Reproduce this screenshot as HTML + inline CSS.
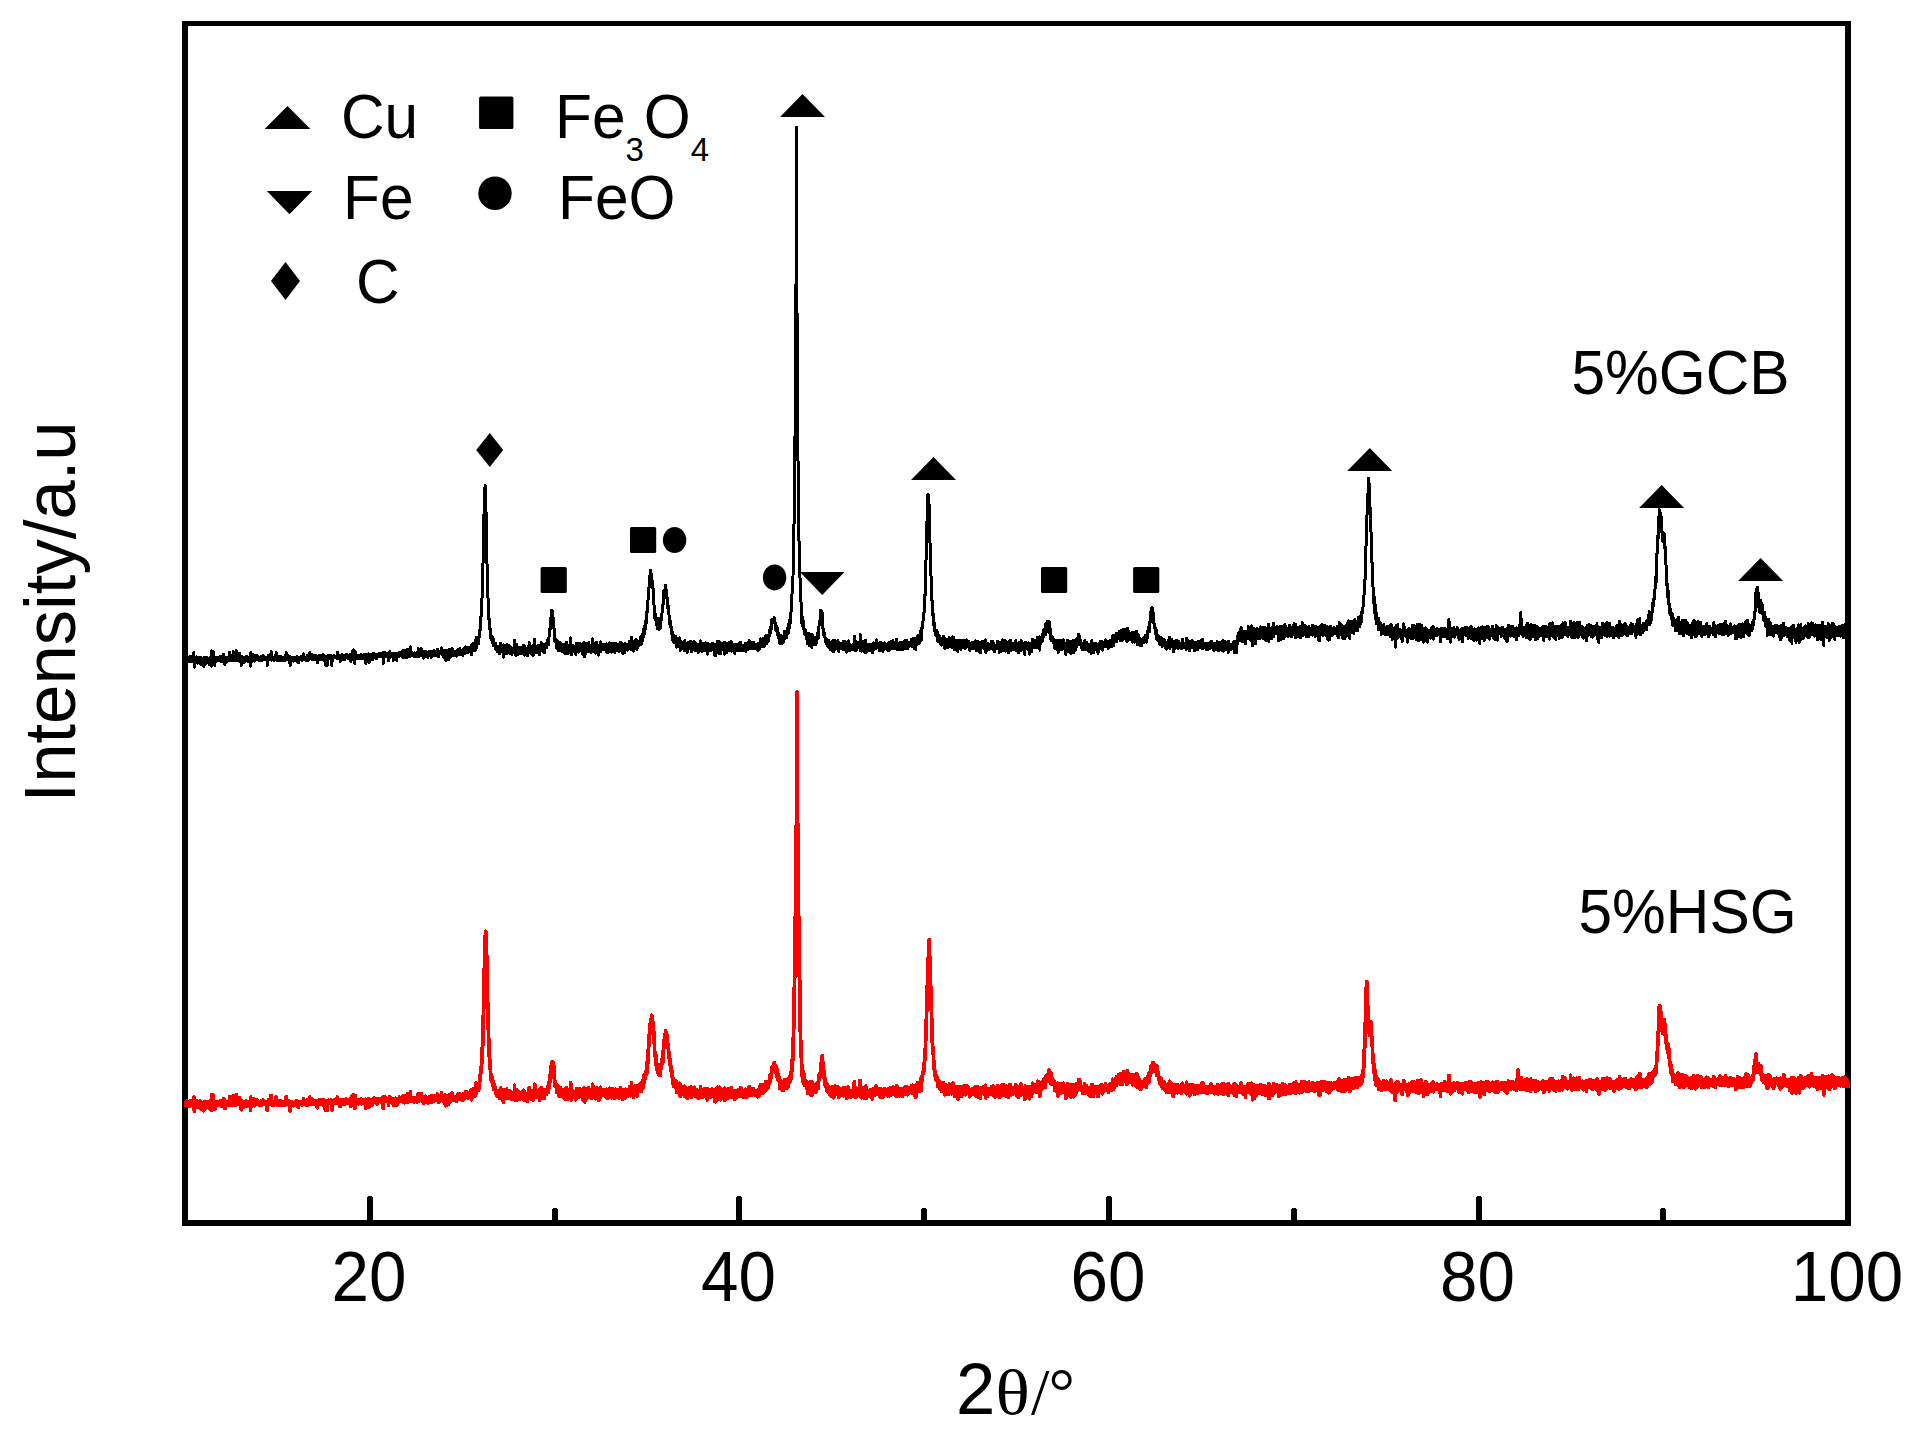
<!DOCTYPE html>
<html lang="en"><head><meta charset="utf-8"><title>XRD patterns</title>
<style>
html,body{margin:0;padding:0;background:#fff;}
body{width:1921px;height:1437px;overflow:hidden;}
svg{display:block;font-family:"Liberation Sans",sans-serif;}
.ser{font-family:"Liberation Serif",serif;}
</style></head><body>
<svg width="1921" height="1437" viewBox="0 0 1921 1437">
<rect x="0" y="0" width="1921" height="1437" fill="#fff"/>
<g fill="#000" shape-rendering="crispEdges"><rect x="182" y="21" width="6" height="1205"/><rect x="1845" y="21" width="6" height="1205"/><rect x="182" y="21" width="1669" height="5"/><rect x="182" y="1220" width="1669" height="6"/></g>
<g fill="none" stroke-linejoin="round" stroke-linecap="round" shape-rendering="crispEdges" transform="translate(185.6,0) scale(0.185,1)">
<path vector-effect="non-scaling-stroke" stroke="#000" stroke-width="3.0" d="M0 661.7l1-2.8l1 .6l1 .5l1-1.6l1 1.1l1 0l1-2.3l1 3.6l1-.6l1-1.5l1 .5l1 .9l1-1l1 0l1-1.5l1 2.6l1-.6l1 .2l1-2.3l1 4.1l1-2l1-.7l1 3.2l1-2.7l1-1.8l1 1.3l1-2.4l1 4.3l1-1.9l1-.4l1 2.3l1-3.5l1 2.8l1-3.4l1 1.9l1-.7l1 3.4l1 .4l1-2.7l1 1.5l1-1.3l1 1l1-1.8l1-5.5l1-.1l1 7.1l1 7.2l1-7.3l1-1.1l1 3.2l1-2.2l1-.2l1 .2l1-.5l1-.2l1-1.5l1 2.5l1-.7l1 1.6l1-2l1-2l1 2.3l1 2.4l1 1.5l1-4.9l1-.4l1 .2l1 1l1-1.2l1 3.5l1-2.3l1 .5l1 1.7l1 .1l1-2.2l1 .7l1 .5l1-1.2l1-2.1l1 3.2l1 .3l1-.6l1 4.9l1-5.7l1-.5l1 .3l1 2.1l1 .3l1-1.1l1-.2l1 .2l1-.9l1-.1l1-.8l1 .9l1 3l1-1.8l1 6.1l1-7.9l1-.5l1 1.6l1 0l1-2.4l1 2.5l1-1.3l1 6.2l1-5.3l1 2.1l1-2.9l1 .2l1 .8l1 1l1-.7l1-2.3l1 1.8l1-.2l1-.6l1-.3l1 3.2l1-2.8l1-.6l1 1.9l1 3l1-3.9l1 1.1l1-.4l1-.2l1 4.7l1-4.8l1-1.1l1 .3l1-.2l1 .9l1-1.7l1-.9l1 2.5l1-1.9l1-.8l1 9.5l1-15.3l1 9l1-1.3l1-.8l1-5.1l1 5.9l1 .3l1-.7l1-4.3l1-2.8l1 8.2l1-2.4l1 2.1l1 1.1l1 .6l1 .8l1-4.3l1 8.1l1-4.5l1-.3l1-2.5l1 1.8l1 1.9l1-4.5l1 2.6l1 .9l1-2.4l1 1.7l1-2.2l1 .3l1 0l1 1.4l1-.4l1 1.3l1-2.4l1 1l1 1.5l1-.6l1-2.5l1 2.7l1-1.5l1 1.1l1-.1l1 1.2l1-1.5l1-2.6l1 .7l1 2.7l1-1.3l1 1.9l1-1.2l1-1.3l1 2.4l1-2.5l1-1.6l1 5.4l1-5.3l1 3.4l1 .4l1-1.1l1-2.4l1 3.6l1-3.2l1 .1l1 1.3l1 1.5l1-5.8l1 5.8l1-1.6l1 .3l1-1.3l1 1.1l1 1.2l1 4.6l1-4.7l1-1.4l1-.1l1 .9l1-.3l1 1l1-.5l1 2l1-2.6l1 0l1-1.1l1 1.4l1 .9l1-1.9l1 .9l1 1.1l1-1.2l1-.5l1 2l1-1.2l1 .4l1 1l1 0l1-2l1-6.2l1 7.1l1-.6l1-2.3l1 4.2l1-1.7l1 .9l1-2.5l1 3.3l1-2.5l1 .6l1-1.7l1-1.8l1 3.4l1 0l1 .8l1-.5l1 1.2l1-1.9l1-7.1l1 7.7l1 .9l1 .8l1-.6l1-3.4l1 2.8l1-4.6l1 4.2l1-.7l1 1l1-6.5l1 7l1-.9l1 1.9l1-1.2l1-9.2l1 9.3l1 .5l1-2l1 .2l1-2.5l1 4.2l1-2l1-2l1 .5l1 2l1 1.3l1-1.1l1 .7l1-2l1-.4l1 3l1-.5l1-.7l1-5.4l1 4.1l1 .7l1 2l1 1l1-2.4l1 2.2l1-3l1 1.2l1 5.9l1-8.4l1 2.4l1 .9l1-1.4l1 .1l1 1.9l1-3.5l1-.3l1 1.1l1-.7l1 3.3l1-1.3l1-1.6l1 .3l1 4.3l1-4.3l1-.2l1 1.5l1 .4l1-.6l1-1.5l1-.3l1 2.3l1-.8l1-2.1l1 3.7l1-.5l1-1.4l1 0l1 .6l1-1.2l1-.9l1 2.3l1-2.4l1 2.4l1 2.4l1-3l1-.1l1 2.6l1-3.8l1-.5l1 1.1l1-.7l1 .7l1 1.4l1 .4l1 1.2l1-3.2l1 4.5l1 3.8l1-13.6l1 3.3l1 2.9l1 .2l1-3.2l1 3.2l1-.4l1 3l1-1.9l1 .5l1-2l1 1l1-1.2l1-4l1 5l1 .6l1-1.5l1-2.2l1 3.7l1-2.9l1 2.3l1 2.2l1-2.4l1-1.5l1-.4l1 3.5l1-1.6l1 .8l1 .5l1-1.3l1-.4l1-.8l1-2.2l1 1.4l1 2l1-.2l1 .8l1-.7l1 .3l1 .9l1-2.2l1 .7l1-1.7l1 3.4l1-1.2l1 .6l1 1.4l1-.6l1-1.6l1 1.2l1-3l1 2.5l1-.4l1-2.3l1 3.9l1-2.7l1 1.8l1-1.5l1 1.9l1 .5l1-2.9l1-.9l1 1.8l1 1.3l1-1.6l1-.3l1 1.4l1-4.1l1 2.6l1-1l1 2.3l1-1.4l1-.5l1 1l1-1.5l1 2l1-.9l1 .4l1-.5l1 2.2l1-1.4l1 .9l1-.1l1-1.7l1 1.8l1-.3l1 0l1-1l1 0l1 7.6l1-4.1l1-4.1l1 1.9l1-1.2l1 1.5l1-.5l1 .9l1-4.9l1 2.6l1-.5l1 1.2l1-.8l1 .1l1 1.7l1-4.7l1 .4l1 3l1 .8l1-.4l1-.4l1-7.4l1 6.6l1 2.2l1 .5l1-1.4l1-1.2l1 1.2l1-.4l1 1l1-.5l1-1l1 1.1l1-1.9l1 2.7l1 .5l1-3.2l1 2.2l1-1.9l1 2.7l1-.2l1-1.5l1 1.6l1-1.9l1-.3l1 .1l1 .6l1-.3l1-6l1 5.6l1 1.9l1 .3l1-2l1-1.2l1 2.8l1 .6l1-1.8l1-1.5l1 2.1l1 1.7l1-4.6l1 3.2l1-1.1l1-.7l1 1.8l1-2.4l1 2.1l1 1.4l1-1.5l1-1.4l1-1.2l1 .6l1-.7l1 4.6l1-2.5l1-1.1l1-.3l1 .3l1 1l1-1.3l1 4l1-3.3l1 0l1 1.4l1 1.6l1-.2l1-2.4l1 .9l1-.1l1 .5l1-.4l1-1.6l1-.4l1 1.9l1-1.8l1 3.4l1-1.8l1-1.4l1 1l1-.3l1 .5l1 1.5l1-8l1 4.2l1 2.9l1-.7l1 .5l1 .4l1-.9l1 1.3l1-2.2l1 1.3l1-1.3l1-.4l1 2.4l1-.1l1-3.4l1 1.1l1 1.9l1 1.1l1-2.3l1 .6l1-1.7l1 5.3l1 4.1l1-6.3l1-.3l1 .4l1-.4l1-1.3l1 1.4l1-.9l1 1.7l1-2.8l1 .3l1 1.6l1 .8l1-1.5l1-1.1l1 .8l1-.6l1 3.3l1-1.4l1 .5l1-1.3l1-1.1l1 2.3l1 .6l1-1.4l1-.8l1 1.5l1-2l1 1.5l1-2l1-.3l1 2.1l1-.4l1 2.2l1-3l1 .4l1-1.6l1-.9l1 .1l1 3l1-2.2l1 3.1l1 .4l1-2.3l1 2.6l1 1.8l1-2.5l1-1.8l1 1.6l1-2.6l1 2.1l1-1.5l1 .5l1 1l1-.6l1-.4l1 1.1l1 .1l1-2.9l1 2.6l1 .1l1-1.9l1 1.5l1-2.3l1 3.7l1-2.2l1 .2l1 1.7l1-1.8l1 1l1-2.3l1 .7l1-1.1l1-2.6l1 5.8l1-1.1l1 .9l1-2.6l1 .2l1 .6l1 1.4l1-.3l1-.5l1 .8l1-1l1 .1l1 1.8l1-2.6l1 1.1l1 1.9l1-2l1 .8l1-1.8l1-1.2l1-1l1 1.5l1 .1l1 3.6l1-1.8l1-.8l1-1.4l1 2.2l1-.3l1-1.1l1-1.1l1 .5l1-4.3l1 6.2l1-.3l1-.3l1-2.2l1-.9l1 1.9l1 1.4l1 .6l1-1.6l1-.4l1 2.7l1-.9l1-1.3l1-2.7l1 3.5l1 .9l1 .6l1-2.4l1 0l1 .3l1 1.7l1-2.7l1 1.4l1-1.1l1 1.6l1-2.5l1 2.7l1-1.2l1 .3l1 1l1 .9l1-3.9l1 3.7l1-.6l1-1.2l1 2.3l1-1.7l1 1.5l1-2.5l1-.4l1 6.1l1-2l1-2.1l1 .3l1-1.8l1-1.2l1 1.5l1 2.3l1-4.5l1 1.8l1-1.9l1 2.7l1 1.1l1-2.9l1 1.1l1 2.4l1-2l1-1.5l1-.1l1-1l1 3.8l1-2.1l1 2.4l1-.2l1-2.1l1 .2l1 1.7l1-.8l1 .1l1-2.6l1 3.5l1-2.4l1-1.9l1 2.2l1 1.4l1 2.3l1-3.4l1-1.3l1 4.7l1-2.7l1-.6l1-1.1l1 .1l1 8.9l1-7.9l1-.4l1 .1l1 2.8l1-3l1 1.7l1-.5l1 0l1-1.6l1 9.3l1-5.9l1-2.3l1 2.7l1-4.4l1 2l1-.6l1 .2l1 .2l1-2.1l1 3.1l1-.7l1-.5l1 .4l1 1l1-1.2l1-1.2l1 2.7l1-2.2l1-.4l1-1.1l1 2.1l1-1.5l1 .8l1 1.3l1-.6l1 7.9l1-7.5l1-1l1 .1l1-.3l1 1.6l1-.9l1-.6l1 1.7l1-1l1-.8l1-1.4l1 2.7l1-.3l1-.3l1-.6l1-.6l1 .8l1 .6l1-.5l1 0l1-.4l1 1.1l1-.2l1-1.3l1 2l1 .1l1 0l1-1.3l1-4.7l1 3.3l1 2.6l1-4l1 2.4l1 .1l1 1.6l1-1.2l1-1.3l1-.6l1 .9l1 1.1l1 0l1-.4l1-.7l1 5.8l1-3.5l1-2.9l1 1.6l1 2.1l1-1.4l1-1.4l1 1.5l1-1.9l1 1l1 2.1l1 .5l1-5l1 3.3l1 1.7l1-3.4l1 1.1l1 1.7l1-2.7l1 1.3l1-.7l1 1.1l1-.6l1-.7l1 1.5l1 1.6l1-2l1-1.4l1 1.1l1-.4l1 1.2l1-3.4l1 .4l1-1.3l1 3.7l1-.9l1-.8l1-.2l1 .2l1-.5l1 .9l1-.3l1 2.6l1-1.5l1-1.5l1 .3l1 2.4l1-1l1-.2l1 .5l1 1.2l1-3.8l1 .6l1-1.4l1 3.1l1-1.2l1-.4l1-.2l1 6l1-5.1l1-.6l1 2.5l1-3.2l1-.3l1 5.3l1-9.2l1 4.9l1-.3l1 .8l1 1.3l1-.1l1-.3l1-1.1l1-1.7l1-4.7l1 8.9l1-.7l1-1.7l1 1.4l1-1.7l1 7.5l1-12.6l1 5.2l1 .6l1-.4l1 1.3l1 1.5l1-.8l1-2.2l1-.6l1 .1l1-.5l1 1.4l1 .5l1-.3l1 0l1 0l1-.4l1-.9l1 3.4l1-.9l1-2.7l1 0l1 .4l1 .8l1 1.7l1-.3l1 0l1 .1l1 0l1-.5l1-.4l1-.8l1-2.3l1 2.2l1 2.7l1-3.2l1-.2l1 2.3l1-1.3l1-.8l1 2.8l1-1.3l1 .2l1-1.8l1 1.4l1-.1l1 .5l1 .5l1 0l1-1.3l1 .7l1-2.6l1 2.5l1 0l1-1.5l1-.5l1 1l1-1.6l1 8.8l1-6.7l1-1.8l1 1.4l1 1.4l1 0l1-.1l1-1.6l1-.3l1 0l1 1.3l1 2.4l1-1.3l1 .3l1-.4l1-4.1l1 2l1 6.6l1-4.6l1 .6l1-3.3l1 6.4l1-4.7l1-1.5l1-.2l1 0l1 2.1l1-2.5l1 2.8l1-1.4l1 .9l1 1.1l1-3.1l1-.2l1 1.7l1-2l1 5.4l1-4.1l1 .3l1-1.9l1 1.2l1 1.3l1 1l1-4.5l1 4.5l1-.6l1-2.7l1-.6l1 2.6l1-1.1l1 .7l1 1l1-1.7l1 .7l1 .5l1 .5l1 1.2l1-.1l1-2l1-.7l1 3.6l1-2.4l1-.3l1-2.1l1 2.6l1-2.1l1 .4l1-1.2l1 1.1l1 .8l1-2.2l1 .9l1 1.1l1-1.7l1 0l1 .6l1-.8l1 2.8l1-2.2l1 2.4l1 .2l1-2.9l1 1.7l1-.7l1-1l1 1.1l1 .2l1 1.3l1 .4l1-2.9l1 .9l1 1.3l1 .9l1-5l1 11.5l1-8.4l1 2.3l1-2.7l1-.5l1 1.2l1 1.5l1-1.6l1-3.3l1 4.2l1-3.2l1 .9l1-.2l1-1l1 .8l1 .4l1 .5l1 .8l1-.4l1-1.6l1 1.8l1 1.5l1 0l1-1.1l1 .6l1 .4l1 .7l1 .4l1-2.8l1 5.5l1-3l1 .1l1 0l1-5.4l1 2.9l1-3.3l1 4.6l1-.9l1 0l1-.3l1 2l1-2.2l1 1.8l1-.7l1-.3l1 .2l1-.5l1-1.7l1 2.5l1 0l1-1.2l1 1.2l1 .2l1-3l1 1.6l1 5.3l1-6.4l1 1.7l1-1.6l1 .5l1 1l1 .1l1 0l1 2.6l1-3.8l1 1.1l1-2.1l1 2.4l1 .9l1 .1l1 1.7l1-3.8l1 5.5l1-5.3l1 5.8l1-7l1 3.3l1-.5l1-.8l1-1.8l1 .9l1 .4l1 .2l1-.6l1-.1l1 .5l1 1.7l1-4.7l1 .8l1-.2l1 1.2l1-1.5l1 3.2l1-.7l1-.4l1-.6l1 1.1l1 0l1 .2l1-1.4l1 1.9l1-3l1 3.8l1-5.4l1 2.8l1-.8l1 2.7l1-3.1l1-2.1l1 2l1 4.9l1-2.2l1-.6l1 .6l1 2.4l1-1.8l1-4.4l1-1l1 4.5l1-2.6l1 3.3l1-2.8l1 2l1 0l1-1.2l1 1.8l1-2.3l1 1.6l1-1l1 .5l1 2.9l1-2.5l1-5.8l1 5.5l1-.9l1 1.1l1 .1l1-.1l1 0l1-.9l1 1.4l1 .9l1-2.4l1 .8l1 .2l1 1.6l1-.2l1-9.2l1 7.7l1-2.2l1 .8l1 1.3l1 .9l1 .4l1-1.7l1-1.5l1 2.4l1-.8l1 .9l1-.4l1 .8l1-.1l1 .2l1-1.8l1 2l1-2.1l1 .8l1 2.5l1-2.1l1-2.1l1 3.7l1-.7l1 .2l1-1.4l1 .2l1-.8l1-.6l1 3.1l1-2.7l1-.2l1 .1l1 3.2l1-1.4l1-1.7l1 .4l1 .8l1 .5l1-3.5l1 3.5l1-6.7l1 4.5l1 .4l1 1.6l1 1.4l1-2.3l1 .6l1-1.9l1 1.8l1 .4l1-3.2l1 1.3l1 1.9l1-3.6l1 1.9l1 1.4l1-3.3l1 1.9l1-4.9l1 6.7l1-3.1l1 3.4l1-1.2l1 1.3l1-.1l1-1.1l1 .2l1-3.2l1 6.5l1-5.5l1 .9l1 1.9l1-3.9l1 2l1-1.4l1 3.7l1 .3l1-2l1 2.2l1-.6l1-3.1l1-1.3l1 5.6l1-3.6l1-1l1 2.6l1-.8l1-1.2l1 .5l1 .7l1-.1l1 1l1-1.7l1 4.8l1-3.4l1-.4l1 1.1l1-1.9l1 .2l1-1.6l1 3.9l1-4.3l1 2.4l1-1.7l1 1.9l1 .6l1-3.6l1 2.1l1-2.3l1 4.7l1 1l1 .6l1-4.7l1 3l1 .2l1-.3l1-3.1l1 .9l1 2.7l1-3.6l1 .6l1-.9l1-.3l1 3.6l1-.9l1-4l1 3.9l1 .6l1 .8l1-2.3l1-.6l1-1l1 3.2l1-2.5l1-1.5l1 1.9l1 .4l1 1.3l1 .2l1-2.6l1-.2l1 .8l1-1.4l1 1.7l1-4.2l1 4.4l1-2.6l1 .7l1 3.8l1-3.6l1 2.7l1-.1l1 2.7l1-5.3l1 1.9l1-1.7l1 1.1l1 .4l1-1.3l1 .8l1-.2l1-1.5l1 1.7l1-.7l1-1.9l1 2.3l1-4.9l1 4.5l1-2.4l1 4.6l1-.2l1-.1l1-.5l1-2.5l1 2.2l1-1.7l1 5l1-4.4l1 1.9l1-3.6l1 .6l1 6.7l1-3.7l1-.2l1-.5l1-3.4l1 4.8l1-3.4l1 4.2l1 .4l1 4.7l1-6.2l1-3.7l1 6.3l1-3.9l1 1.3l1-3.1l1 1.3l1-1.8l1 1.5l1 .4l1 .4l1 1.9l1-1.5l1 5.9l1-6.7l1 3.3l1-4.3l1 2.9l1-5.3l1 5.3l1-1.3l1-1l1 4.6l1 0l1-6.9l1 .7l1 1.6l1 3.1l1-1l1-1.4l1-2.9l1 .9l1-3l1 1.8l1 3.3l1 .6l1-3.5l1 2.4l1 2.5l1-2.5l1-.8l1 1.6l1-.2l1-.8l1-1l1 .1l1 .9l1-1.1l1 3.2l1-.8l1 .4l1 1.6l1-.8l1-.3l1-1.8l1-1l1 4.3l1-5.2l1 .1l1-.5l1 1.9l1 .3l1 1.1l1-2.2l1-2.7l1 3.6l1 1.1l1-1.6l1-.3l1 1.2l1 1.5l1-2.7l1-2.4l1 1.5l1 .7l1-2.9l1 4.5l1-2.7l1 2.2l1-.6l1-.9l1 3.4l1-3.9l1-.2l1 1.7l1 .9l1-1.5l1-1.8l1 3l1-.2l1 2.6l1-4.1l1 .7l1-1.4l1-1.7l1 2.8l1 1.3l1-3.3l1 .5l1-.9l1 4.5l1-3.6l1 2.2l1-2.7l1 1.7l1-1.3l1-3.2l1 4.4l1 .8l1-1.6l1 .2l1-.5l1-1.2l1 1.4l1-3.1l1 4l1 1.6l1-4.5l1 2.1l1 2.7l1-2.4l1-1.2l1-.8l1 1.9l1-.6l1 1.3l1-4l1 4.7l1-2.8l1 1.9l1-2.6l1-1.1l1 1.2l1-.8l1 1l1 1.8l1-5.7l1 4.7l1 5.1l1-6.5l1 1.9l1 .9l1-2.9l1 .3l1-1.3l1 1.7l1 1.2l1-6.8l1 5.2l1-1.6l1-3.5l1 4.8l1-.9l1 .6l1-3.4l1 6.4l1-4l1 3.9l1-1.7l1-1.9l1 .1l1 .4l1-10l1 10.3l1-4.1l1 .8l1 .9l1-3.5l1 1.6l1 .4l1-2l1 .5l1-4.5l1 .2l1-.6l1 2.3l1 3.6l1-5.3l1-1.7l1-.7l1 1l1-1.7l1-4.9l1 2.8l1-3.5l1-.1l1-7.5l1-1.3l1 1.8l1-7.5l1 1.2l1-3.6l1-4.2l1-3.9l1-5l1-5l1-7.6l1-5.7l1-1.8l1-10.5l1-9.2l1-9.1l1-11.3l1-7.4l1-10.3l1-6.7l1-12.1l1-10.4l1-2.4l1-1.7l1 1.5l1-2.6l1-1.4l1 6.1l1 5l1 9.2l1 7.2l1 7.7l1 13.5l1 8.7l1 8.3l1 9.5l1 11.5l1 3.6l1 5.9l1 8.8l1 .7l1 10l1 1.6l1 4.1l1 5.6l1 6.5l1-1.9l1 6.1l1 1.3l1-1.5l1 6.5l1-1.8l1 .2l1 2.7l1 1.3l1 3.8l1-1.7l1 5.5l1-1.8l1-1.2l1 .5l1 2.8l1-4l1 .2l1 3.2l1 3.5l1-.4l1 0l1 0l1-3.7l1 4.1l1-2.6l1 5.6l1-1.4l1 .1l1 1.2l1 .1l1 .1l1 .4l1-1.7l1-1.4l1 3.7l1 2.5l1-3.8l1 .6l1 1.9l1-2.1l1 1.9l1-2l1 1.7l1 4l1-2.4l1 1.6l1-4.7l1 .3l1 1.5l1 1.3l1-1.5l1 2.6l1-3.2l1 4.1l1-.7l1-4.4l1 7.7l1-5.6l1 2.7l1-3.3l1 1.9l1 .5l1-6.6l1 1.6l1 4.3l1-.5l1 2.5l1-1.7l1-3.1l1 3.4l1-2.2l1 1.1l1-.6l1 1.9l1-3.7l1 .6l1-2.3l1 12.5l1-9.8l1 4l1-4.3l1 1.1l1 .5l1 2.3l1-.9l1 .3l1-2l1 1.2l1 2.8l1-2.7l1 .8l1-5.1l1 5.5l1 2.8l1-1l1-8.5l1 5.7l1-.3l1 .5l1-1.6l1 1.9l1 1.1l1-1.5l1-.7l1 .2l1-.4l1 1l1-1.7l1-2.8l1 7.4l1-6.9l1 3.6l1-2.6l1 2.3l1-1.5l1 2l1-1.7l1-1.1l1 3.6l1 2.3l1-2.2l1-.5l1-2.6l1 7l1-3.7l1-2.4l1 3.5l1-2.1l1 .8l1-1.9l1 .1l1 1.5l1 .4l1-.1l1-3l1 .6l1 1.6l1-9.6l1 12l1-1.6l1-.7l1-1.7l1 3.5l1 3.3l1-.9l1-3.4l1-4.2l1 5l1-2.9l1 6.1l1-10.3l1 5.1l1 .9l1 1.2l1-.7l1-2.7l1-1.5l1 1.3l1 2.6l1 1.2l1 2.1l1-7.2l1 3.3l1-.7l1-.4l1 1.2l1-.9l1 0l1-.9l1 2.4l1 1.5l1 1.3l1-4.9l1-1.3l1 1.9l1-1.4l1 4.3l1-4.2l1 2l1-3.2l1 2.2l1 1.3l1 3.1l1-5.2l1 2.5l1-5.7l1 2l1 .9l1 .8l1 6.3l1-3.8l1-5.1l1 4.9l1-3.8l1 6.8l1-3.5l1-.4l1-.8l1 .4l1 0l1-1.6l1 3.3l1-1.1l1 1.1l1-1.8l1 1.7l1-3.4l1 7.9l1-7.8l1 3.7l1 .2l1 .6l1-4.7l1-2l1 .6l1 .9l1-5.2l1 7.1l1 2.8l1 .1l1-3.9l1 2.6l1 .8l1 1.2l1-3.6l1-1.4l1 3.4l1 1.8l1-4.7l1 5.7l1-.6l1-4.6l1-3l1 2.2l1 .6l1 2l1-5.1l1 9.5l1-.2l1-7.1l1-2.7l1 3.9l1 1.4l1-3.5l1 4.1l1-2.1l1-9.8l1 11.4l1 .8l1-2.7l1 1.3l1-.2l1-1l1-2.2l1 3.5l1-4.1l1 6.5l1-5.4l1 3.2l1-2.8l1 2.5l1-1.4l1 1.7l1-3.1l1-1.9l1 3.1l1-.2l1-2.7l1 1.8l1-2.3l1 4.1l1-1.1l1 .8l1 6l1-5.7l1 .4l1 .6l1-1.8l1-1.1l1 3.3l1 .3l1-8.3l1 5.5l1-.5l1-.6l1 .8l1-.8l1 3.1l1-3.3l1 .2l1 2.6l1-3.5l1 1.2l1-2.2l1 .4l1 3.6l1 3.9l1-8.5l1-.2l1 8.5l1-7.5l1-.7l1 3l1-3.1l1 .7l1 2.7l1 .1l1-3.1l1 3.3l1-3.7l1-.6l1 .2l1-1.1l1 1.5l1-1l1-3l1 1.7l1-2.4l1-.8l1 .3l1 5.4l1-6.3l1 1.3l1-.5l1-5l1-2.7l1-2l1 .9l1-.4l1-.1l1-8.7l1 3.3l1-1.7l1 1.4l1-7l1-2l1-4.7l1 1l1-1.1l1 .3l1 .9l1-.5l1 4.8l1 2.8l1 2.7l1-.1l1 4.6l1 2l1-9.6l1 10.1l1-.7l1 2.2l1 4.2l1-2.4l1 7.9l1 2.4l1-2.8l1-.5l1 .9l1 1l1 2l1-2.4l1 3.6l1-1.5l1 3.5l1 1.1l1 1.3l1-4.1l1-2.5l1-.5l1 3.5l1-2.5l1-.3l1 3.2l1-1.3l1 4.1l1 3.1l1-4.9l1 1.4l1-4.3l1 4.2l1-2l1-.8l1-1.7l1 8.2l1-7.5l1 1.1l1 2.9l1 .7l1 .1l1-.4l1 .9l1 .8l1-1.3l1-3.8l1 7.2l1-4.5l1 3l1-5.6l1 .7l1 1.5l1-.3l1-1.8l1-.3l1 4.2l1-2.7l1 3.6l1-.7l1-1.8l1 6.6l1-5.3l1 5.6l1-8.6l1 2.8l1-4.2l1 4.9l1-1.1l1-1.2l1-4l1 9.2l1-5.3l1 1.5l1 2.7l1 3.2l1-4l1 1.2l1 2.1l1-2.8l1-.3l1-2l1-.1l1 1.5l1 3.5l1-2.4l1 2l1-6.9l1-.9l1 4.9l1 .3l1-4.4l1-1.1l1-6.5l1 9.9l1 6.4l1 .5l1-8.8l1 3.6l1-1.5l1 1.1l1-1.4l1-2l1 1.8l1 2.9l1-.9l1 2.1l1-5.4l1 5l1-2.3l1 .3l1 2.5l1-3.2l1 .9l1 .9l1 0l1 .4l1 1.1l1-1.8l1-2.3l1 6.9l1-5.9l1 1l1-2.7l1-3.4l1 3.4l1 1.9l1 1.1l1-1.1l1 1.8l1 .4l1 0l1-2.3l1 .2l1-.7l1-1.6l1 5.5l1-6.4l1 2.8l1 .7l1-5.6l1 6.8l1-2.6l1 1.4l1-1.3l1-2.9l1 4.1l1-.2l1 2.1l1-1.2l1-5.2l1 6.6l1-.7l1-.1l1-.6l1-2.9l1 3l1-2.2l1 7l1-6.7l1-2l1 1.8l1 4.2l1-4.8l1-4.4l1 9.2l1-6.6l1 2l1 9l1-5l1-5.6l1 5l1-3.5l1 2.5l1-1.3l1 5.3l1-5l1-5.2l1 6.5l1-2.7l1 3.2l1-1.9l1 3.1l1-4.1l1-4.1l1 4.1l1 2l1-2.1l1-.3l1 4.6l1-9.4l1 8.4l1-2.1l1-3.8l1 1.2l1 1.4l1 1.5l1-2.7l1-1.4l1 .9l1 1.2l1-.9l1 .7l1 5.9l1-3.8l1-2.6l1 1.9l1 3.8l1-2.3l1-1.8l1-3l1-6.2l1 8.6l1 .6l1-3.6l1 .7l1 3l1-5.2l1 1.2l1 4l1 1.4l1-.5l1 1.6l1 1.3l1-1.6l1-2.8l1 5.7l1-1l1-1.8l1-4.2l1 2.9l1-6l1 4.2l1-5.1l1 4.9l1 3.5l1-2.5l1 3.9l1-3.9l1 .2l1-.9l1 1.9l1-1.3l1 2.9l1 4.2l1-6.2l1-3.5l1 4l1 1.9l1-1.7l1-.9l1 1.6l1 .9l1-9.4l1 9.8l1-1.7l1-.7l1-2.5l1 1.8l1 1l1-5.1l1 5.4l1-1.6l1 .5l1 .9l1-2l1 .5l1 1.4l1-1.2l1 1l1-3l1-1.3l1 1.6l1-2.1l1 1.6l1 2.7l1-4.8l1 1l1 4.7l1-3l1 1.2l1-2.9l1 .4l1 1.8l1 4.6l1-2.8l1-5.1l1 5.1l1 1.1l1-.5l1-4.6l1 2.7l1 5.3l1-7.3l1 3l1-2.6l1-1.3l1 2l1 3.5l1 .3l1-4.9l1 1l1-1l1-2.8l1 6.4l1 2.3l1-4.7l1-.2l1 4.3l1-.6l1-3.4l1 .8l1-.9l1 1.5l1 3.8l1-6.6l1-.7l1 5l1-2l1-4.7l1 2.1l1 .5l1 .5l1 2.2l1 1.6l1-2.7l1 .7l1-2.2l1 4.3l1 .8l1-3.9l1-1.2l1 6.8l1-5.9l1-1.3l1-1.9l1 3.4l1 3.6l1-4.2l1 .7l1-.6l1 2.7l1 1.8l1-6.4l1 2.3l1 .2l1-1l1-1.4l1 4.9l1-1.6l1 1.3l1 1.9l1-4.5l1 2.1l1 3.3l1-4.8l1 1l1-1.2l1-3.3l1 7.3l1-3.3l1-3.1l1-2.6l1 5.3l1 1.6l1 .8l1 .3l1-3.6l1 2.4l1-5.3l1 4.1l1 1.8l1-3.7l1 1.1l1 6.7l1-6l1 3.3l1-6.3l1 5.9l1-6.3l1 1.4l1-.3l1 1.6l1-1l1 2.4l1-1.2l1 5.3l1-8.7l1 2.7l1 1.5l1 .6l1-2l1-2.2l1 .7l1 2.4l1 1.5l1-.9l1-1.4l1 1.6l1-2.6l1 1.8l1 2.8l1-.8l1 .6l1-4.2l1 1.3l1-2.9l1 4.6l1-3.3l1-2.2l1 2l1 1.8l1-6l1 1.9l1 5.8l1-2.2l1-.4l1-3.9l1 7.8l1-1.4l1-.9l1-10.6l1 10.3l1 1.3l1-3.6l1 .1l1-.6l1 2.6l1-2.1l1-.2l1-2.9l1-.5l1 9.7l1-2l1-1.8l1 1.3l1-4.8l1 1.1l1 1l1-5.1l1 8.1l1-7.3l1-1.7l1 3.9l1-3.9l1 6.6l1-7l1 7.6l1-.7l1-1.5l1 2.5l1 2.2l1-5.3l1 1.2l1-1l1 .3l1-2.7l1-.6l1 3.1l1-2.9l1 3.4l1-.5l1-3.1l1 1.8l1-.9l1-.7l1 2.9l1-2.8l1 .3l1-5.5l1 5.9l1-5.2l1 2.4l1 4.6l1 .1l1-5.6l1-2.4l1 3.7l1-2.3l1 1.5l1-.7l1 1.8l1 .6l1-7.8l1 1.2l1-.4l1 2.9l1-7.2l1 4.7l1-7.2l1 3.3l1 2.8l1-7.4l1 .5l1 .4l1 2.6l1-3.7l1-2.4l1 1.9l1-3.8l1-1.9l1-.7l1-.1l1 3.5l1-10.6l1 1.4l1-3.2l1-2.4l1 2.1l1-.9l1-5.9l1-5.2l1-3.5l1 .2l1-4l1-3.3l1 .5l1-7.1l1-1.1l1 1.5l1-4.1l1 .1l1-5.2l1 2.7l1-4.2l1 4.7l1-1.4l1-.4l1 3.3l1-1.8l1-.9l1 7l1-1.1l1 4.3l1-.4l1 4.8l1-2.5l1 1.4l1 2.1l1 7.7l1-4.3l1 2.8l1 6.6l1 2.7l1 2.5l1-1.1l1 5.7l1 6l1-1.6l1 .9l1-2.6l1 3.5l1-3.4l1 6.3l1-3.9l1 4.8l1 2.5l1-.9l1 2.3l1-1.2l1 0l1 3.1l1 .4l1 .9l1-1.3l1-2l1 1l1-.1l1-4.8l1 1.4l1 6.2l1-4.2l1-7l1 6.1l1 .1l1-4l1 8l1-3.6l1-1.5l1-3.3l1 .7l1-.1l1-1.9l1-4l1 1l1-1.4l1-.9l1-4.6l1 1.8l1-2.1l1-.9l1 4.2l1-11.3l1 4.1l1-1.7l1-6.6l1 1.6l1-7.7l1 4.3l1 2.4l1-2.1l1 2.7l1-5.3l1-3.4l1 2.7l1-6.3l1 10.5l1-3.3l1-3.1l1 4.2l1-1.5l1 2.9l1-.4l1 2.1l1 3.5l1-2.2l1 8.6l1 1.2l1 .1l1-2l1 .2l1 5.7l1 1l1 .7l1 1.9l1 .1l1 4l1-.8l1 2.6l1 3.9l1-4.7l1 3l1 .8l1 .8l1-.3l1 3.6l1 1.9l1 .2l1-2.8l1 6.4l1 .7l1-.8l1-2l1 .9l1 7.5l1 0l1-2.6l1-2.9l1 5.8l1-2.3l1 4.1l1-5.1l1 2.9l1-1.3l1 2.6l1-3.1l1 4.1l1-2.9l1-1l1 3.8l1-.6l1-5.5l1 5.3l1 .5l1 .4l1 4.7l1-6.4l1 1.7l1-4l1 .8l1 2.3l1 1.2l1 0l1 2.1l1 .4l1 .8l1-2.8l1 1.7l1-2.9l1 2.8l1 .4l1-2.3l1-5.2l1 5l1 8l1-6.5l1-1.3l1 2l1 2.5l1-1.8l1-1.3l1-2.6l1 2.5l1-2.2l1 3.9l1 2.9l1-1l1-4l1-1l1-.9l1 4.6l1-3l1 3.9l1-1l1-3.8l1-1.8l1 4.9l1-2.1l1 6.8l1-9.9l1 2.6l1 .4l1 3l1 1.1l1-3l1 2.9l1-4.7l1 2l1-1.7l1 1.6l1-.2l1 2.4l1 5.8l1-9.9l1 2.9l1 2.3l1-1.5l1 3.3l1-6l1 4.5l1-3.9l1 4l1-1.6l1 .3l1-2.1l1-3.1l1 1.9l1 4.5l1-2.4l1 2.5l1-1.5l1 1.3l1 .9l1-7.9l1 6.3l1 4l1-6.7l1 4.4l1-2.3l1 2l1-3.1l1-.9l1 .9l1 3.7l1-4.1l1-.7l1 4.9l1-4.2l1-1.5l1 .7l1 3.6l1-6.8l1 6.8l1 .6l1 1.4l1-4.3l1-.9l1 2.5l1-.1l1 2.9l1-3.1l1-1.2l1-2.2l1 2.8l1 .7l1 2.8l1-2.7l1 3.1l1-.2l1-5l1-1l1 1.3l1 6.6l1-7l1 3.8l1-.1l1 1.4l1-2.4l1-1.7l1 2.1l1-3.3l1 2.6l1-2.2l1 4.8l1-9.4l1 8.6l1 .1l1-2.3l1 1l1-.3l1 2.7l1 .9l1-4.1l1 4.1l1-5.7l1 2.6l1 .1l1-4.3l1 4l1-2.5l1 3.7l1 .9l1-7.3l1 1.2l1 3.3l1 .7l1 .1l1-2.8l1 3.9l1-3.3l1 .8l1 3l1-2.8l1-4.3l1 6.5l1-1.8l1-1l1 4.2l1-1.6l1 0l1-1.3l1 6.2l1-11l1 8l1-6.6l1 5.9l1-3.8l1-.6l1 5.1l1-4.5l1 1.7l1-.8l1 1.1l1-4.3l1 2l1 1.2l1 .4l1 2.5l1-1.5l1 .2l1-1.6l1 3.3l1-4.6l1 1.2l1-3.4l1 1.1l1 4.7l1-2.2l1-4.6l1 4.6l1-.5l1-2.2l1 3.6l1-1.5l1 .7l1 2.3l1-3.8l1 4.2l1-3.4l1 .1l1 8.1l1-6.6l1-1.9l1 .7l1 .8l1-4.1l1 11.4l1-7.8l1-3.2l1 .9l1 4.5l1-5.3l1 8.5l1-8.1l1 3.2l1-6.9l1 6.2l1-1.1l1 2.5l1-.7l1-1.3l1 6.2l1-3.5l1-3.7l1 2.7l1-7.4l1 5l1 4.6l1-4.5l1 1.7l1-3.2l1 4.8l1-1.6l1 5.6l1-3.6l1 1.7l1-2l1-6.4l1 5.3l1-.3l1-3.5l1-1.2l1 3l1 .3l1 .6l1-1.7l1 2.2l1 .4l1-1.5l1 1.7l1-2.5l1-2.4l1 3.9l1 2.2l1 4.5l1-12l1 4l1-.9l1 8l1-4.3l1-1.2l1 2.2l1-4.4l1 1.7l1 4.2l1-1.8l1-6.3l1 9.3l1-6.9l1 2.4l1-1.7l1-.1l1-.6l1 3.2l1-3.5l1-1.2l1 1.8l1 1.4l1-5l1 7l1-3.8l1 3.6l1 1.6l1-2.6l1 .5l1-2.5l1-.5l1-3.1l1 4.3l1-.9l1-4.6l1 6.6l1 3.1l1-2.8l1 1.9l1-3.5l1-1.9l1 2.7l1-1l1-2l1 5.4l1-2.2l1-2l1 2.1l1-.9l1 1.9l1 2.5l1-5.6l1-1.4l1 6.4l1 2.6l1-7.5l1-.8l1-.7l1 2.9l1 .3l1-.9l1 2.7l1-4.1l1 .6l1-1.7l1 1.2l1 4.6l1 .6l1-5.4l1 5.5l1-2.7l1 1.1l1-.3l1-2.3l1 .4l1-3.4l1 2.4l1 .8l1-2.3l1 3.1l1 3l1-4.5l1-1.1l1 .2l1 2.6l1-.9l1-4.9l1 5.5l1-3.3l1 4l1 .7l1-2.6l1 .9l1-1.5l1 3.4l1 1.5l1-2.4l1 .3l1-1.1l1-1.7l1-.4l1 .9l1 1.3l1-.3l1 2.5l1-.6l1 1.8l1-1.8l1-2.5l1 .8l1-4.3l1 8.2l1-5.6l1 .4l1 5.6l1-7.3l1 4l1-1.5l1-1.3l1 1.7l1 .4l1 .9l1-1.8l1 2l1-2.6l1 2.3l1 1.4l1-7.2l1 3.7l1 1l1-5.1l1-1.8l1 7.2l1-2.4l1 3.6l1-2l1-.1l1-.8l1 1.1l1-2.5l1 .9l1 3.3l1-2.6l1 1.8l1-1.3l1-.8l1-1.6l1 4.5l1-4.2l1-1.9l1 .1l1 4.5l1 .3l1-2.6l1-2.5l1 3.7l1 .6l1-1.6l1-.4l1 3.9l1-2.5l1-.8l1 3.1l1-2.2l1-1.7l1 3.9l1-3.1l1 3.2l1-4l1 2.4l1 2.2l1-1.9l1 .1l1-.2l1 1l1-2l1 .9l1-1.7l1 5.3l1-7l1 4.2l1-4.5l1 3.7l1 1.9l1-6l1 7l1-6.8l1 .3l1 2.8l1-3.6l1 5.1l1-1.3l1-7.7l1 2.9l1 5l1-.6l1-3.7l1 .7l1 3.3l1-4.1l1 3.1l1-4.2l1 5.8l1-2.8l1-2.7l1-3.1l1 1.6l1 6.4l1-3.9l1 3.9l1-6l1 .8l1 1.9l1 2.8l1-3.4l1-2.1l1 3.1l1-.7l1 .8l1-1.9l1-1.3l1 1.3l1-6.4l1 6.5l1 2.1l1-2l1-4l1 3l1 1.9l1-4.9l1 .4l1 .6l1-2.4l1 1l1 3.2l1-5.5l1 5.4l1-4.3l1-.8l1 .9l1-.7l1-.3l1-1.9l1-3.6l1 4.8l1-5.2l1-2.5l1 3.5l1-1.4l1-2.4l1-.6l1 .5l1 2.6l1-5.7l1-3.6l1 1.1l1 2.1l1-2.2l1-1.6l1 3.1l1-.2l1-2.5l1 1.2l1-2.2l1 .2l1 1l1-2.2l1 4.6l1-3.5l1 2.5l1 2.1l1 .7l1-1.5l1 1.1l1 .2l1 6l1-6.8l1 4.7l1 2.9l1-4l1 4.2l1-2.7l1-1.4l1 7.9l1-2.9l1-1.7l1 1.7l1 2.4l1 3.1l1-4.8l1 3.8l1-3.1l1 1.6l1 1.7l1-1.9l1 2.3l1-1.6l1 8.4l1-7.4l1 2.9l1-3.6l1-.5l1 2.6l1-.5l1 .1l1 .9l1-2.5l1 7.4l1 .3l1-4.9l1 4.4l1-.3l1-5.8l1 .3l1 .9l1 5l1-5.2l1-.4l1 3.9l1-3.9l1-.1l1 1.7l1-1.2l1-6.5l1 2.6l1 4.7l1-5.5l1 1.7l1 1.2l1 .5l1-.2l1-5.4l1 2.4l1-1.2l1 2.8l1 2.8l1-4.7l1 .3l1-5.5l1 3.5l1-.2l1-.5l1 1.4l1 1.3l1-4.2l1 .3l1-5.6l1 4.5l1-2.3l1-5.4l1 4.1l1-3.6l1 2.9l1-2.7l1-2.4l1 2.4l1-6.3l1-2.3l1-1.2l1-2l1-4.9l1 .8l1-3.4l1-8.5l1-3.4l1 2.8l1-4.3l1-2.6l1-9l1-4.4l1-10.9l1-4.9l1-13.6l1-12.2l1-9.5l1-14.2l1-13l1-13.5l1-22.3l1-19.1l1-19.9l1-25l1-29.9l1-29l1-23.4l1-48.8l1-72.6l1-63.3l1 75.9l1 68.7l1 44.1l1 36.3l1 31.7l1 19.1l1 21.2l1 28.2l1 22.2l1 10.5l1 19.8l1 12.4l1 15.6l1 10.4l1 6.3l1 10.7l1-2.1l1 15.1l1 3.5l1 6.4l1 8.3l1 7.1l1-1l1 2.5l1 2.6l1 5.6l1 .2l1 5.2l1 9.2l1-6l1-.8l1 4.5l1-2.1l1-1.3l1 8.6l1 3.1l1-.4l1-3.2l1-4.5l1 5.4l1 4.2l1-1.8l1 5.2l1-4.8l1 3.9l1-.1l1 .6l1-3.6l1 3.7l1 1.4l1-1.2l1-1.9l1 2.4l1-.8l1 3.6l1 1.9l1-1.3l1 .4l1-1.1l1 6.8l1-10.7l1 5.3l1 2.2l1-3.3l1 3.3l1-5.4l1 4.1l1-.4l1 1.8l1-.7l1 5.4l1-11.8l1 2.8l1 2.1l1 2l1-1.7l1 0l1-2.2l1 .6l1 1.3l1 2.1l1-1.8l1 8.8l1-4l1-9.2l1 8.7l1 .5l1-5.6l1-1l1 7.8l1-6.1l1 4.5l1-.5l1-5.9l1 5.8l1-5.6l1 7.1l1-3.4l1 1.1l1-.2l1-1.7l1 4.6l1-1.9l1 1.3l1-3.2l1 1.8l1-5.5l1 5.7l1-1.4l1-3.5l1-.8l1 .9l1-4.8l1 3.8l1 .2l1-2.8l1-2.8l1 6.4l1-4.3l1-4.7l1-.1l1-3.8l1-1.7l1-1.9l1 1.2l1 1.6l1-.9l1-3.7l1 1.3l1-2.5l1-8.3l1 2.7l1 2.3l1 .8l1 1.3l1-5.6l1-.4l1 11.2l1-9.9l1 10.4l1-.8l1-1.9l1 8.7l1-.8l1 4l1-.8l1-2.7l1 3.6l1 3.7l1-3.2l1 3.1l1-.2l1-1.8l1 2.9l1 2l1 2.5l1-2.1l1-1.1l1 3.6l1-2.5l1 2.9l1 .1l1-1.1l1 2.9l1 1.1l1-6l1 4.8l1-1.6l1-.1l1 1.1l1 2.9l1-3.2l1-.3l1-2.2l1 2.8l1 .6l1-2.3l1 1.7l1 2.1l1 2.3l1-4.1l1 5.8l1-2.4l1-.2l1-.7l1-1.1l1-1.8l1 1.5l1 .4l1 .3l1 3.5l1 1.2l1-3.6l1 1.2l1-4.2l1-3.2l1 4.8l1 .9l1 2.9l1 2.6l1-5.3l1 2.6l1-.5l1-2.2l1 1.6l1-1.1l1 3l1-6.5l1-3.2l1 6.2l1 2l1 .3l1-4l1 2.8l1-2.9l1-2.6l1 2.4l1-.8l1 5l1-5.5l1-.5l1 5.7l1-1.7l1-6l1 8.7l1-6l1 2l1 .8l1 5.4l1-5.1l1 2.3l1-2.6l1 1.6l1-4.7l1 3.5l1-1.5l1-1l1 3.3l1 1.8l1-1.4l1-1.9l1 2.6l1-4.6l1 3.6l1 .5l1-1.5l1-.4l1 .9l1-1.7l1 .9l1 2.4l1-6.7l1 8l1-2l1-.6l1-3.1l1 1.5l1-.4l1 3.2l1-.1l1 1.3l1-2.8l1-5.2l1 2.7l1 1.5l1 1.7l1-4.6l1 3.3l1 .6l1-1.6l1 1l1 6.1l1-5.7l1 5l1-4.3l1-2.4l1 3.2l1-2.4l1 .8l1-5.4l1 6.4l1-2.3l1 4.3l1-2.5l1-1.3l1-1.6l1 2.6l1-1l1-1l1 6.6l1-5l1 2.6l1 1.4l1-2.6l1 .5l1-.3l1 1.2l1-1l1-.2l1-.9l1-1.5l1 .1l1-.5l1 2.1l1 2.7l1 .3l1-5l1-1l1 2.3l1 2.7l1-3.3l1-3.8l1-5.9l1 10.1l1 1.6l1-2.7l1-2.6l1 5.2l1-1.4l1 4.8l1-5.9l1 1l1-.6l1 1.2l1-4.7l1 7.9l1-1.8l1-2.2l1-.3l1 2.2l1-.4l1-1.9l1 .6l1 1.2l1-1.9l1 .3l1-.3l1 .2l1-2.3l1 .9l1-.4l1 4.6l1-2l1-11.8l1 8.2l1 4.7l1 3.2l1-1.2l1-3.5l1-.4l1 5.7l1-.5l1-3.7l1-2.9l1 4.7l1-.3l1-7.1l1 3.5l1 4l1-.2l1-5.4l1 3.1l1 2.2l1-1.3l1-3.5l1 2.2l1 2.1l1-.5l1-3.6l1 8.2l1-5.2l1-4.3l1 2.9l1-5.7l1 4.8l1 1.6l1 6.1l1-5.5l1 .4l1 1l1-1.3l1-2l1 4.8l1 .7l1-.3l1-1.2l1-4.9l1 1.2l1 .1l1 .1l1 2l1-1.5l1-1.5l1 5.5l1-.2l1-3.3l1-2.7l1 1.1l1-.3l1-.3l1 4.8l1-2.1l1 .2l1 .3l1-3.3l1 3l1 4.1l1-4.3l1-1.5l1 7.3l1-5.6l1-2.3l1 3.7l1-3.9l1 .8l1 3.4l1-4l1-2.1l1 5.4l1 .3l1-5.5l1 2.6l1 3.5l1-6.3l1 5.7l1-2.4l1-1.2l1 .2l1 .6l1 1.2l1-7.1l1 1.9l1 4.7l1 1.7l1-3.3l1 1.6l1-2.6l1-.8l1 3.8l1-.6l1-1l1-2l1 3.4l1-.4l1-.4l1 .3l1-.6l1 2.1l1-5l1 8.1l1-.9l1-3.6l1-2.9l1 4.6l1-3.1l1 5.2l1-7.3l1 2.5l1 4.8l1-3.7l1 1.7l1-.1l1-2.8l1 3.2l1-4.2l1 1.3l1 6l1-5.6l1 1.3l1-3.5l1 5.9l1-5.5l1 .4l1 .3l1-.8l1-1.2l1 2.7l1-.4l1 .9l1-2.2l1 .2l1 1.4l1 .8l1-2.3l1 2.2l1-.5l1 3.1l1-1l1-.3l1 1.2l1-4l1 4.8l1-2.8l1-1.7l1 2.2l1-3.6l1 6.9l1-3.7l1-4.2l1 .9l1 1.5l1-.2l1 2.5l1 1l1 .3l1-1.1l1-3.6l1 4.9l1 .3l1-7.7l1 3.3l1 .5l1-1l1 4.4l1-1.4l1-1l1-3.1l1 3.8l1-3.1l1 .2l1-.2l1-2.9l1 1.4l1 2.6l1 1.9l1-2.1l1 .7l1 .3l1 0l1 3.1l1-4.8l1 2.4l1-3.7l1 6l1-1.1l1 .6l1-2.1l1-.6l1-2.8l1 3.9l1 2.5l1-9.8l1 10.7l1-6.2l1 3.1l1-3.1l1 1.6l1 2.3l1-2.4l1 4.8l1-4.3l1 1.5l1-3.1l1 .2l1 .3l1 2.1l1 2.9l1-4l1-3.3l1 1.7l1-1.9l1 4.5l1-1.1l1-2.7l1 1.7l1 3.2l1-1.2l1-2.6l1 3.3l1-.9l1-2.4l1 1.8l1 4.1l1-7.3l1 5.2l1-2.9l1 1.9l1-.6l1-.3l1-1.1l1 .4l1 1.6l1-.5l1-4.7l1 4.6l1 2.1l1-1.1l1-1.7l1-5l1 5.9l1 .2l1 1.9l1-5.9l1 1.7l1-.8l1 .6l1-3.6l1 3.1l1 0l1 .1l1 4.8l1-5.5l1 .4l1 3.8l1-4.1l1 4.2l1-1.8l1-2.7l1-.2l1 2l1-.9l1 .7l1-1.7l1 2.8l1-3.2l1 .5l1 .6l1 .7l1-1.1l1 .2l1-3.1l1-.9l1 7.3l1-3.7l1 .2l1-1.2l1 5.3l1-4.5l1-3.9l1 5.5l1-3.7l1 3.4l1-1.5l1 3.4l1-2.1l1-2.2l1 4.3l1 3l1-8l1 3.9l1-1.9l1 .1l1-4.3l1 .5l1 10.8l1-8.3l1-1.8l1 5.5l1-1.6l1-1.3l1-4.4l1 2.2l1-.3l1-1.7l1-2.5l1 1.7l1 4.1l1-2.1l1 .3l1-.9l1-.6l1 2.4l1 3.2l1-5.7l1 1.7l1-4.7l1 4.6l1-4.1l1-.3l1-2.1l1-1.3l1 0l1-1.7l1-1.5l1 11.9l1-9.1l1 .4l1-2.1l1-2.2l1-1.1l1-3.5l1-1.2l1 .2l1-.9l1-2l1-1.9l1-3.2l1 2.1l1-3.3l1-.6l1-5.8l1-6.8l1-2.2l1-2.7l1 1.4l1-10l1-5.2l1-7.6l1-7.6l1-4.7l1-4.6l1-7.9l1-10.6l1-4.8l1-7.9l1-6.8l1-.9l1-10.9l1 2.1l1-10.1l1-4l1 .9l1 5.9l1-4.7l1 4.7l1-2.8l1 12.3l1-3.7l1 14.2l1 10.5l1 3l1 9.3l1 4.6l1 6.3l1 8l1 8.1l1 3.3l1 5.1l1 2.6l1 2.9l1 8.9l1 3.2l1 4.8l1 5.2l1 2.6l1 1.8l1 2.1l1 2.4l1 .8l1-3.1l1 5.3l1 3.4l1 3.5l1-1.4l1-1.5l1 8l1-2.5l1-.1l1 3.3l1 1.1l1-1.2l1-.6l1 .7l1 3.9l1-1.8l1 2.1l1-5.5l1 3.9l1 .7l1 .2l1-3.3l1 4.1l1 5.3l1-2.8l1-1.8l1-.2l1-1.4l1 4.2l1-2.2l1 1.1l1 3.5l1 .3l1-.6l1-5.5l1 2.9l1 4.5l1-5.7l1 6.2l1-3l1 2.5l1-3.2l1-1.8l1 .5l1 6.3l1-4.3l1-2.2l1 5.3l1-5.8l1 3.5l1 1.4l1-.1l1 .4l1-1.2l1-5.8l1 6.8l1-.6l1-.3l1 1.8l1 .7l1-1.3l1 3.3l1 1.8l1-4.7l1-1.5l1-2.4l1 4.8l1-5.9l1 8.8l1-6.9l1 1.4l1 3.1l1-3.8l1-.6l1 4.7l1-4.4l1 3.2l1-.9l1 4.3l1-3.1l1 3.2l1-1.8l1-4l1-1l1-2.3l1 5.4l1-6.5l1 4.4l1-3.9l1 1.4l1 6.4l1-3.9l1 .8l1 .3l1 1.8l1-4.4l1 4l1-.5l1-2.3l1 .2l1 5.5l1-1.2l1-.7l1-3.2l1 1.3l1-6.7l1 3.1l1 3.3l1-6.1l1 4.2l1 .1l1 3.9l1-2l1-2.8l1 9.1l1-9.5l1 4.9l1-3l1 4.2l1-1.5l1 2.4l1-2.7l1-1.7l1 5.5l1-7.5l1 3.4l1 .1l1-1.4l1 2.7l1 3.3l1-.4l1-3l1 .9l1 5.6l1-8.8l1 5.3l1-3.1l1-5.1l1 6l1-3.8l1 3.1l1 .9l1-2.4l1 1.4l1 2.7l1-6.8l1-1.2l1 4.4l1-.3l1 5.8l1-2.7l1-1.2l1-1.5l1-4.6l1 1.5l1 2.5l1 1.3l1-1.5l1 1.4l1 1.4l1-3.5l1 .7l1-1.3l1 5.4l1-8l1 6.5l1 .5l1-7l1 3.8l1 4l1-5l1 .8l1 1.4l1 3.4l1-1.8l1-3.2l1-1.7l1-.4l1 4.6l1-6.2l1 4l1 2.9l1-4.5l1 2.2l1 .6l1 2.1l1-5.2l1 3.5l1-.3l1 .4l1-4.2l1 5.3l1-3.4l1 1.8l1-1.8l1 7l1-4.7l1 5.2l1-6.9l1 .9l1 4.3l1-4.5l1 2l1 1.8l1-3.8l1-.8l1 1.1l1 3.2l1-1.5l1 2.2l1-3.9l1-.5l1-1.7l1 2.1l1-.7l1 1.2l1-2.1l1 .6l1 1l1 3.2l1-3.2l1-.6l1 4l1 .8l1-4.1l1 .1l1-3.9l1 .7l1 3.7l1 3.6l1 1.2l1-2.6l1-3.2l1 2.5l1-5l1 3.5l1-2.7l1 2.9l1 3.6l1 1.9l1-4.9l1 .4l1-5.1l1 2.5l1 5.5l1-6.2l1 4.4l1-.9l1 3l1-4.8l1 .2l1 7.2l1-8.8l1 3.2l1-2l1 7.7l1-7.4l1-.2l1 .1l1 2.8l1-4.6l1-1.2l1 3.4l1-.5l1 2.2l1-2.2l1-.6l1 2.2l1-4.4l1 6.2l1-2.4l1-4.6l1 4.4l1 .1l1-.2l1 1.5l1-2l1 3.5l1-3.5l1 4.2l1-6.2l1-3.2l1 3.5l1 9.2l1-7.4l1 .4l1 .9l1-1.7l1 1.7l1-.3l1 4.9l1-2.2l1-2.3l1 1.1l1-.3l1-4.2l1 5.5l1-4.3l1 3.5l1-1.6l1 1.9l1 1.3l1-2l1-2.7l1 .4l1 2.2l1-2.4l1 0l1 .7l1-.6l1 2.2l1-2.4l1 1.4l1-2.1l1-2.5l1 6.3l1 .5l1-3.7l1 3.3l1-1.3l1-3.6l1 5.8l1-7.9l1 4.8l1 2l1-4.6l1 6.8l1-5.5l1 4.6l1-3.6l1 2.2l1-1.8l1 6.1l1-4.9l1 1.5l1-.7l1-1.3l1-1.1l1 1.6l1 1.5l1-.2l1-.9l1-1.7l1 2.1l1-4.2l1 2.4l1-5l1 3.4l1 1.3l1-3.1l1 .6l1 5.3l1-1.1l1 1.5l1 .2l1-1.3l1 .4l1 4l1-2.8l1-7l1 3.4l1 3l1-.5l1-5.5l1 8.4l1-2.9l1-2.5l1-2.4l1 5.7l1-3.8l1 1.4l1-4.5l1-2.4l1 7.6l1 3l1-9.9l1 4.5l1 2.6l1-.9l1-.3l1-.2l1-2.4l1 5.2l1-.3l1-1.5l1-6.7l1 10l1-4.4l1 1.5l1 3.5l1-1.6l1-8l1 7.5l1-1.2l1-3l1 1.8l1-4.7l1 .5l1 .5l1 6.9l1-6l1 5.5l1-2.6l1 4.1l1-5.4l1 7.4l1-5.3l1-1.8l1 1.3l1-5.3l1 5.5l1-1.7l1 2.1l1-2.1l1-5.7l1 0l1 10.6l1-7.3l1 5.4l1-4.9l1 3.8l1-1.5l1 4.3l1-3.7l1 .3l1-3l1 3.4l1 .8l1-2l1 2.1l1-4.4l1 2l1 1.6l1-1.8l1 3.9l1-1.5l1-3.1l1-.8l1 2.3l1-1.8l1 .8l1-1.8l1 4.7l1-1.5l1 .4l1 1.3l1-7.9l1 5.9l1-.7l1 2.3l1-.4l1 3.2l1-1.2l1-3.5l1-2.5l1 5.7l1 .6l1-5.6l1 4.8l1 3.7l1-9.9l1 1.9l1 2.3l1-1l1 4.7l1-8.1l1 5.8l1-3.9l1-1.4l1 1.6l1 5l1 1.1l1-6.7l1 1.7l1-5.9l1 9.5l1-6.4l1 5.4l1 1l1-2.9l1-2.5l1 4l1 1.6l1-4.8l1-1.3l1 3.5l1 2.3l1-5.9l1 .8l1 4.8l1-2.4l1-2.6l1 2.1l1 1.2l1 7.1l1-7.6l1-.7l1-4.2l1 5.5l1 0l1-.8l1-.5l1 .3l1-2.8l1 4.7l1-5.3l1 5.3l1-3.2l1 .2l1 1.8l1-1.8l1 .5l1-2.6l1 6l1-6.6l1 6.6l1-6.5l1 1.4l1 .7l1 9.1l1-7.5l1-1.7l1-2l1 5.6l1-2.4l1 .9l1-1.5l1-.8l1 2.9l1-1l1 2.1l1 2.8l1-9.2l1 5.4l1-1.8l1-.7l1-5.9l1 4.3l1 2.5l1-2l1 2.2l1 .8l1-1.6l1-2.3l1 3.4l1-.2l1-1.6l1-4.2l1 1.6l1 5.1l1-2.7l1-3.9l1 4l1 .5l1 1.4l1-.5l1-.2l1-3l1-2.3l1 2.6l1 4.8l1-7.3l1 6l1-6.1l1-3.6l1 7.4l1-2.4l1 1.3l1-2.4l1-1.8l1 6.5l1-5.9l1 1.2l1 3.1l1 .8l1-7.9l1 13.3l1-10.9l1 2.1l1-.8l1-1.7l1 .1l1 .1l1 1.9l1 1l1-2.9l1 2.4l1-2l1 2l1-6.6l1 3.2l1-.9l1-3.4l1 3.3l1 .6l1-2.2l1 .3l1-2.6l1-4.2l1 2l1 3.6l1-1.4l1 .6l1-5.1l1 .1l1 5.9l1-9.6l1-1.4l1 4.9l1-1.6l1-2.1l1-.3l1-1.8l1 .6l1-.8l1-1.1l1 1.9l1-1.1l1 4.1l1 1.1l1-2.6l1-.1l1 2.9l1-1.3l1 5.9l1-10.8l1 1.2l1 3.8l1 4.6l1 1.4l1-2.4l1 1.9l1-.1l1 2.6l1 4.5l1-10.1l1 11.8l1-2.3l1-2.8l1 2.5l1-.8l1 1.8l1 .5l1 1.2l1-4.1l1 4.5l1-2.8l1 3.8l1 .5l1-2.7l1 2.1l1 .4l1-.3l1-3l1 4.5l1-.6l1 5.4l1-8l1 5.4l1-3.5l1 .5l1 5.2l1-4.5l1 2.5l1-1.5l1-2.5l1 1.8l1-.4l1 .6l1 5.4l1-3.4l1-5.5l1 9.2l1-3.7l1 6.5l1-3.4l1-5.9l1 3l1-1.2l1-.4l1 .2l1 1l1 2.7l1-.9l1-1.2l1 2.4l1-8.8l1 6l1 .8l1-.1l1 2.8l1-3l1 3l1-3.8l1 2.2l1-1.5l1-.8l1 1.9l1 .2l1-3.7l1 4.7l1-3l1-3.5l1-2.3l1 6.4l1-4.6l1 6.9l1-4.1l1 .9l1 .7l1-2.9l1 3.4l1-3.1l1 2.6l1 2.6l1 1.1l1 4.7l1-8.4l1-1.8l1 3.6l1 2.7l1-6.1l1 5.6l1-3.7l1-6.2l1 6.7l1 4.5l1-2.8l1 .8l1-1.6l1-5.2l1-1.7l1 3.2l1 1.7l1-1.5l1 .5l1 4l1 1.7l1-7.9l1 1.5l1 2.5l1-.3l1-5.4l1 12.4l1-4.7l1-.9l1-1.3l1 1.1l1-3.7l1 4.2l1-.5l1-.7l1 1l1-2.6l1 1.9l1-6.5l1 7.8l1-2.3l1 6.8l1-6.1l1-6.2l1 9.6l1-5.7l1-1.1l1 2.7l1 3.2l1 1.6l1-10.2l1 5.6l1 2.6l1-1.2l1-3.9l1 .6l1-.1l1 2.4l1-8l1 5.5l1-.9l1 1.8l1-5.2l1-.8l1 .4l1-2.6l1-.8l1-.8l1-.4l1-1l1 1.2l1 .1l1 .8l1 4.7l1 1.2l1-.7l1-.1l1-1.9l1 5.1l1-1.7l1 .9l1 1l1-.2l1 3.1l1-4.1l1 .5l1 2.3l1-.7l1 2l1 1.1l1 1.2l1-.9l1-3l1 .3l1-.4l1 3.9l1-3.5l1-1.5l1-.4l1 4.5l1-4l1-4.3l1 8.3l1-.9l1 1.1l1 .6l1-1.2l1-.2l1-.9l1-2l1-3.3l1 .4l1 5.8l1 1.1l1-1.9l1-2l1 3.5l1-1.6l1 .1l1-.9l1-2.1l1 .5l1 3.4l1 3.2l1 .3l1-4.8l1 1.5l1-1.3l1 .6l1 .7l1 1.2l1-5.1l1 7.2l1-4.7l1-2.1l1 8.2l1-8l1 2.1l1-1.8l1 4.8l1-9.5l1 7.4l1-4.9l1 7.9l1 1.3l1-3.1l1-4.1l1 4.9l1 2.5l1-4.8l1-1.6l1 4.6l1-7.1l1 2.6l1 .6l1 .4l1 2.5l1-3.2l1-2.4l1-.8l1 3.2l1 1.5l1 1.2l1-.9l1-5l1 4.9l1-3.2l1 4.9l1-4l1 0l1-.7l1 3.8l1-2.7l1 6.7l1-3.6l1-5.8l1 2.8l1 2.7l1-.7l1-.5l1-.9l1-4.5l1 0l1 5.8l1-3.6l1 1.5l1 1.6l1-6.4l1 0l1 6l1-2.9l1-3l1 4.1l1-.4l1-3l1 1.1l1-1.9l1 8.6l1-3.3l1-2.5l1 4.2l1-5.2l1 .5l1-1.4l1 2.4l1-1.3l1 2.5l1-2.4l1 2.2l1 .4l1-.2l1-.1l1-.8l1-2.3l1-3l1 5.8l1-4.5l1 4.3l1-1.1l1 0l1 0l1 1.4l1-4l1 3.1l1 1.9l1-.8l1 .6l1-3.5l1 .4l1 4.8l1-3.5l1-.7l1 1.7l1-4.8l1 1.8l1 1.3l1-1.4l1 3.8l1-2.8l1 1l1-4.3l1 1.9l1-.2l1 1.3l1-.2l1-1.4l1 1.3l1 3.7l1-5.3l1-1.8l1 4.5l1 .5l1-8.6l1 7.1l1-7.7l1 6.2l1 2.3l1 1.7l1-5.1l1 3.9l1-5.2l1-.4l1-.7l1-1.8l1 1.4l1 4l1-6.7l1 3.9l1 2.3l1-2.2l1 .5l1-.6l1 .3l1-6.2l1 8.3l1-3l1-2.4l1 .5l1 .2l1 1.9l1-4.8l1-.3l1-.3l1 5.4l1-4.7l1 2.5l1-3.3l1-1.6l1 2.9l1-.7l1 4.5l1-2.6l1 .9l1 4.5l1-8.4l1-.7l1-1.3l1 8.1l1-3.6l1 .2l1 1.8l1-2.5l1 1.5l1 5l1-6.3l1 1.3l1-1.5l1-.2l1 3.1l1-2.1l1-.8l1-5.4l1 2.5l1 .5l1 1.6l1 1l1-.5l1-.8l1-4l1 5.3l1 1.4l1-6.6l1 7l1 2.4l1-2l1-3.8l1-1.1l1 2.1l1 7.3l1-6.3l1-5.6l1-1.5l1 7.2l1 5.5l1-9.8l1 2.5l1 1.7l1 .8l1 1.5l1-6l1 4.3l1-1.8l1 3.8l1-1l1-2.1l1-1.6l1 .3l1 1.2l1 .7l1 4.2l1-5.9l1 1.8l1-2.5l1 6.6l1-3.5l1-1.9l1 3.8l1-4.4l1 5.1l1-1.7l1 5.3l1-2.8l1-3.2l1 4.3l1-1.8l1 1.5l1-8l1 5.4l1 .1l1 4.5l1-5.8l1 3.6l1-1.2l1-2.9l1 2.2l1 2.8l1-1.7l1 .1l1 .3l1 .5l1 .7l1-.9l1-8.4l1 8.2l1 .8l1 4l1-6.5l1 6.4l1-5.2l1 5.4l1-9l1 4.5l1-5.2l1 2.3l1-.9l1 5.8l1-3.1l1 2.6l1-2.6l1 6.1l1-5.5l1 6.4l1-.4l1-6.7l1 3.5l1 2l1 .4l1-2.9l1 3.8l1-5.1l1-.3l1-1.2l1 2.2l1 .7l1-.9l1 .5l1 1.1l1-2.2l1-1.5l1-1l1 1.1l1 .4l1 3.3l1-.4l1-4.2l1 3.1l1-3.9l1 4.1l1-6.3l1 6.3l1-3.2l1 .8l1-1.1l1-2.7l1 2.6l1 4.4l1-3.6l1-.8l1 1l1-2.2l1-4.8l1 4.2l1-5.6l1 .5l1 1.2l1-3.1l1 .2l1 2.6l1-5.1l1 1.6l1-5.5l1 8.6l1-8.9l1-.1l1-1.3l1 1.3l1-5.6l1-2.2l1 .1l1-2.2l1-2.8l1-2l1 4l1-1.7l1 4.2l1-4.8l1 .6l1 4.3l1-6.6l1 7.1l1-3l1 .4l1 5l1 .7l1-1.8l1 4.8l1 4.7l1-.5l1-.5l1-.4l1 2.3l1 2.6l1-.7l1 2.7l1 2.2l1-5.2l1 4.9l1 1.6l1-1.2l1-.2l1 5.9l1-9l1 6.2l1-.7l1 1.1l1 .4l1 .9l1-3.1l1 0l1 2.8l1 1l1-.3l1 3.4l1-1.6l1 2.1l1-1.1l1-3.3l1 4.3l1 2.6l1-3.1l1-.4l1-2.5l1-.5l1 1l1-1.7l1 5.1l1 1.6l1-2.7l1 3.1l1-3.9l1 5.7l1-2.9l1-1.7l1 .1l1 1.2l1 2.4l1-4l1-.8l1 3l1-1l1-3.3l1 3.4l1-.4l1-.2l1 1.4l1 .3l1 3.6l1-2.6l1 .6l1-3.2l1 1.2l1-1.7l1 0l1 3.8l1 3.4l1-3.7l1-.7l1 .4l1 .7l1-2.2l1 .1l1 1.7l1 2.4l1-3.7l1-4.3l1 6l1-1.4l1-2.4l1-.1l1-4.4l1 4.6l1 1.4l1 4.9l1-4.5l1-2.3l1 1.4l1 1.2l1 1.3l1-.7l1 1.4l1-6.9l1 5.3l1 .2l1-3l1 2.8l1-1.7l1-1.8l1-.1l1 4.5l1 .1l1 6.1l1-5.7l1-.6l1-3.8l1 2.1l1-.2l1 5.7l1-7.1l1-1.1l1 .8l1 4.9l1-4l1 3.4l1-3.1l1 3.8l1-6.3l1 2.7l1 2.6l1-2.1l1-1.7l1 5.8l1-7l1 1.4l1 4.9l1 1.4l1-4.2l1-3.1l1-.1l1 1l1 2l1 3.5l1-1.1l1-4.2l1 .8l1 3l1 .2l1 .1l1-2.2l1-.9l1 3.7l1 1.2l1-4.5l1 1.5l1 1.8l1 1.1l1 .5l1-4.2l1 3.1l1-6.2l1-2.4l1 4.4l1 1.9l1-4.6l1 3.4l1 .8l1-.5l1 .8l1 2.1l1-3.4l1-.5l1 2.5l1 1.3l1-3.7l1 4.4l1-1.5l1-2.7l1 .8l1-1.8l1 3.6l1-1.4l1 4.6l1-11.2l1 3.4l1 1.7l1 2.6l1-2.2l1-.9l1 2.9l1-2.1l1 4.5l1-1.2l1 .2l1-6.3l1 2.1l1 2.9l1-1.5l1-1.5l1 3.4l1-1.3l1 6l1-3.9l1-3.2l1 3.5l1-2.1l1 .3l1 1.8l1-6.4l1-.1l1 1.2l1 5l1-1.8l1-1.7l1-1.2l1-1.6l1 4.9l1-.8l1 1l1 1.4l1-1.6l1 2.6l1-4.3l1 4.7l1-2.6l1-2.3l1 1.7l1 4.9l1-8.4l1 1.6l1 .5l1 1.4l1-.2l1 4.4l1-5.1l1 2.2l1-2.9l1-1.5l1 2.4l1-.2l1 2.2l1 1.6l1-4.3l1 3.8l1-5.2l1 6.8l1-7.9l1 2.4l1 1.8l1-1.5l1-1.8l1 4.5l1-4.2l1 4.8l1-5.9l1 6.1l1-.5l1-.7l1 1.2l1-3l1 .4l1 2.9l1-5.3l1 1.9l1 .1l1 0l1-.1l1-5.3l1 5.9l1 .7l1 2.4l1-1.1l1-7.7l1 5.1l1-1.6l1 1.4l1-.6l1 4.2l1-1.8l1 .6l1-2.4l1 .5l1 1.7l1-3.2l1 3.2l1 .9l1-.8l1-1.3l1-2.1l1 6.1l1-2.9l1 1.6l1-3.2l1-1.6l1 1.9l1 3.7l1 .6l1-2.1l1-1.9l1 1l1 1.7l1-5.1l1 1.4l1-.9l1 2.6l1 1.2l1-1.1l1-.4l1 2.9l1-4.1l1 .1l1-1.4l1 2.8l1-3.6l1 2.9l1-4.4l1 5.7l1 .5l1-6.3l1 4.2l1 .6l1-1.9l1 2.5l1-.4l1-3l1 .8l1-.2l1 5.6l1-.5l1-3.7l1-1.8l1 6.1l1-1.8l1 1.4l1 1.4l1-3.4l1-.8l1-2.1l1 2.2l1-2.7l1 5l1-3.1l1 4.3l1-4.6l1 1.9l1 .2l1 .9l1-4.2l1 5.2l1-1.8l1-5.8l1 1.1l1 4l1-.8l1 5.1l1-7l1 1.6l1 .5l1 .6l1 3.6l1-4.4l1-3.6l1 7.7l1-2.8l1-4.7l1 2.1l1 .8l1 1.1l1 1.7l1-2.6l1-.7l1-1l1 1.9l1 .6l1 1l1-6.4l1 3.1l1 3.3l1 3l1-1.9l1-7.8l1 .9l1 6.1l1-1.3l1 .1l1 4.6l1-7.4l1 5.6l1-2.7l1-1.7l1-3.6l1 2.2l1 6.6l1-3.5l1 1.8l1-.6l1 1.5l1-.8l1-1.3l1-1.2l1-.4l1-.9l1 2.4l1-1.1l1 3.2l1-3.5l1-1.5l1-2.3l1 6.4l1 4.3l1-6.2l1-5.3l1 7.7l1-3.9l1 3.3l1-.8l1 .9l1-1.5l1-.9l1 3.3l1-3.3l1 3.6l1-4.4l1 1.9l1-2.2l1 4.1l1-3.9l1-.4l1 4.3l1-1.4l1-1.1l1-2.2l1 2.3l1 1.1l1 .7l1-3.4l1 3l1-5.9l1 4.8l1-2.3l1 3.9l1-2.8l1 6.7l1-5.2l1 .4l1-6.3l1 2.1l1 5.9l1-4.1l1 4.4l1-4.5l1 3.2l1-3.4l1 8.2l1-5l1-.3l1-5.3l1-2.6l1 4.2l1-1.9l1 .4l1-6.8l1 5.2l1-3.9l1-4l1 1.7l1 4.7l1-2.6l1-.1l1-.2l1-1.7l1 5.5l1-4.1l1-5l1-.1l1 3.1l1 .5l1 3.8l1-11.4l1 11.5l1 1.4l1-5.7l1 5.9l1-6.6l1 1.7l1-1.1l1 7.2l1-1.6l1-.2l1-7.7l1 4.2l1-4.2l1 8.2l1-2.4l1 2.8l1-5.3l1 1.3l1-1.3l1-3.2l1 9.4l1-4.4l1 3.6l1 2.9l1-12.3l1 2.2l1 4.5l1 .6l1-.6l1-2.4l1 3l1-6.5l1 2.6l1-3.2l1 7.4l1-2.1l1 1.1l1-3.4l1-7.9l1 6l1 3.3l1-.4l1 3l1 .7l1-5.9l1 4.7l1-8.8l1 8.3l1-9.7l1 9.1l1-9.7l1 9.7l1 3.8l1-6.2l1 3l1 1.4l1-13l1 2.4l1 6.8l1-4l1 2.4l1 10.5l1 2l1-8.8l1-4.7l1 4.3l1-.7l1-1.8l1 6.4l1-12.6l1 12.3l1-7.1l1 10.3l1-9.3l1-1.6l1-.3l1 3.2l1 .4l1 7.7l1-3.4l1-5.8l1-4.2l1 4.7l1 1.7l1-8.1l1 6l1 4.5l1-6.2l1-4.1l1 8.4l1-1.8l1-1.7l1 1.4l1 3.5l1-2.2l1-4.4l1 1.2l1 .9l1 .3l1 4.1l1-7.8l1 5l1-1.9l1-6.9l1 10l1-2.2l1-5.1l1-1.7l1 9.6l1-1.5l1-1.5l1-1.2l1 3.4l1-5l1 5.5l1 .2l1-7.5l1 8.2l1-3l1 3.5l1-11.3l1 11.3l1-5l1 2.6l1-5.3l1-.7l1 7.8l1-2.5l1 .3l1 .4l1-.3l1-7.8l1 4.5l1-.1l1 8.4l1-2.4l1-8l1-2.2l1 7.9l1-.5l1 2.8l1-9.1l1 10.1l1-5.3l1 4l1-3.7l1-2.5l1-1.4l1 7.8l1-14.3l1 17.9l1-10.7l1-.4l1 5.2l1-3.2l1-4.3l1 3.6l1 3.2l1-2l1-3l1 5.2l1 .2l1-3.9l1 5.4l1 1.2l1-8l1 .9l1-3.6l1 4.9l1 .4l1 4.1l1-9l1 8.3l1-9.8l1 2.7l1-5.8l1 12.9l1-.9l1-3.6l1 1.8l1-5.7l1 .6l1 .3l1 4.7l1-2.6l1 2l1-4.5l1-1l1 6.4l1-5.9l1 5.9l1-3.9l1 3.2l1-6.6l1 1.7l1 5.1l1-4.6l1-1l1 .9l1 5.1l1-3.2l1 2.6l1-1.7l1 9.4l1-9.2l1 4.2l1-.4l1-1.9l1-1.5l1-5.6l1 7.6l1 5.8l1-5.9l1 5.4l1-4.8l1 .7l1-5l1 1.2l1 2.2l1 2.3l1-7.8l1-1.5l1 4.7l1-4.7l1 6.8l1 4.5l1-8.3l1 8.8l1-4.7l1-2l1-6.2l1 11.5l1 1l1-4.7l1 .1l1-3.5l1-5.4l1 4l1-2.3l1 .2l1 1.9l1 .9l1 3.9l1 2.9l1-.9l1-1l1-4.1l1 .1l1 2.4l1-3.5l1 3.1l1-2.6l1-1.4l1 .7l1 7.9l1-4.6l1-2.5l1 2.2l1-3.3l1 1l1 .4l1-4.7l1 5.4l1 2.1l1-.5l1-1.5l1 4.3l1-6.8l1 7l1-.5l1-2.8l1 4.7l1-8.2l1 3.7l1-1.4l1-2.2l1-1.5l1 5.7l1 0l1 .8l1-4.6l1 2l1-.1l1 1.5l1-1.1l1-7.5l1 3.4l1 2.4l1 .4l1 3.6l1-4.2l1 7.9l1-11.2l1 11.7l1-9.8l1-3.8l1 4.5l1 .4l1 1.2l1-.6l1 3.2l1 1.2l1-6.5l1 8.1l1-3.5l1-.9l1 3l1-3.3l1 5.4l1-9.3l1 8.5l1-5.9l1 4.2l1-4.1l1 7.4l1-4.5l1 1.3l1-6.4l1 2.9l1 1.7l1 4.5l1-4.7l1-5.8l1 11.2l1-7.8l1 4.5l1-5.6l1 .4l1 3.5l1-10l1 5.5l1 2l1 0l1-4.2l1 9.5l1-4.6l1 .1l1-6l1 6.3l1 2.5l1 .7l1-.8l1-2.4l1-.6l1 1.4l1 1.7l1-7.6l1 4.5l1 2.2l1-2.3l1 1.8l1-.4l1-3.7l1 8.4l1-2.9l1-5.5l1-.1l1 1.6l1-.4l1-1.3l1 4.1l1-1.9l1-2.1l1 8.6l1-6.5l1-3.2l1-.3l1 .8l1 .3l1 6.8l1-.8l1-3.3l1-.2l1 2.2l1-4.2l1 2.2l1 4.1l1-6.4l1 5.4l1-2.6l1 1l1-1.2l1 3.5l1 0l1-1.1l1-7.5l1 6l1 3.7l1-7.6l1-1.8l1 4.6l1 3.5l1-7.2l1 5.6l1-2.2l1 .9l1 1.5l1-2l1 3.7l1-2.5l1 4.7l1-3.2l1 .3l1-5.6l1 1.5l1-2.8l1 7.7l1 .3l1-1.9l1 1.2l1-4.2l1 .2l1 5.5l1-8.1l1 7.4l1 2.2l1-9.7l1 6l1 6.6l1-5.2l1 2l1 .5l1-6.9l1 8l1 2.4l1-5.8l1-6l1 1.3l1-1.4l1-2.4l1 2.1l1 .2l1 3.4l1-3.1l1-3.7l1 6.7l1-7.7l1 5.9l1 3.6l1-7.7l1 1.1l1 4l1 4.8l1-5.1l1-1.1l1 2.5l1-7l1 .8l1 7.6l1 .4l1-.7l1-1.6l1 1.1l1-7.7l1 2.4l1 2.4l1 4.7l1-6.2l1 3l1-4.1l1 4.4l1 .9l1 .7l1-2.5l1 7.6l1-11.2l1 7.2l1-7.6l1 .1l1 6.9l1-3.9l1-1.2l1 7.4l1 4.1l1-11l1 1l1 5.4l1-6.2l1 10.3l1-12.8l1 3.7l1 4.2l1-4.2l1-1l1-3.2l1 4.5l1 3.4l1-3.9l1-2.5l1 8.1l1-1.7l1-1l1-2.8l1-2.2l1 7l1-3.8l1-1.6l1 .7l1 2l1 1.6l1-3l1-1.3l1-2.6l1 2.9l1 .3l1 1.8l1-1.2l1-1.8l1 1.5l1 2.5l1-2.5l1-.3l1-.2l1-.3l1 2.3l1 .9l1-3.1l1 .3l1 2l1 1.3l1 2.1l1-9.4l1 4.8l1-1.8l1 3.8l1 1l1 3.2l1-8.1l1 5.2l1-11.9l1 8.6l1-7.9l1 5.2l1-1.5l1-1.1l1 4.9l1-3.7l1-.2l1 1.2l1 .9l1 3.6l1-3.4l1-1.7l1-2.7l1 7.9l1 4.1l1-4l1-.2l1 2.2l1-2.3l1 6l1-9.2l1 4.2l1-1.9l1-1.9l1 .7l1-1.6l1 .7l1 3.7l1-6.9l1 .5l1 12.1l1-11l1 6.5l1-3.9l1 2.2l1-.4l1 .8l1-.1l1 3.2l1-8.3l1-2.3l1-1.2l1-1.4l1 8.8l1-7.8l1 .4l1 10.2l1-5.7l1 1.3l1-9.4l1 4.5l1-.9l1 5.1l1-.1l1 1.5l1 2.8l1 5l1-11.1l1 4.2l1 .6l1-3.6l1-3.1l1 6.4l1 .1l1-1.3l1-4.5l1-5.3l1 4.1l1 2.6l1 5l1-7.8l1 4.4l1 3.5l1-4.9l1-3l1 2.5l1 .3l1-3.7l1 9.8l1-12.3l1 7.4l1 2.1l1-2.1l1 .9l1-10.6l1 7.9l1 .7l1-.2l1-5.7l1 3.6l1-2.2l1 7.5l1-7.3l1-2.5l1 3.8l1-.3l1 6.4l1-1.1l1-4l1-2.7l1-.6l1-5.3l1 6.5l1 .5l1-2l1-3l1 4.4l1 .8l1-2.5l1 4.5l1-5l1 4.9l1-7.4l1 .6l1-3.2l1 1.4l1-2.3l1 2.4l1-1.7l1-3.9l1 9.4l1-4.9l1-5.6l1 2.6l1-3l1 .3l1 2.1l1-5.1l1-2.4l1-2.2l1-1.5l1-1.9l1-.3l1-6.6l1-3.1l1-8.7l1 1.3l1 1.4l1-2.7l1-8.6l1-7.8l1 1.7l1-11.2l1-5.9l1-6.6l1-7.8l1 7.8l1-12.3l1-15.4l1 .3l1-9.1l1 3.1l1-10.8l1-5.5l1 .3l1-.4l1-11.3l1 .5l1-4.2l1 6.7l1-1.2l1 1.8l1-.1l1 11.9l1-1.5l1 10.3l1 5.8l1-2.4l1 9.3l1 7.7l1-3.7l1 14.4l1 7.2l1-1.3l1 10l1 7.3l1 2.1l1 4.1l1 1.4l1 8.9l1 4.4l1 2.4l1 8.3l1-1.7l1 1.3l1 10.1l1-1.2l1 3.6l1 2.6l1-9.1l1 4.9l1 10.7l1-11l1 6.1l1 8.7l1-6.8l1 6l1-4.4l1 11.9l1-7.7l1 3.9l1-6.7l1 7.8l1 .5l1-3.4l1 4.5l1-2.6l1 2.6l1-2.7l1 .6l1-2.3l1 11.2l1-6.8l1-1.4l1 8.5l1-5.3l1-.3l1-1.7l1 6l1-2.4l1-3.2l1 2.2l1 3.2l1-1.5l1 3.9l1-.3l1 4.3l1-9.7l1 2.3l1-.5l1 .1l1 1.3l1-1.3l1 4.5l1-1.8l1-.9l1 2.2l1 1.4l1-3.4l1 1.2l1-5.4l1 6.3l1-2.2l1 3.2l1 2.3l1-2.3l1-3.4l1 4.2l1-4.9l1 3.7l1-3l1 2.1l1 1.6l1-1.8l1-1.4l1 5.7l1-8.5l1 3.6l1 1l1-.8l1-1.8l1 4.5l1-2.6l1-3.4l1 7.8l1-4.6l1-3.7l1 4.7l1-2.1l1 3.1l1-4.7l1 2.7l1-4.2l1 1l1 5.1l1-5.8l1 10.8l1-7.8l1 3.2l1-8.1l1 12.7l1-4.9l1-5.4l1 6.1l1-2.5l1 9.2l1-3.6l1-6.5l1 5.3l1-.8l1-2.9l1 .2l1 .2l1-2.4l1 4.4l1-2.7l1 1.4l1-.9l1-1.2l1 9.2l1-5.6l1 1.3l1 12.4l1-14.8l1-2.3l1-3.4l1 1l1 7.1l1-7l1-2.2l1 7.2l1-.4l1 6.1l1-10.8l1 8.6l1-11.6l1 12.5l1-3.5l1-4.2l1 7.5l1-6.7l1 4.6l1-1.9l1 3.8l1-1.7l1-5.5l1 .2l1 .2l1 5.6l1-.6l1-1.1l1-1.8l1-1.2l1-.3l1 5.2l1-.2l1 3l1 .4l1-7.3l1 10.1l1-3.6l1-4.1l1 .2l1 .7l1-3.7l1-.5l1 2.5l1-1.5l1-7.9l1 11.4l1-8.8l1 7.8l1-2.4l1-1l1 4.9l1-5.5l1-.5l1 4.4l1-.3l1-3.2l1-.2l1 .1l1 3.7l1 2.8l1-1.1l1-3.2l1-2.8l1 5.6l1 6.6l1-.2l1-12.4l1 6.2l1-3l1 0l1-.5l1-1.9l1-2.4l1 6.7l1-5l1 1.6l1 6l1-3.7l1-1.9l1 1l1-.9l1 2.3l1 .4l1 3.8l1-3.1l1-3.9l1 3.9l1 1.3l1-5.2l1 .1l1-5.9l1 13l1-4.7l1 4.2l1-10l1-2.8l1 9.2l1-4l1 3.5l1-3.3l1 5.6l1-4l1 .6l1 2.2l1-3.2l1 .2l1 5.7l1-4.7l1 1.1l1 1l1-1.4l1 1.5l1 4.8l1-2.9l1-8.6l1-2.7l1 4.6l1-5.2l1-1l1 5.6l1 .3l1 3.9l1 1l1 5.9l1-10l1 .4l1 2.8l1 3.1l1-4.7l1-2.2l1-6.1l1 12.1l1-3.7l1 6.1l1 1l1 .2l1-4.9l1 1.4l1-11.2l1 9.6l1-2.7l1 4.9l1-5.5l1 1.1l1-2.1l1 9.2l1-6l1-3.8l1 2.1l1-3.1l1 8.6l1 4.9l1-8.5l1 .4l1-6l1 10.4l1-5.5l1 7.2l1-9.1l1 3.6l1 1.5l1-.3l1-8.2l1 9.2l1-2.4l1-1.3l1-3.7l1 8.1l1-4.4l1 1.6l1-1.9l1 1.4l1-2.5l1 10.2l1-2.6l1-3.9l1-1.4l1 1.3l1-5.2l1 5l1-2.4l1-1.2l1-.9l1 .1l1 4l1-1.6l1-2.9l1 4.2l1-.9l1-.9l1 5.4l1-5.9l1-3.7l1 5.1l1-3.9l1 6.2l1-.9l1-3l1 2.8l1-3.1l1-.2l1-4.6l1-1l1 5.7l1 7.5l1-4.8l1-1.5l1-2l1 4l1-4.6l1 2.5l1 1.7l1-3.1l1 1.2l1-.2l1 2.5l1 .4l1 .4l1-1.1l1-4.9l1 2l1 3.2l1-1.6l1 2.8l1-7.3l1 1.3l1 .1l1 3.9l1-3.2l1-.9l1 4.2l1-2.5l1-2.3l1 5.1l1-1.8l1 2l1 .3l1-4l1 1.1l1 .5l1 2.7l1-2.4l1 9.1l1-10.8l1 1.8l1 4.4l1-9.1l1 .5l1 6.6l1 .2l1 .7l1-.4l1 .6l1-5.2l1 1.8l1 1.8l1-5.9l1-.3l1 2.3l1 5.3l1-.7l1-1.4l1-3.1l1-2.5l1 4.6l1 .4l1-5.4l1 1.7l1 6.7l1-.2l1-6.9l1 2.9l1 4.1l1-2.4l1 .4l1 .1l1 3.1l1-8.4l1 6.7l1 2.9l1-8.4l1 6.9l1-1.6l1-5l1 2.7l1 4.2l1-6.2l1 0l1-12l1 7.9l1 4.3l1 .8l1 2.4l1 1l1 3.6l1-4.2l1 6.8l1-6.6l1 2l1-7.2l1 4.2l1 1.7l1 0l1-4.7l1 5.6l1-8.3l1 5.3l1-4.6l1 6.7l1-2.4l1 1.6l1-.4l1-.5l1 1.2l1-2.5l1-5.6l1 9.6l1-6.7l1 5.6l1-1.3l1-.5l1-.8l1 .4l1-.3l1-.6l1-.4l1 1.4l1 1l1-3.5l1 2.3l1-5.3l1 1.7l1-3l1 4.8l1 2.2l1 1.1l1-6.9l1 7.2l1-6.1l1 2l1-.3l1 6.9l1-7.9l1 9.7l1-3.7l1-4.1l1 2.1l1 3.2l1-7.4l1 1.3l1 1.5l1-1l1 .2l1 6.6l1-5.2l1-1.5l1-.3l1-3.2l1 7.2l1-4.8l1 11.2l1-7.6l1-3.4l1-2.1l1 2.4l1 2.9l1-3.3l1 4.1l1 .2l1-.5l1-.1l1-1.7l1-2.2l1-2l1-1.2l1 3.9l1 3.7l1-2.3l1-3.4l1 6.4l1-6.2l1-.7l1 .6l1 1.1l1 1.9l1-3.8l1-1.3l1 6.8l1-.6l1 .7l1 1l1-2.4l1 5.8l1-6.6l1 5.3l1-.3l1-3l1-1.9l1 .5l1-3.8l1 6l1-7.2l1 6.5l1 2.9l1-1.8l1-1.7l1 .4l1-.8l1 5.1l1-11.8l1 4.7l1-1.2l1 4.1l1-2l1 1l1 6l1-5.5l1 2l1-4.2l1-.9l1-1.1l1 8l1-8.3l1 2.1l1 9.1l1-6.3l1-1.1l1-.9l1-3.1l1 5.1l1 2.1l1-6.3l1 1.3l1 7.1l1-6.7l1 3.7l1 5l1-6.7l1-1.1l1-2.7l1 1l1 6.3l1-6l1 .8l1 2.4l1-3.5l1-2.8l1 2.7l1-.4l1-.8l1 6.8l1-6.4l1-.8l1 4.2l1 1l1 9.3l1-10l1-5.4l1 1.5l1 6.2l1-5.4l1-1.2l1 9.6l1-11.1l1-.1l1 4.3l1 .6l1 3l1-8.3l1 7.4l1-2.8l1-4.9l1 4.8l1 2.5l1 4.3l1-8.1l1 4.5l1-6.8l1 12.7l1-7.9l1 4.9l1-9.7l1 .6l1-1.8l1 11.6l1-7.5l1 .1l1-1.1l1 5.3l1-4.6l1-.8l1-1.8l1 3.8l1-6l1 1.5l1 7.1l1 1l1-3.8l1-5.3l1 2.9l1 1.9l1 6.6l1-7.5l1-2.7l1 .9l1 1.1l1 1l1 1l1 7.5l1-8.6l1-.8l1 6.2l1-6.1l1 0l1 .7l1 3l1-.7l1 1.2l1-2.7l1 1.3l1-3.9l1 .1l1 1.5l1 .5l1-4.2l1 1.7l1 8.2l1-.2l1 1.5l1-1.6l1-.9l1 2.9l1-3.7l1-3.3l1 .2l1 2.1l1-3.6l1 2l1-.7l1 1l1-2.5l1 10.2l1-5.8l1-8.5l1 9.7l1-5.7l1 2l1 .8l1 3l1-7.3l1 5.3l1-1.5l1 8.3l1-8l1-2.8l1-1.4l1 4.4l1-1.5l1 2.1l1 .9l1-5.4l1 4.1l1-2.7l1 .1l1-.8l1 2.3l1-1.6l1 .1l1 1.1l1-3.1l1 8.8l1-2.3l1-3.4l1 2.3l1-4.2l1 3.5l1-5.5l1 4.9l1 .6l1-1.6l1 3.7l1-5.2l1 3.1l1 1.5l1-.1l1-1.9l1 5.7l1-2.9l1-.5l1-4.6l1 2.7l1-2.1l1 8.7l1-5.6l1-3.9l1 .3l1 6l1-5.7l1 2.6l1 7.8l1-8.3l1 1.1l1 7.9l1-9.2l1-3.9l1 .8l1 3.6l1 2.2l1-5.6l1-3.9l1 8.8l1-2.7l1-1l1-1.3l1 6.8l1-4.3l1-3.9l1 1l1 1.9l1-3.4l1 3.1l1 5.7l1-1l1 .5l1-.1l1-2.8l1 .8l1-7.2l1 8.4l1-.4l1-1.3l1-.1l1-4.4l1 2.1l1-3.8l1 3.7l1 .8l1-1.3l1 6.1l1-6.8l1 4l1-.5l1-1.3l1 2.5l1-.6l1-2.6l1 5.7l1-4.9l1 2.6l1-5.6l1 .4l1 3.6l1 7.2l1-12.1l1 .3l1 1.4l1 1.1l1 1.6l1 3.3l1-4.1l1 2.5l1-2l1-2l1 .2l1 3.2l1-1.2l1 3.6l1-4.2l1-1.7l1-4.5l1-.2l1 1.8l1-2.7l1 1.9l1-9.6l1 4l1-1l1-6.9l1 13.4l1 1.9l1-.4l1 .2l1 6.7l1-4l1 2l1 1.8l1-4l1 3.8l1-5.5l1-.9l1 8.1l1 .7l1-1.9l1-5l1 1.4l1-2l1 0l1-1.5l1 3.1l1 5.5l1-9.1l1 3.5l1-2.4l1-.3l1 7.6l1 2.2l1-3.9l1 .3l1 .3l1-1.9l1-9.3l1 1.5l1 9.6l1-10.7l1 13.5l1-2l1-1.7l1 .2l1 1.1l1-4.4l1 8.2l1-7.1l1-2.2l1 9.4l1-5.8l1 .6l1 3l1 3.4l1-7.6l1 .4l1-7.8l1 7.6l1 5.6l1-8.3l1-.5l1-2.7l1 1.4l1-.1l1 4.5l1 .9l1-7.8l1 8.3l1 3l1-1.5l1-5.5l1 5.4l1-4.6l1-2.1l1-1l1-.2l1 3.9l1 3.2l1-8.2l1-.8l1 11l1-7.3l1 10.9l1-6.3l1-6.3l1 8.1l1 .3l1-9.3l1 4.9l1 5.6l1-9.9l1 6.7l1-.3l1 5.5l1-7.2l1-.9l1-3.5l1 3.7l1 1.5l1-.4l1-1.4l1-1.8l1 7.7l1-5.7l1-1.3l1 3.3l1-.2l1-.6l1 4.2l1-7.6l1 4.4l1 2.6l1-5.1l1 2.1l1 1.7l1-.4l1-1.7l1-4.4l1 6.3l1-1.9l1-1.1l1-.1l1-.7l1-4.2l1 10.9l1-8.5l1 9l1 3.7l1-6.4l1 2.6l1-7.5l1-1.2l1 2l1 4.9l1-3.4l1-5.7l1 8.3l1-4.4l1 4.5l1-2.8l1-2.7l1 1.1l1 4.1l1-4.5l1 6.6l1-7.3l1 7.6l1-9.5l1 .8l1 5.8l1 3.1l1-6.2l1 3.8l1-5.9l1-.3l1 3.5l1 7.3l1-8.3l1-4.6l1-3l1 8.2l1 2.4l1-3.4l1 1.8l1-3.2l1 7l1-2.6l1-6.6l1 2.7l1 6.3l1-4.3l1-8l1 6.7l1-.4l1-7.2l1 10.5l1 3.2l1-6.7l1-1.2l1 2.3l1-.9l1 1.4l1 2l1-7.2l1 8.6l1 3.3l1-7l1 .8l1 .8l1-4l1-2l1 12.7l1-7.8l1-3.6l1 6.6l1-4.5l1-1.8l1 1.4l1-2.9l1 1.2l1 6.6l1-2.7l1-1.3l1 5.4l1-5.6l1-.3l1-3.7l1 3.2l1 6.3l1-2.9l1 5.9l1-8.2l1-3.9l1 3.1l1 6.6l1-7.2l1 3.7l1 1l1-4.5l1 5.6l1 1.3l1-2.2l1-8.8l1 7.1l1 1.5l1 .6l1 3.2l1-5.3l1-.8l1-7.3l1-1.4l1 12.4l1-7.9l1 3.2l1-5.1l1 4.9l1-3.3l1 5.9l1-1.9l1 1.5l1-6.6l1 4.6l1 3.7l1-11.8l1 6.7l1 1.8l1 3.1l1-.7l1 .1l1-1l1 1.5l1-3.3l1 .2l1-3.7l1 3.4l1-.2l1 6.3l1-9.3l1 4.8l1-1.9l1 1.2l1 3.6l1-4l1-3l1 3.6l1 3l1-2.2l1 1.3l1-7.2l1 8l1-4.9l1-8.1l1 10.9l1-6.1l1 5.9l1 4.6l1-7.5l1-1.1l1 6.9l1 1.3l1-2.1l1-9.7l1 3.7l1 9.4l1-9.3l1 1.3l1 2l1 .3l1-1.4l1-8.3l1 6.2l1-1.3l1 7.4l1 1l1-8.2l1 4.3l1 5.2l1 .3l1-2.6l1-5.1l1 3.2l1-4.7l1 8.5l1-4l1 3.7l1-13.7l1 6.8l1 .1l1 .5l1-3l1 6l1-4.7l1 9.5l1-7.8l1-.3l1-.9l1 4.6l1-.9l1-4.5l1-5.7l1 7.8l1-1.7l1 2.9l1-3.1l1 4.2l1-5.1l1 4.9l1-1.7l1 4.1l1-3.8l1 2.7l1-3.3l1 .4l1-1.7l1-2.1l1 5.1l1-.7l1 5.6l1-3.9l1 4.9l1 .3l1-5.9l1-4.4l1 2.7l1 4.4l1-3.8l1 4.1l1-5.1l1 1.6l1 2.9l1-1l1-1.1l1-.3l1 1.2l1-2.3l1 3.7l1-5.5l1 11.1l1-8.2l1-3.8l1-2.7l1 2.5l1 4.5l1-3.1l1 5.8l1-5.3l1-2.4l1 2.5l1-.8l1 1.2l1 1.9l1-1.7l1-6.1l1 7l1-.9l1-.1l1-2.3l1 2.6l1 .9l1-6.8l1 9.6l1-4l1 2.2l1 3.7l1-9.7l1 .8l1 .2l1 3.5l1-3.7l1 .5l1 9.1l1-6.9l1 2.3l1 2.1l1 1.5l1-10.1l1 6.4l1 1.3l1 1.2l1-6.2l1 .8l1 2.2l1-.5l1-1.3l1-1l1 1.7l1-.6l1 1.9l1-3.1l1-1.4l1 2l1 .8l1 4.5l1-5.1l1-6l1 15.1l1-3.5l1-2.2l1-.3l1-1.6l1 6l1-10.4l1 6.9l1 0l1 8.7l1-11.6l1 5.7l1-3.9l1-5l1-.4l1 8.1l1-8.4l1 3.1l1 7l1-9.3l1 5.4l1 4.8l1-1.4l1-2.6l1-5.4l1 9l1-1.4l1-4.8l1-4.1l1-3.8l1 9l1-3l1-4.4l1 9.2l1-2.3l1-3l1 .7l1 3.4l1-.2l1-5l1 6.4l1-3.9l1-2.9l1 8.3l1-4.6l1 4l1-1.7l1-10.3l1 3.5l1 7.1l1-1.8l1-4.3l1 1.5l1 7.5l1-14l1 12.7l1-.6l1-5.9l1 1.2l1 2.2l1-1l1 1.2l1 2.7l1-6.4l1 2.2l1 1.6l1-3.2l1-2.2l1 8.9l1-12.3l1 8.1l1-2.9l1-2.1l1 3.2l1 2.1l1-1.3l1-2.7l1 5l1 2.8l1-4.5l1 1.9l1-.9l1 .7l1-5.6l1 7.6l1-2.7l1 4.8l1-3.6l1-5.9l1 7.2l1 .7l1 2.4l1-8.3l1-.4l1 6.2l1-3.1l1 1.4l1-2.6l1-2.8l1 1l1-.6l1 3.7l1-4.1l1 2l1-.5l1 2.2l1 2.1l1-8.7l1 6.6l1-3.9l1 1.7l1 .3l1 5.9l1-.2l1-6.1l1 0l1 5.8l1-3.2l1 4.7l1-9l1 6.5l1-5.8l1-7.6l1 12l1-6l1 5.8l1-3.6l1 5.5l1-9.2l1-.7l1 10.7l1-1.4l1-3.5l1-6.1l1 8.7l1 2.4l1-6.7l1-.1l1-1.6l1 4.5l1-1.9l1-5.1l1 2.8l1 5.9l1-7.3l1 4.8l1 2.7l1-1l1-8.9l1 8.2l1-5.9l1-3.2l1 3l1-1.7l1 4.9l1 5.1l1-2.4l1-2.4l1-1l1 1.6l1 2.6l1 1.1l1-7.5l1 9.3l1-6.3l1 .7l1 .4l1-1.6l1-.6l1 3.4l1-4l1 3.7l1 .9l1-4.6l1 6l1-2.2l1-1.9l1 2.3l1-2.5l1-1l1 .4l1 1.9l1 2.9l1-10l1 7.5l1-3l1-1.4l1 1.1l1 5.7l1-.6l1-5.6l1-3l1 6.5l1 .2l1-5.9l1 4.8l1-2.9l1 4.5l1-4.1l1 3.5l1-2.4l1 3.5l1-2.1l1 1.3l1-2.2l1 4.1l1-3.4l1 2.2l1-4.3l1 2.5l1 7.2l1-10.8l1-2.4l1 1.3l1 2.2l1 1l1-7.8l1 .8l1 9.6l1-7.6l1 7.2l1 1.8l1-13.4l1 11l1-1.9l1-1.3l1 2.4l1-1.5l1 2l1 4.4l1-5.3l1-10.6l1 14.2l1-1l1 1.1l1-3.7l1 1.6l1 3.7l1-7.1l1-2l1 7.1l1-6.3l1 5.1l1-5.9l1 .2l1 2.6l1-.1l1-3.8l1 8.2l1-4.4l1 1l1-5.7l1 1l1 0l1 2.4l1-.1l1 .1l1-.8l1 3l1-.2l1-4.8l1 1.9l1 .9l1 .8l1-.9l1-3l1-.2l1 1.2l1 5.3l1-9.5l1 0l1 1.8l1 1.5l1-2.8l1 .6l1-1.6l1 4.3l1-8.9l1 6.6l1-2.5l1 2l1 .3l1-10.1l1 12.6l1-1.7l1 2.5l1-3.1l1 0l1-1.7l1 3.1l1-10.5l1 3.7l1-3.4l1 5.5l1-2.7l1 4l1-5.9l1-1.9l1-.8l1-2.9l1-5.5l1 5.9l1-2.5l1-1.3l1-3.7l1 2.9l1-5.4l1 2.9l1-3.4l1-2.1l1-6.3l1 4.5l1-.3l1-5.8l1-4l1 1.5l1-2.1l1-7.1l1 7.5l1-8l1-2.4l1-7.2l1-3.6l1-8.5l1-1.3l1-2.7l1-1.7l1-8l1-5l1 3.2l1-7.2l1-.5l1-6l1-5.3l1-.4l1-10.4l1 10.3l1-2.6l1 1.5l1-5l1 7.8l1-2l1-6.4l1 1.5l1 5.3l1-4.1l1 5.9l1 1.7l1 1.2l1 7.9l1-1.7l1 1.7l1-.1l1 9.4l1-3.5l1-6l1 5.1l1-3.7l1 2.7l1 1.1l1-3.6l1 4.8l1-1.9l1 7.5l1-9.3l1 13.2l1-7.2l1 7.2l1 3.6l1 7.3l1 .5l1-.7l1 5l1 6.1l1 6.1l1 .3l1 1.6l1 2.4l1 9.2l1-5.6l1 3.7l1 5.3l1 5.4l1-8.2l1 11.3l1 2.5l1-1.4l1-5.8l1 5.6l1 3.4l1 2.8l1-4.1l1 8.6l1 .4l1-3.4l1 1.8l1 .2l1-2.5l1 4.4l1 1.2l1 4l1-.9l1-5.1l1 3.3l1-.9l1 5.5l1-3.4l1-3.1l1 7.9l1-2l1 5.9l1-3.6l1 2.6l1-6.6l1 5.7l1-1.7l1 .2l1-.3l1-1.1l1 2.6l1-.4l1 2.5l1-1.4l1-4.1l1 10.4l1-2.8l1-7.6l1 3.7l1 .6l1 4.2l1-7.3l1 9.5l1-9.6l1 2.6l1-.7l1-2.1l1 .5l1-3.2l1 6.4l1-1.1l1-1l1-5.7l1 8.2l1 7.6l1-.7l1 1.7l1-8.7l1 3.2l1-3.5l1 .3l1 2.2l1 3.1l1-5.2l1-.5l1 2.2l1-5l1 8.2l1 .7l1 .6l1-1.4l1-4.7l1 1.3l1-6.2l1 8.2l1 6.6l1-11l1 5.8l1 2.5l1-8.3l1 11l1-9.7l1 6.4l1-2.5l1 1.8l1-.4l1-3.6l1-1.4l1-5.8l1 6.4l1 6.2l1-7.1l1 .6l1 4.7l1-1.9l1-2.5l1 .1l1 1.7l1-5.9l1 11l1-8.5l1 1.5l1 .1l1 1.2l1 2.3l1 2.9l1-3.4l1 4.8l1-6.8l1 3.7l1 3.4l1-5.2l1 1.8l1-5.8l1 8.2l1-1.8l1-2.2l1-1.8l1-1l1-1.6l1 6.4l1 .7l1 5.5l1-9l1 5.1l1-2.6l1-7.8l1 1.2l1 2.6l1 6l1 1l1-5.9l1 2.4l1-.8l1-9.4l1 12.5l1 1.1l1-12.7l1 4.5l1 3l1 0l1 4l1 3.7l1-9.3l1 4.3l1-4.6l1 5.6l1-2.5l1 1.1l1-4.1l1 8.9l1-5.9l1-.7l1 2.7l1-4.9l1 3.3l1-9.7l1 2.6l1 4.7l1-.3l1 .4l1-1.1l1 4.4l1 2.2l1-6l1 5.4l1-5.1l1-2.8l1-.5l1 5l1 3.6l1-7l1-4.1l1 10.7l1 .7l1-4.9l1 4.7l1 3.3l1-10.1l1 1.6l1 .1l1 5.1l1-6.8l1 1.9l1 5.6l1-.9l1 .2l1-6.9l1 4.7l1-3.5l1 5.2l1 2l1-2.7l1-3l1 1.1l1 .8l1-2.1l1 1.9l1-4.5l1-.7l1-1.8l1 5.4l1 3.5l1-1.5l1-8.3l1 8.3l1-1.3l1-.7l1 1.4l1 1.2l1 2.7l1-.4l1 2.4l1-4.6l1-4.1l1 6.7l1-8.8l1 7.1l1-6.5l1 1.6l1 6.2l1-6.3l1 5.8l1-1.5l1-2.7l1 3.1l1-.5l1-1.6l1-2.6l1 5l1-4l1 1l1 1.7l1-1.9l1 1.3l1 .1l1-3.3l1 2.8l1 4.3l1-6.4l1 .1l1-2.8l1-3.7l1 10.3l1-.6l1 3.3l1-9.9l1 2.3l1 .7l1 8.7l1-3.6l1-3.8l1 .6l1 1.1l1-4.9l1 5l1-4.8l1 4l1 2l1-1.4l1-3.4l1 1.5l1 3.7l1-4.5l1-2.9l1 3.7l1-.8l1 1l1 .7l1-1.2l1 0l1 4.3l1-1.1l1 1.3l1-3l1-6.3l1 7.1l1-6.1l1 1.1l1 6.8l1-4.6l1-.6l1-1.4l1 5.2l1-1.7l1 4.4l1-3.5l1-6.7l1 4.2l1-1.7l1 5.3l1 0l1-3.5l1-.5l1 3.7l1-3.7l1 6.7l1-6.8l1 3.5l1-8l1 8.1l1-3.5l1 3.1l1 2.9l1-4.4l1-8l1 1.5l1 7.3l1 1.6l1-5.8l1 7.4l1-4.3l1 4l1-.1l1-4.4l1 1.7l1-4.5l1 5.5l1-1.5l1 5.5l1-2.6l1-3.4l1-1.8l1 1.6l1 4.2l1-.9l1 .9l1-7.6l1 .6l1 4.7l1-5.3l1 3.8l1-5.8l1 5l1-.4l1 .4l1-1.1l1 3.9l1 1.3l1-.5l1-3.4l1 3.6l1-5l1-.2l1 1.9l1 0l1-.1l1-2l1 5.6l1-5.1l1 1.4l1 2.7l1-1.2l1-3.4l1-1.3l1 6.2l1-5.8l1 5l1-4.8l1 12l1-12.1l1 9.7l1-3.6l1 2.2l1-.5l1-2.4l1-2.8l1 9.3l1-9.7l1 2.1l1-5.2l1-.1l1 6.6l1-4.4l1 2.9l1-1.5l1-.2l1 3.3l1 .9l1-5.5l1-3.4l1 7.5l1-.4l1-2.8l1-1.2l1 6.1l1-1.4l1-4l1 9.4l1-6.8l1-1.7l1 4.9l1 2.7l1-7.3l1-.4l1 7.4l1-3.3l1-9.2l1 5.6l1-2.2l1 .7l1 2.4l1-2l1 .2l1 8.4l1-12.6l1 9.4l1-1.9l1-6.9l1 1l1 2.8l1 3.9l1-6.6l1 5.4l1-9.8l1 3.7l1 5.8l1 1.2l1-7.4l1 1l1 4.3l1-4.2l1-.7l1 .2l1 8.2l1-13.5l1 14.8l1-.6l1-1.2l1-5.1l1-1.6l1 4l1-5.7l1 11.1l1-9.5l1 3.4l1 1.2l1 .9l1-4.7l1-2.1l1 3l1 1.6l1-2.2l1-1.4l1 1.1l1 3.9l1-1.4l1-1.6l1-4.1l1 .2l1 3l1-3.5l1-1.4l1 6.5l1-4.9l1-.2l1-3.6l1 2.1l1 .8l1-3l1-7.3l1 2l1 1.8l1-2.9l1 .5l1-6.7l1-1.7l1 .7l1-6.1l1 .4l1-11.6l1 .3l1 4.5l1-1.7l1-.8l1 .7l1 1l1-5.5l1 11.2l1-.3l1-4.8l1-1.1l1 10.8l1-1.9l1 5.7l1-1.4l1-3.1l1 3.2l1 2.2l1 1.6l1 3l1-5l1 3.7l1-2.7l1 0l1-8l1 5.7l1-3.7l1 6.8l1 1l1-2.4l1 5.5l1-6.1l1 2.3l1-3.6l1 3.1l1-4l1 3.4l1 5.6l1-2.5l1 0l1 1.9l1 3.2l1 4l1-8.8l1 6.1l1 .5l1 .5l1 1.5l1 2.6l1 2.9l1-9.3l1 2.4l1 5l1-4.9l1 7l1-4.1l1 2.8l1-3.2l1 1.2l1 12.8l1-10.3l1 6.4l1-5l1 7.1l1-9.3l1 4.6l1-3.4l1-6.7l1 .1l1 8.4l1 2.8l1-4.9l1-.9l1 1.8l1 7.8l1-12l1 8.7l1 1.8l1-8.6l1 1.5l1 1.9l1-.9l1 5.7l1-3l1-2.1l1 3.2l1 3l1-5.5l1-1.5l1 6.1l1 2.9l1-.6l1-2.5l1-3.3l1 7l1-4.4l1 .3l1-2.2l1 3.7l1-.5l1-7.4l1 6.9l1-5.9l1 3.9l1-.8l1-1.2l1 0l1 .5l1-.5l1 .1l1-3.2l1 6.7l1-3.8l1 3.3l1-1.2l1 1.5l1 .5l1-6.4l1 4.1l1 1.1l1-3.1l1 .1l1 3.6l1 3.2l1-2.5l1 .5l1-1.3l1 5.5l1-6.4l1 3l1 6l1-7.8l1-1.4l1-5.3l1 4.6l1 8.2l1-7.1l1-3.4l1 1.5l1-2.2l1 3.8l1-2.2l1 4.3l1 3.2l1-3.5l1-5.1l1 3.5l1 4.7l1-9.3l1-3.2l1 5.9l1-2.3l1 5.9l1-3l1-2l1 5.2l1-2.2l1 1.7l1-1.4l1-1.8l1-1.8l1 5.3l1-4.8l1 6.7l1-2.6l1-1l1-2.7l1 8.5l1-6.6l1 2.8l1-4.1l1 6.3l1-2.6l1 2.2l1-.8l1-3.3l1-2.5l1 3.2l1 1.4l1-2.8l1 10.3l1-5.8l1-2.1l1 1.2l1 .9l1-2.3l1-1l1 .7l1 1.2l1 5.5l1-11.1l1 4.2l1-2l1 13.7l1-17.1l1 9.6l1-2.2l1-.4l1 2l1-2.3l1-2.4l1 7.5l1-10.5l1-2.4l1 3.8l1 5.1l1-4.7l1 2.6l1 2.9l1-.8l1-1l1 2.4l1-3.6l1 3.6l1-3l1 9.9l1-6.8l1-3.5l1 3.7l1-.8l1-.2l1-1.7l1-5.1l1 2.2l1 4.9l1 1.3l1-9.7l1 2.1l1-3.9l1 2.5l1 6.7l1-4.3l1 3.9l1 8.7l1-16.4l1 6.4l1 .7l1 .4l1 2.1l1 .4l1-1.9l1-9.5l1 11.5l1 3.4l1-5.7l1 2.5l1-2.9l1-2.5l1 2.1l1 .2l1 2.9l1-5.1l1 .7l1 7.2l1-2.9l1-5.4l1-2.6l1 4l1 2l1-2.6l1-4l1 .4l1 2l1 2.3l1-4.1l1 7.9l1-6.4l1-.4l1-3.2l1 2.5l1 2.6l1-.2l1 .4l1 1.3l1-2l1-3.7l1 5.7l1 .5l1-3.9l1 8.4l1-14.4l1 3.4l1 3.3l1 0l1-1.3l1 4.1l1 3.1l1-2l1-1.2l1 4.8l1-10.8l1 4.6l1 .9l1-1.4l1 .7l1-.3l1-1.5l1-1.9l1-4.6l1 7.6l1 2.6l1 .3l1 .8l1-11l1 5.2l1-.9l1 4l1 .1l1-1.5l1 4.9l1-5.1l1 2.1l1 1.4l1-5.4l1 2.4l1 5.9l1-2.3l1 .9l1-2.5l1-.1l1-3.4l1-4l1 2.7l1-1.5l1 5.3l1-.8l1 4.3l1-6.6l1 3.3l1-.7l1 5.5l1-1.7l1 4.9l1-7.7l1-6.5l1 9.6l1 3.4l1-8.2l1 6.4l1-5.6l1 1l1-.8l1-1.7l1 .5l1-4.4l1 6.6l1-.1l1 2l1 2.4l1-3.4l1 6.4l1-4.4l1-3.9l1 1.3l1-.8l1 4.5l1-6.3l1 5.5l1-2.3l1-10.6l1 10.8l1-3.6l1-1.2l1 3.1l1 1.1l1 12.8l1-13.6l1 .7l1-1.3l1 2l1-4.9l1 2.5l1-4.9l1 1.4l1 2.8l1 4.1l1-5.8l1 .2l1-2.4l1 1.9l1 1.6l1-1.3l1 9.2l1-7.6l1 6.4l1-4.4l1 5.8l1-9.6l1 4l1-9l1 12.9l1-2.3l1-3.4l1 8.3l1 2l1-3.8l1 .3l1-8.7l1 .3l1-2.4l1 8.9l1-10.2l1 5.9l1 6.6l1-8.8l1-1.5l1 1.4l1 7.4l1-8.1l1 2.1l1-6.5l1 7.9l1-2l1 5.8l1-7.1l1 2l1-6.8l1 12.9l1-.4l1-5.2l1 1.5l1 1.1l1 2.1l1-9.5l1 2.6l1 11.1l1-3.8l1-2l1-2l1 2.9l1 .1l1 0l1-6.8l1 3.8l1-4l1 5l1-4.7l1 2.9l1-2.7l1 2l1 2.2l1 1.3l1 0l1 1.5l1-3l1-4.9l1 4.6l1-1.8l1-4.4l1 3.8l1 3.6l1 2.2l1-4l1-4.5l1 4.7l1-2.4l1 7l1-8.8l1 7.4l1-3.8l1 2.2l1-3.9l1 4.3l1-5.4l1 3l1-.2l1-1.2l1-4.6l1 8.4l1-2.8l1 6.2l1-10.5l1 10.9l1-4l1-3.2l1 3.3l1-6.1l1 4.4l1 4.3l1-11.3l1 7.1l1 4.7l1-4.3l1 4.2l1-5.4l1-1.6l1 6.5l1-1l1-3.4l1 5.2l1-8.9l1 7.6l1-5l1 2.2l1-.4l1 .3l1 1.2l1 3.1l1 0"/>
<path vector-effect="non-scaling-stroke" stroke="#f00" stroke-width="3.8" d="M0 1105.7l1-2.8l1 .6l1 .5l1-1.5l1 1l1 0l1-2.3l1 3.6l1-.5l1-1.6l1 .6l1 .8l1-1l1 .1l1-1.6l1 2.6l1-.6l1 .2l1-2.3l1 4.1l1-1.9l1-.7l1 3.1l1-2.7l1-1.8l1 1.3l1-2.4l1 4.3l1-1.9l1-.4l1 2.4l1-3.6l1 2.9l1-3.4l1 1.8l1-.7l1 3.5l1 .4l1-2.8l1 1.6l1-1.4l1 1l1-1.7l1-5.6l1-.1l1 7.2l1 7.1l1-7.3l1-1l1 3.2l1-2.2l1-.2l1 .2l1-.5l1-.2l1-1.5l1 2.5l1-.8l1 1.7l1-2l1-2l1 2.3l1 2.4l1 1.5l1-4.9l1-.4l1 .2l1 1l1-1.2l1 3.5l1-2.3l1 .5l1 1.7l1 .1l1-2.2l1 .7l1 .5l1-1.2l1-2.1l1 3.2l1 .3l1-.6l1 4.9l1-5.7l1-.5l1 .4l1 2l1 .3l1-1.1l1-.1l1 .1l1-.9l1-.1l1-.7l1 .8l1 3l1-1.8l1 6.1l1-7.9l1-.5l1 1.6l1 .1l1-2.4l1 2.5l1-1.4l1 6.3l1-5.4l1 2.1l1-2.9l1 .3l1 .7l1 1l1-.6l1-2.4l1 1.9l1-.2l1-.6l1-.3l1 3.1l1-2.8l1-.6l1 2l1 2.9l1-3.9l1 1.2l1-.4l1-.2l1 4.7l1-4.8l1-1.2l1 .4l1-.2l1 .9l1-1.7l1-1l1 2.5l1-1.8l1-.8l1 9.5l1-15.4l1 9.1l1-1.4l1-.7l1-5.1l1 5.9l1 .3l1-.8l1-4.2l1-2.8l1 8.1l1-2.3l1 2.1l1 1.1l1 .6l1 .8l1-4.3l1 8.1l1-4.5l1-.3l1-2.5l1 1.8l1 1.9l1-4.4l1 2.5l1 .9l1-2.4l1 1.7l1-2.2l1 .4l1-.1l1 1.4l1-.4l1 1.4l1-2.5l1 1l1 1.5l1-.5l1-2.5l1 2.6l1-1.5l1 1.1l1-.1l1 1.2l1-1.4l1-2.6l1 .6l1 2.8l1-1.3l1 1.8l1-1.1l1-1.4l1 2.4l1-2.5l1-1.6l1 5.4l1-5.2l1 3.3l1 .4l1-1l1-2.4l1 3.5l1-3.2l1 .1l1 1.3l1 1.5l1-5.7l1 5.8l1-1.7l1 .4l1-1.3l1 1.1l1 1.2l1 4.5l1-4.7l1-1.4l1 0l1 .9l1-.4l1 1.1l1-.6l1 2.1l1-2.6l1 0l1-1.1l1 1.4l1 .9l1-1.9l1 .9l1 1l1-1.1l1-.5l1 2l1-1.2l1 .4l1 1l1 0l1-2l1-6.2l1 7.1l1-.6l1-2.3l1 4.2l1-1.7l1 1l1-2.6l1 3.3l1-2.5l1 .7l1-1.8l1-1.8l1 3.4l1 0l1 .9l1-.5l1 1.2l1-1.9l1-7.2l1 7.8l1 .8l1 .8l1-.5l1-3.4l1 2.8l1-4.6l1 4.2l1-.8l1 1.1l1-6.5l1 6.9l1-.8l1 1.8l1-1.2l1-9.2l1 9.4l1 .4l1-2l1 .2l1-2.5l1 4.3l1-2l1-2l1 .4l1 2.1l1 1.3l1-1.1l1 .7l1-2.1l1-.3l1 2.9l1-.5l1-.7l1-5.3l1 4.1l1 .7l1 1.9l1 1.1l1-2.4l1 2.2l1-3l1 1.2l1 5.9l1-8.4l1 2.4l1 .9l1-1.4l1 .1l1 1.9l1-3.5l1-.3l1 1.1l1-.7l1 3.4l1-1.4l1-1.6l1 .4l1 4.2l1-4.2l1-.2l1 1.4l1 .4l1-.5l1-1.5l1-.4l1 2.4l1-.9l1-2.1l1 3.7l1-.5l1-1.4l1 0l1 .7l1-1.2l1-.9l1 2.2l1-2.3l1 2.4l1 2.4l1-3.1l1 0l1 2.5l1-3.8l1-.4l1 1l1-.6l1 .7l1 1.3l1 .5l1 1.2l1-3.2l1 4.4l1 3.8l1-13.5l1 3.2l1 2.9l1 .3l1-3.2l1 3.2l1-.4l1 2.9l1-1.8l1 .5l1-2l1 1l1-1.2l1-4l1 5l1 .5l1-1.4l1-2.2l1 3.7l1-2.9l1 2.3l1 2.2l1-2.4l1-1.5l1-.4l1 3.5l1-1.6l1 .8l1 .5l1-1.3l1-.4l1-.8l1-2.2l1 1.4l1 2l1-.2l1 .8l1-.7l1 .4l1 .8l1-2.2l1 .8l1-1.8l1 3.4l1-1.2l1 .6l1 1.4l1-.6l1-1.5l1 1.1l1-3l1 2.5l1-.4l1-2.3l1 3.9l1-2.7l1 1.8l1-1.4l1 1.9l1 .4l1-2.9l1-.9l1 1.9l1 1.3l1-1.7l1-.3l1 1.5l1-4.1l1 2.5l1-.9l1 2.2l1-1.4l1-.5l1 1.1l1-1.5l1 1.9l1-.9l1 .4l1-.4l1 2.1l1-1.3l1 .8l1 0l1-1.8l1 1.9l1-.3l1-.1l1-.9l1 0l1 7.6l1-4.2l1-4l1 1.8l1-1.2l1 1.6l1-.5l1 .8l1-4.9l1 2.7l1-.5l1 1.2l1-.8l1 .1l1 1.7l1-4.7l1 .3l1 3.1l1 .8l1-.4l1-.4l1-7.4l1 6.6l1 2.2l1 .5l1-1.4l1-1.2l1 1.2l1-.4l1 1l1-.5l1-1l1 1.1l1-1.9l1 2.7l1 .5l1-3.2l1 2.2l1-1.9l1 2.7l1-.2l1-1.5l1 1.6l1-1.9l1-.3l1 .1l1 .6l1-.2l1-6l1 5.6l1 1.8l1 .4l1-2.1l1-1.2l1 2.9l1 .5l1-1.7l1-1.5l1 2.1l1 1.6l1-4.5l1 3.1l1-1l1-.7l1 1.8l1-2.4l1 2.1l1 1.4l1-1.6l1-1.4l1-1.2l1 .7l1-.8l1 4.6l1-2.4l1-1.1l1-.3l1 .3l1 .9l1-1.2l1 3.9l1-3.2l1-.1l1 1.5l1 1.5l1-.1l1-2.5l1 1l1-.1l1 .5l1-.4l1-1.6l1-.4l1 1.9l1-1.8l1 3.4l1-1.8l1-1.4l1 1l1-.3l1 .5l1 1.5l1-8l1 4.2l1 2.9l1-.7l1 .5l1 .4l1-.9l1 1.4l1-2.3l1 1.3l1-1.2l1-.4l1 2.3l1-.1l1-3.3l1 1.1l1 1.9l1 1l1-2.3l1 .6l1-1.6l1 5.3l1 4.1l1-6.3l1-.3l1 .3l1-.4l1-1.3l1 1.5l1-.9l1 1.6l1-2.7l1 .2l1 1.7l1 .8l1-1.5l1-1.2l1 .8l1-.5l1 3.2l1-1.3l1 .5l1-1.3l1-1.2l1 2.3l1 .7l1-1.4l1-.9l1 1.5l1-1.9l1 1.5l1-2l1-.3l1 2l1-.3l1 2.1l1-2.9l1 .4l1-1.6l1-1l1 .2l1 3l1-2.2l1 3.1l1 .4l1-2.3l1 2.6l1 1.8l1-2.5l1-1.8l1 1.6l1-2.6l1 2.1l1-1.5l1 .5l1 1l1-.6l1-.4l1 1.1l1 .1l1-2.9l1 2.6l1 .1l1-1.9l1 1.5l1-2.3l1 3.7l1-2.2l1 .2l1 1.7l1-1.8l1 1l1-2.3l1 .7l1-1.1l1-2.6l1 5.8l1-1.1l1 .9l1-2.6l1 .2l1 .6l1 1.4l1-.3l1-.5l1 .8l1-1l1 .1l1 1.8l1-2.5l1 1l1 1.9l1-2l1 .8l1-1.8l1-1.2l1-1l1 1.5l1 .1l1 3.6l1-1.7l1-.9l1-1.4l1 2.3l1-.4l1-1.1l1-1.1l1 .5l1-4.3l1 6.2l1-.3l1-.3l1-2.2l1-.9l1 1.9l1 1.4l1 .6l1-1.5l1-.5l1 2.7l1-.9l1-1.3l1-2.7l1 3.5l1 .9l1 .6l1-2.4l1 0l1 .3l1 1.7l1-2.7l1 1.4l1-1.1l1 1.6l1-2.4l1 2.6l1-1.2l1 .3l1 1.1l1 .8l1-3.9l1 3.7l1-.6l1-1.2l1 2.3l1-1.6l1 1.4l1-2.5l1-.4l1 6.2l1-2.1l1-2.1l1 .4l1-1.9l1-1.2l1 1.5l1 2.4l1-4.6l1 1.8l1-1.9l1 2.8l1 1l1-2.9l1 1.1l1 2.4l1-1.9l1-1.6l1-.1l1-1l1 3.8l1-2.1l1 2.5l1-.3l1-2.1l1 .2l1 1.8l1-.9l1 .2l1-2.6l1 3.4l1-2.4l1-1.9l1 2.2l1 1.4l1 2.3l1-3.4l1-1.3l1 4.7l1-2.6l1-.6l1-1.1l1 .1l1 8.8l1-7.9l1-.3l1 0l1 2.8l1-2.9l1 1.6l1-.5l1 0l1-1.5l1 9.3l1-6l1-2.2l1 2.6l1-4.3l1 2l1-.7l1 .3l1 .1l1-2l1 3l1-.7l1-.4l1 .4l1 .9l1-1.2l1-1.2l1 2.7l1-2.2l1-.4l1-1.1l1 2.1l1-1.4l1 .7l1 1.3l1-.6l1 7.9l1-7.5l1-1l1 .1l1-.2l1 1.5l1-.8l1-.6l1 1.7l1-1l1-.8l1-1.4l1 2.6l1-.3l1-.2l1-.7l1-.6l1 .9l1 .6l1-.5l1 0l1-.5l1 1.1l1-.1l1-1.4l1 2.1l1 0l1 0l1-1.3l1-4.7l1 3.3l1 2.6l1-3.9l1 2.3l1 .1l1 1.6l1-1.1l1-1.4l1-.6l1 .9l1 1.2l1-.1l1-.3l1-.7l1 5.7l1-3.4l1-2.9l1 1.5l1 2.2l1-1.5l1-1.3l1 1.5l1-2l1 1.1l1 2.1l1 .4l1-4.9l1 3.3l1 1.7l1-3.4l1 1.1l1 1.7l1-2.8l1 1.3l1-.7l1 1.2l1-.7l1-.7l1 1.5l1 1.6l1-1.9l1-1.5l1 1.2l1-.4l1 1.1l1-3.4l1 .4l1-1.2l1 3.6l1-.8l1-.9l1-.1l1 .2l1-.5l1 .8l1-.2l1 2.6l1-1.5l1-1.6l1 .3l1 2.5l1-1.1l1-.2l1 .6l1 1.2l1-3.9l1 .7l1-1.4l1 3.1l1-1.3l1-.4l1-.1l1 5.9l1-5.1l1-.5l1 2.5l1-3.2l1-.3l1 5.3l1-9.2l1 4.9l1-.3l1 .8l1 1.3l1-.1l1-.3l1-1.1l1-1.7l1-4.7l1 8.8l1-.6l1-1.7l1 1.3l1-1.6l1 7.5l1-12.6l1 5.2l1 .6l1-.4l1 1.2l1 1.6l1-.8l1-2.3l1-.5l1 .1l1-.5l1 1.4l1 .5l1-.3l1 0l1-.1l1-.4l1-.8l1 3.4l1-1l1-2.7l1 0l1 .5l1 .8l1 1.7l1-.4l1 .1l1 0l1 0l1-.5l1-.4l1-.8l1-2.2l1 2.2l1 2.7l1-3.3l1-.1l1 2.3l1-1.3l1-.8l1 2.8l1-1.3l1 .2l1-1.8l1 1.4l1-.2l1 .6l1 .5l1 0l1-1.4l1 .7l1-2.5l1 2.5l1 0l1-1.5l1-.5l1 1l1-1.6l1 8.8l1-6.8l1-1.7l1 1.4l1 1.4l1 0l1-.1l1-1.6l1-.3l1-.1l1 1.4l1 2.4l1-1.3l1 .2l1-.3l1-4.1l1 2l1 6.6l1-4.7l1 .6l1-3.2l1 6.4l1-4.7l1-1.5l1-.2l1-.1l1 2.2l1-2.5l1 2.8l1-1.4l1 .9l1 1.1l1-3.1l1-.2l1 1.7l1-2l1 5.3l1-4.1l1 .4l1-1.9l1 1.2l1 1.3l1 1l1-4.5l1 4.5l1-.6l1-2.7l1-.6l1 2.6l1-1.1l1 .7l1 1l1-1.7l1 .7l1 .5l1 .5l1 1.2l1-.1l1-2l1-.7l1 3.6l1-2.4l1-.3l1-2.1l1 2.6l1-2.1l1 .4l1-1.2l1 1.1l1 .8l1-2.2l1 .9l1 1.1l1-1.7l1 0l1 .6l1-.8l1 2.8l1-2.2l1 2.4l1 .2l1-2.9l1 1.7l1-.7l1-1l1 1.1l1 .2l1 1.3l1 .4l1-2.9l1 .9l1 1.3l1 .9l1-5l1 11.5l1-8.4l1 2.3l1-2.7l1-.5l1 1.2l1 1.5l1-1.6l1-3.3l1 4.2l1-3.1l1 .8l1-.2l1-1l1 .8l1 .4l1 .5l1 .8l1-.4l1-1.6l1 1.8l1 1.6l1-.1l1-1.1l1 .6l1 .4l1 .7l1 .4l1-2.8l1 5.5l1-3l1 .1l1 0l1-5.4l1 2.9l1-3.3l1 4.6l1-.9l1 0l1-.3l1 2l1-2.2l1 1.8l1-.7l1-.2l1 .1l1-.5l1-1.7l1 2.5l1 0l1-1.2l1 1.2l1 .3l1-3.1l1 1.6l1 5.3l1-6.4l1 1.7l1-1.6l1 .6l1 .9l1 .1l1 0l1 2.6l1-3.8l1 1.1l1-2.1l1 2.4l1 .9l1 .1l1 1.7l1-3.8l1 5.5l1-5.3l1 5.8l1-7l1 3.3l1-.5l1-.8l1-1.8l1 .9l1 .4l1 .2l1-.5l1-.2l1 .6l1 1.6l1-4.7l1 .9l1-.3l1 1.2l1-1.5l1 3.2l1-.6l1-.5l1-.6l1 1.1l1 .1l1 .2l1-1.5l1 1.9l1-3l1 3.8l1-5.3l1 2.7l1-.8l1 2.8l1-3.2l1-2.1l1 2l1 5l1-2.3l1-.5l1 .5l1 2.5l1-1.9l1-4.3l1-1l1 4.4l1-2.6l1 3.3l1-2.7l1 1.9l1 .1l1-1.3l1 1.8l1-2.3l1 1.7l1-1.1l1 .5l1 3l1-2.6l1-5.7l1 5.4l1-.9l1 1.1l1 .2l1-.1l1 0l1-.9l1 1.4l1 .8l1-2.4l1 .8l1 .2l1 1.6l1-.2l1-9.2l1 7.8l1-2.2l1 .7l1 1.4l1 .8l1 .5l1-1.8l1-1.5l1 2.5l1-.8l1 .8l1-.4l1 .8l1-.1l1 .3l1-1.9l1 2.1l1-2.1l1 .8l1 2.4l1-2.1l1-2.1l1 3.7l1-.7l1 .2l1-1.3l1 .2l1-.8l1-.7l1 3.1l1-2.6l1-.2l1 0l1 3.3l1-1.4l1-1.8l1 .5l1 .7l1 .5l1-3.4l1 3.5l1-6.7l1 4.4l1 .4l1 1.7l1 1.3l1-2.2l1 .5l1-1.9l1 1.8l1 .5l1-3.3l1 1.4l1 1.8l1-3.6l1 2l1 1.3l1-3.2l1 1.8l1-4.8l1 6.6l1-3.1l1 3.4l1-1.1l1 1.2l1 0l1-1.2l1 .2l1-3.2l1 6.6l1-5.6l1 1l1 1.8l1-3.9l1 2.1l1-1.5l1 3.8l1 .3l1-2l1 2.2l1-.7l1-3l1-1.4l1 5.7l1-3.6l1-1.1l1 2.7l1-.8l1-1.2l1 .4l1 .8l1-.2l1 1l1-1.6l1 4.7l1-3.3l1-.4l1 1.1l1-2l1 .2l1-1.5l1 3.9l1-4.3l1 2.3l1-1.6l1 1.8l1 .6l1-3.5l1 2.1l1-2.3l1 4.7l1 .9l1 .7l1-4.8l1 3l1 .3l1-.3l1-3.2l1 1l1 2.7l1-3.6l1 .6l1-1l1-.3l1 3.6l1-.9l1-3.9l1 3.8l1 .7l1 .7l1-2.3l1-.5l1-1.1l1 3.3l1-2.5l1-1.5l1 1.9l1 .4l1 1.3l1 .2l1-2.7l1-.1l1 .7l1-1.4l1 1.7l1-4.1l1 4.4l1-2.6l1 .6l1 3.9l1-3.6l1 2.7l1-.2l1 2.8l1-5.3l1 1.9l1-1.8l1 1.1l1 .5l1-1.3l1 .7l1-.1l1-1.5l1 1.6l1-.7l1-1.9l1 2.4l1-5l1 4.5l1-2.3l1 4.5l1-.1l1-.1l1-.5l1-2.6l1 2.2l1-1.7l1 5l1-4.3l1 1.9l1-3.6l1 .6l1 6.7l1-3.7l1-.3l1-.4l1-3.5l1 4.9l1-3.4l1 4.1l1 .4l1 4.8l1-6.2l1-3.7l1 6.3l1-3.9l1 1.3l1-3.1l1 1.3l1-1.9l1 1.6l1 .4l1 .4l1 1.9l1-1.6l1 6l1-6.7l1 3.3l1-4.4l1 3l1-5.3l1 5.2l1-1.3l1-.9l1 4.6l1-.1l1-6.8l1 .7l1 1.5l1 3.2l1-1l1-1.4l1-2.9l1 .9l1-3l1 1.8l1 3.3l1 .6l1-3.5l1 2.3l1 2.6l1-2.5l1-.8l1 1.5l1-.1l1-.8l1-1.1l1 .2l1 .9l1-1.1l1 3.2l1-.8l1 .3l1 1.6l1-.7l1-.3l1-1.8l1-1l1 4.3l1-5.2l1 .1l1-.5l1 1.9l1 .3l1 1.1l1-2.2l1-2.7l1 3.6l1 1.1l1-1.7l1-.3l1 1.2l1 1.5l1-2.6l1-2.4l1 1.5l1 .7l1-2.9l1 4.5l1-2.8l1 2.3l1-.6l1-.9l1 3.4l1-3.9l1-.2l1 1.7l1 .9l1-1.5l1-1.8l1 3l1-.2l1 2.6l1-4.1l1 .7l1-1.4l1-1.7l1 2.8l1 1.3l1-3.3l1 .5l1-.9l1 4.5l1-3.6l1 2.2l1-2.7l1 1.7l1-1.3l1-3.2l1 4.4l1 .8l1-1.6l1 .2l1-.5l1-1.2l1 1.5l1-3.2l1 4l1 1.7l1-4.6l1 2.2l1 2.7l1-2.5l1-1.2l1-.8l1 2l1-.7l1 1.4l1-4.1l1 4.8l1-2.8l1 1.8l1-2.5l1-1.2l1 1.3l1-.8l1 1l1 1.8l1-5.7l1 4.7l1 5.1l1-6.5l1 1.9l1 .9l1-2.8l1 .2l1-1.2l1 1.6l1 1.3l1-6.8l1 5.3l1-1.7l1-3.5l1 4.8l1-.9l1 .7l1-3.4l1 6.4l1-4l1 4l1-1.7l1-1.9l1 .2l1 .4l1-9.9l1 10.3l1-4.1l1 .9l1 .9l1-3.4l1 1.6l1 .5l1-1.9l1 .6l1-4.5l1 .4l1-.5l1 2.4l1 3.8l1-5.2l1-1.4l1-.6l1 1.3l1-1.4l1-4.6l1 3.2l1-3.1l1 .4l1-6.9l1-.7l1 2.5l1-6.5l1 2.1l1-2.5l1-3l1-2.5l1-3.5l1-3.3l1-5.8l1-3.7l1 .2l1-8.4l1-7l1-6.9l1-9.2l1-5.7l1-8.9l1-6l1-12.3l1-11.6l1-5.1l1-5.8l1-4l1-9.4l1-9.1l1-1.8l1-2.8l1 2.2l1 1.3l1 3l1 10.3l1 6.7l1 7.4l1 9.5l1 12.2l1 4.8l1 7.5l1 10.6l1 2.6l1 12l1 3.5l1 6.1l1 7.5l1 8.2l1-.2l1 7.6l1 2.6l1-.1l1 7.7l1-.8l1 1.1l1 3.6l1 2.1l1 4.4l1-1.1l1 5.9l1-1.3l1-.8l1 .8l1 3.2l1-3.8l1 .5l1 3.4l1 3.7l1-.3l1 .3l1 0l1-3.5l1 4.3l1-2.6l1 5.8l1-1.4l1 .2l1 1.4l1 .1l1 .1l1 .6l1-1.7l1-1.3l1 3.7l1 2.5l1-3.7l1 .7l1 1.9l1-2l1 1.9l1-1.9l1 1.7l1 4l1-2.4l1 1.7l1-4.7l1 .3l1 1.5l1 1.4l1-1.5l1 2.6l1-3.1l1 4.1l1-.8l1-4.3l1 7.7l1-5.6l1 2.7l1-3.2l1 1.8l1 .6l1-6.6l1 1.6l1 4.3l1-.5l1 2.5l1-1.6l1-3.2l1 3.5l1-2.3l1 1.2l1-.6l1 1.9l1-3.7l1 .6l1-2.3l1 12.5l1-9.8l1 4l1-4.3l1 1.2l1 .4l1 2.3l1-.9l1 .4l1-2l1 1.2l1 2.8l1-2.7l1 .8l1-5.1l1 5.6l1 2.7l1-1l1-8.5l1 5.8l1-.4l1 .5l1-1.5l1 1.8l1 1.1l1-1.4l1-.8l1 .2l1-.3l1 .9l1-1.6l1-2.8l1 7.3l1-6.8l1 3.6l1-2.6l1 2.3l1-1.5l1 2l1-1.8l1-1l1 3.6l1 2.3l1-2.2l1-.5l1-2.6l1 7l1-3.7l1-2.4l1 3.5l1-2.1l1 .8l1-1.9l1 .1l1 1.6l1 .3l1 0l1-3.1l1 .6l1 1.6l1-9.6l1 12l1-1.6l1-.6l1-1.7l1 3.4l1 3.3l1-.8l1-3.4l1-4.3l1 5l1-2.8l1 6.1l1-10.3l1 5.1l1 .9l1 1.1l1-.7l1-2.7l1-1.4l1 1.2l1 2.7l1 1.1l1 2.2l1-7.2l1 3.2l1-.7l1-.4l1 1.3l1-.9l1-.1l1-.8l1 2.4l1 1.5l1 1.3l1-5l1-1.2l1 1.8l1-1.3l1 4.3l1-4.3l1 2.1l1-3.3l1 2.3l1 1.3l1 3l1-5.1l1 2.5l1-5.7l1 2l1 .9l1 .7l1 6.4l1-3.8l1-5.1l1 4.9l1-3.8l1 6.8l1-3.5l1-.4l1-.7l1 .3l1 .1l1-1.6l1 3.3l1-1.1l1 1.1l1-1.9l1 1.7l1-3.3l1 7.9l1-7.8l1 3.6l1 .2l1 .6l1-4.7l1-2l1 .6l1 1l1-5.2l1 7.1l1 2.7l1 .1l1-3.9l1 2.7l1 .7l1 1.2l1-3.6l1-1.3l1 3.4l1 1.8l1-4.8l1 5.8l1-.6l1-4.6l1-3l1 2.2l1 .6l1 2l1-5.1l1 9.5l1-.2l1-7.1l1-2.7l1 3.9l1 1.4l1-3.5l1 4.1l1-2.1l1-9.8l1 11.4l1 .8l1-2.7l1 1.3l1-.2l1-1l1-2.1l1 3.4l1-4.1l1 6.5l1-5.3l1 3.2l1-2.9l1 2.6l1-1.4l1 1.7l1-3.1l1-2l1 3.1l1-.1l1-2.7l1 1.8l1-2.3l1 4.1l1-1.1l1 .8l1 6l1-5.7l1 .5l1 .5l1-1.8l1-1.1l1 3.4l1 .3l1-8.3l1 5.5l1-.5l1-.6l1 .8l1-.8l1 3.2l1-3.3l1 .2l1 2.6l1-3.5l1 1.3l1-2.3l1 .4l1 3.7l1 3.9l1-8.4l1-.2l1 8.5l1-7.5l1-.6l1 3l1-3.1l1 .8l1 2.8l1 .1l1-3l1 3.4l1-3.7l1-.5l1 .3l1-1l1 1.7l1-.9l1-2.9l1 1.9l1-2.1l1-.6l1 .5l1 5.7l1-5.9l1 1.6l1-.1l1-4.5l1-2.2l1-1.4l1 1.4l1 .3l1 .5l1-8l1 3.8l1-1l1 1.8l1-6.7l1-1.8l1-4.8l1 .6l1-1.8l1-.5l1-.3l1-1.7l1 3.5l1 1.5l1 1.6l1-1.1l1 3.8l1 1.3l1-10.1l1 9.7l1-.9l1 2l1 4l1-2.4l1 7.9l1 2.5l1-2.7l1-.5l1 1l1 1.2l1 2.1l1-2.4l1 3.8l1-1.4l1 3.6l1 1.2l1 1.3l1-4l1-2.4l1-.5l1 3.6l1-2.4l1-.3l1 3.3l1-1.3l1 4.2l1 3.1l1-4.9l1 1.4l1-4.3l1 4.3l1-2l1-.8l1-1.7l1 8.2l1-7.4l1 1l1 3l1 .7l1 .1l1-.4l1 1l1 .7l1-1.3l1-3.8l1 7.2l1-4.5l1 3.1l1-5.6l1 .7l1 1.5l1-.3l1-1.9l1-.2l1 4.2l1-2.7l1 3.6l1-.7l1-1.7l1 6.5l1-5.3l1 5.7l1-8.7l1 2.9l1-4.3l1 4.9l1-1.1l1-1.1l1-4.1l1 9.3l1-5.4l1 1.6l1 2.6l1 3.3l1-4l1 1.2l1 2.1l1-2.8l1-.3l1-2l1-.1l1 1.5l1 3.5l1-2.4l1 1.9l1-6.8l1-.9l1 4.9l1 .3l1-4.4l1-1.1l1-6.6l1 10l1 6.4l1 .5l1-8.8l1 3.6l1-1.5l1 1.1l1-1.4l1-2l1 1.8l1 2.9l1-.9l1 2.1l1-5.4l1 5l1-2.3l1 .3l1 2.5l1-3.2l1 .9l1 .9l1 0l1 .4l1 1.2l1-1.8l1-2.3l1 6.8l1-5.8l1 .9l1-2.6l1-3.4l1 3.3l1 2l1 1.1l1-1.2l1 1.8l1 .5l1 0l1-2.3l1 .1l1-.7l1-1.5l1 5.4l1-6.3l1 2.8l1 .7l1-5.6l1 6.8l1-2.6l1 1.4l1-1.4l1-2.8l1 4.1l1-.2l1 2.1l1-1.3l1-5.1l1 6.6l1-.7l1-.1l1-.6l1-2.9l1 3l1-2.2l1 6.9l1-6.6l1-2l1 1.8l1 4.2l1-4.8l1-4.4l1 9.2l1-6.6l1 2l1 9.1l1-5.1l1-5.6l1 5l1-3.5l1 2.5l1-1.2l1 5.2l1-5l1-5.2l1 6.5l1-2.7l1 3.2l1-1.8l1 3.1l1-4.2l1-4.1l1 4.1l1 2l1-2l1-.4l1 4.7l1-9.5l1 8.4l1-2.1l1-3.8l1 1.2l1 1.5l1 1.4l1-2.6l1-1.5l1 1l1 1.2l1-.9l1 .7l1 5.8l1-3.8l1-2.6l1 1.9l1 3.8l1-2.2l1-1.8l1-3l1-6.3l1 8.7l1 .6l1-3.7l1 .7l1 3.1l1-5.2l1 1.2l1 4l1 1.4l1-.6l1 1.6l1 1.4l1-1.6l1-2.8l1 5.7l1-1l1-1.8l1-4.2l1 2.9l1-6l1 4.2l1-5.1l1 4.9l1 3.4l1-2.4l1 3.8l1-3.8l1 .2l1-.9l1 1.9l1-1.3l1 2.9l1 4.2l1-6.2l1-3.5l1 4l1 1.9l1-1.7l1-.9l1 1.6l1 .9l1-9.4l1 9.9l1-1.8l1-.7l1-2.5l1 1.9l1 .9l1-5l1 5.3l1-1.6l1 .5l1 .9l1-2l1 .5l1 1.4l1-1.1l1 .9l1-3l1-1.3l1 1.6l1-2l1 1.5l1 2.7l1-4.7l1 .9l1 4.7l1-3l1 1.3l1-3l1 .5l1 1.7l1 4.7l1-2.9l1-5.1l1 5.1l1 1.2l1-.6l1-4.6l1 2.8l1 5.2l1-7.3l1 3l1-2.6l1-1.2l1 2l1 3.5l1 .3l1-4.9l1 1l1-1l1-2.9l1 6.5l1 2.2l1-4.8l1 0l1 4.3l1-.6l1-3.4l1 .8l1-.9l1 1.4l1 3.8l1-6.6l1-.6l1 5l1-2l1-4.7l1 2.1l1 .5l1 .5l1 2.2l1 1.6l1-2.8l1 .8l1-2.2l1 4.3l1 .7l1-3.8l1-1.2l1 6.8l1-6l1-1.2l1-1.9l1 3.4l1 3.5l1-4.2l1 .8l1-.6l1 2.7l1 1.8l1-6.4l1 2.3l1 .2l1-1l1-1.4l1 4.9l1-1.6l1 1.3l1 1.9l1-4.5l1 2.2l1 3.3l1-4.9l1 1l1-1.2l1-3.2l1 7.2l1-3.2l1-3.2l1-2.6l1 5.3l1 1.6l1 .9l1 .2l1-3.6l1 2.5l1-5.3l1 4l1 1.9l1-3.7l1 1.1l1 6.7l1-6.1l1 3.3l1-6.2l1 5.8l1-6.3l1 1.4l1-.2l1 1.6l1-1l1 2.4l1-1.2l1 5.3l1-8.8l1 2.8l1 1.5l1 .5l1-1.9l1-2.3l1 .8l1 2.3l1 1.6l1-.9l1-1.4l1 1.6l1-2.6l1 1.8l1 2.8l1-.8l1 .6l1-4.2l1 1.4l1-3l1 4.6l1-3.3l1-2.1l1 1.9l1 1.8l1-6l1 1.9l1 5.8l1-2.2l1-.4l1-3.8l1 7.7l1-1.4l1-.8l1-10.8l1 10.4l1 1.4l1-3.7l1 .2l1-.6l1 2.6l1-2.1l1-.2l1-2.8l1-.6l1 9.8l1-2l1-1.8l1 1.3l1-4.8l1 1.1l1 1l1-5.2l1 8.2l1-7.4l1-1.7l1 4l1-3.9l1 6.6l1-6.9l1 7.5l1-.6l1-1.6l1 2.6l1 2.2l1-5.3l1 1.2l1-.9l1 .2l1-2.6l1-.6l1 3.1l1-2.9l1 3.5l1-.5l1-3.1l1 1.8l1-.8l1-.7l1 2.9l1-2.8l1 .3l1-5.4l1 6l1-5.2l1 2.4l1 4.6l1 .2l1-5.5l1-2.3l1 3.7l1-2.2l1 1.5l1-.5l1 1.8l1 .7l1-7.7l1 1.3l1-.2l1 3l1-7l1 4.8l1-7.1l1 3.5l1 3l1-7.1l1 .7l1 .7l1 2.8l1-3.5l1-2.1l1 2.2l1-3.4l1-1.6l1-.4l1 .3l1 3.8l1-10.2l1 1.8l1-2.8l1-2l1 2.5l1-.5l1-5.6l1-4.9l1-3.3l1 .5l1-3.9l1-3.2l1 .5l1-7.2l1-1.4l1 1.1l1-4.7l1-.6l1-6.1l1 1.6l1-5.5l1 3.3l1-2.8l1-2l1 1.9l1-3.4l1-2.4l1 5.7l1-2.2l1 3.2l1-1.2l1 4.2l1-3.1l1 1.2l1 1.9l1 7.6l1-4.2l1 2.9l1 6.9l1 2.9l1 2.8l1-.7l1 6.2l1 6.5l1-1.3l1 1.3l1-2.2l1 4l1-3.1l1 6.8l1-3.6l1 5.3l1 2.9l1-.5l1 2.7l1-.8l1 .3l1 3.4l1 .7l1 1.3l1-1.1l1-1.6l1 1.3l1 .1l1-4.5l1 1.6l1 6.5l1-3.9l1-6.8l1 6.3l1 .4l1-3.7l1 8.1l1-3.3l1-1.3l1-3l1 .9l1 .1l1-1.7l1-3.7l1 1.2l1-1.2l1-.7l1-4.4l1 1.9l1-1.9l1-.8l1 4.5l1-11.4l1 4.1l1-1.8l1-6.6l1 1.5l1-8.1l1 4.1l1 2.1l1-2.6l1 2.2l1-5.9l1-4.1l1 2l1-7.1l1 9.8l1-4.2l1-4l1 3.5l1-2.2l1 2.2l1-1l1 1.5l1 3.1l1-2.6l1 8.3l1 1.2l1-.2l1-2l1 .2l1 5.7l1 1.2l1 .7l1 2.1l1 .3l1 4.3l1-.7l1 2.9l1 4.2l1-4.5l1 3.2l1 1.1l1 1.1l1-.1l1 3.8l1 2.2l1 .4l1-2.6l1 6.6l1 .9l1-.6l1-1.8l1 1.1l1 7.6l1 .2l1-2.4l1-2.8l1 5.9l1-2.1l1 4.2l1-5.1l1 3.1l1-1.3l1 2.8l1-3l1 4.1l1-2.8l1-.9l1 3.8l1-.5l1-5.5l1 5.4l1 .6l1 .4l1 4.8l1-6.4l1 1.7l1-3.9l1 .7l1 2.4l1 1.2l1 0l1 2.2l1 .4l1 .8l1-2.7l1 1.7l1-2.8l1 2.7l1 .4l1-2.3l1-5.1l1 5l1 8l1-6.5l1-1.2l1 1.9l1 2.6l1-1.9l1-1.2l1-2.6l1 2.5l1-2.1l1 3.9l1 2.9l1-1.1l1-4l1-.9l1-.9l1 4.6l1-3.1l1 4l1-1l1-3.8l1-1.7l1 4.7l1-2l1 6.9l1-9.9l1 2.5l1 .5l1 3l1 1l1-3l1 2.9l1-4.6l1 2l1-1.8l1 1.7l1-.2l1 2.4l1 5.8l1-9.9l1 2.9l1 2.3l1-1.5l1 3.4l1-6.1l1 4.5l1-3.8l1 4l1-1.6l1 .2l1-2l1-3.1l1 1.8l1 4.6l1-2.4l1 2.5l1-1.4l1 1.2l1 .9l1-8l1 6.4l1 4l1-6.7l1 4.4l1-2.4l1 2.1l1-3.1l1-.9l1 .9l1 3.8l1-4.2l1-.7l1 4.9l1-4.1l1-1.6l1 .7l1 3.6l1-6.8l1 6.8l1 .6l1 1.4l1-4.3l1-.9l1 2.5l1-.1l1 3l1-3.2l1-1.1l1-2.3l1 2.8l1 .8l1 2.7l1-2.6l1 3.1l1-.3l1-5l1-.9l1 1.3l1 6.8l1-7.2l1 3.7l1 0l1 1.3l1-2.3l1-1.8l1 2.2l1-3.3l1 2.6l1-2.2l1 4.8l1-9.4l1 8.6l1 .1l1-2.3l1 1l1-.4l1 2.8l1 .9l1-4.1l1 4l1-5.6l1 2.6l1 .1l1-4.3l1 4l1-2.5l1 3.7l1 1l1-7.4l1 1.2l1 3.3l1 .7l1 .1l1-2.7l1 3.8l1-3.3l1 .8l1 3l1-2.8l1-4.3l1 6.5l1-1.8l1-1l1 4.2l1-1.4l1-.1l1-1.3l1 6.1l1-11l1 8.1l1-6.8l1 6l1-3.8l1-.5l1 5l1-4.5l1 1.8l1-.8l1 1l1-4.3l1 2l1 1.3l1 .4l1 2.4l1-1.4l1 .2l1-1.6l1 3.3l1-4.7l1 1.3l1-3.5l1 1.1l1 4.8l1-2.3l1-4.5l1 4.5l1-.4l1-2.3l1 3.7l1-1.5l1 .7l1 2.3l1-3.9l1 4.3l1-3.4l1 0l1 8.4l1-6.8l1-1.9l1 .7l1 .8l1-4.1l1 11.6l1-8l1-3.2l1 .8l1 4.6l1-5.4l1 8.6l1-8.1l1 3.2l1-6.9l1 6.2l1-1.1l1 2.5l1-.7l1-1.3l1 6.2l1-3.5l1-3.7l1 2.7l1-7.3l1 4.9l1 4.6l1-4.5l1 1.7l1-3.2l1 4.8l1-1.6l1 5.8l1-3.8l1 1.8l1-2.1l1-6.4l1 5.4l1-.4l1-3.5l1-1.2l1 3l1 .3l1 .6l1-1.7l1 2.2l1 .4l1-1.5l1 1.7l1-2.4l1-2.5l1 3.9l1 2.2l1 4.5l1-12l1 4.1l1-.9l1 8.1l1-4.3l1-1.3l1 2.1l1-4.3l1 1.7l1 4.2l1-1.9l1-6.2l1 9.2l1-6.9l1 2.5l1-1.8l1-.1l1-.6l1 3.3l1-3.5l1-1.2l1 1.7l1 1.4l1-5l1 7l1-3.8l1 3.6l1 1.7l1-2.7l1 .5l1-2.4l1-.6l1-3l1 4.2l1-.9l1-4.5l1 6.6l1 3.1l1-2.8l1 1.9l1-3.6l1-1.9l1 2.7l1-1l1-2l1 5.4l1-2.1l1-2.1l1 2.1l1-.8l1 1.9l1 2.4l1-5.5l1-1.4l1 6.4l1 2.5l1-7.5l1-.7l1-.8l1 3l1 .3l1-.9l1 2.7l1-4.1l1 .5l1-1.6l1 .9l1 4.9l1 .6l1-5.4l1 5.4l1-2.6l1 1.1l1-.4l1-2.2l1 .3l1-3.4l1 2.5l1 .8l1-2.3l1 3.1l1 2.9l1-4.4l1-1.2l1 .3l1 2.6l1-1.1l1-4.9l1 5.6l1-3.2l1 3.9l1 .8l1-2.6l1 .9l1-1.6l1 3.5l1 1.5l1-2.4l1 .3l1-1.1l1-1.8l1-.3l1 .9l1 1.3l1-.3l1 2.5l1-.7l1 1.9l1-1.8l1-2.6l1 .9l1-4.3l1 8.2l1-5.6l1 .4l1 5.5l1-7.2l1 4.1l1-1.6l1-1.3l1 1.7l1 .4l1 .9l1-1.8l1 1.9l1-2.5l1 2.3l1 1.4l1-7.2l1 3.7l1 1l1-5.2l1-1.7l1 7.2l1-2.4l1 3.5l1-2l1 0l1-.8l1 1.1l1-2.5l1 .9l1 3.2l1-2.6l1 1.9l1-1.3l1-.8l1-1.6l1 4.5l1-4.2l1-2.1l1 .3l1 4.5l1 .2l1-2.5l1-2.5l1 3.6l1 .7l1-1.6l1-.4l1 3.9l1-2.6l1-.7l1 3.1l1-2.2l1-1.7l1 3.8l1-3l1 3.1l1-4l1 2.5l1 2.2l1-2l1 .1l1-.1l1 .9l1-1.9l1 .9l1-1.8l1 5.4l1-7l1 4.1l1-4.5l1 3.8l1 1.8l1-6l1 7l1-6.7l1 .3l1 2.7l1-3.5l1 5.1l1-1.3l1-7.8l1 2.9l1 5.3l1-.8l1-3.8l1 .8l1 3.2l1-4l1 3.1l1-4.2l1 5.8l1-3l1-2.5l1-3.1l1 1.5l1 6.4l1-3.9l1 3.9l1-6l1 .8l1 1.9l1 2.8l1-3.3l1-2.2l1 3.1l1-.7l1 .8l1-1.8l1-1.4l1 1.4l1-6.4l1 6.5l1 2.1l1-1.9l1-4l1 3.2l1 1.7l1-4.8l1 .4l1 .7l1-2.5l1 1.2l1 3.1l1-5.3l1 5.4l1-4.2l1-.7l1 1l1-.6l1-.3l1-1.8l1-3.5l1 4.8l1-5l1-2.4l1 3.6l1-1.3l1-2.4l1-.5l1 .6l1 2.6l1-5.7l1-3.6l1 1l1 2l1-2.3l1-1.8l1 2.9l1-.4l1-2.7l1 .8l1-2.5l1-.1l1 .5l1-2.5l1 4.2l1-4l1 2.3l1 1.8l1 .4l1-1.7l1 .8l1 0l1 5.9l1-6.9l1 4.6l1 2.9l1-4.1l1 4.4l1-2.8l1-1.4l1 8.1l1-2.9l1-1.5l1 1.7l1 2.6l1 3.4l1-4.9l1 4l1-2.9l1 1.7l1 1.9l1-1.7l1 2.4l1-1.4l1 8.6l1-7.2l1 3l1-3.4l1-.4l1 2.8l1-.3l1 .3l1 1l1-2.6l1 7.8l1 .4l1-4.6l1 4.5l1-.2l1-5.6l1 .4l1 1.1l1 5.2l1-5.2l1-.2l1 4.1l1-3.8l1 .1l1 1.8l1-1l1-6.4l1 2.8l1 4.8l1-5.3l1 1.6l1 1.7l1 .7l1 0l1-5.3l1 2.6l1-.9l1 3l1 3.1l1-4.5l1 .6l1-5.2l1 3.7l1 .1l1-.1l1 1.7l1 1.7l1-3.8l1 .7l1-5.2l1 5l1-1.8l1-4.8l1 4.7l1-3l1 3.6l1-2l1-1.6l1 3.3l1-5.5l1-1.3l1-.2l1-1l1-3.8l1 1.9l1-2.3l1-7.5l1-2l1 3.9l1-3.1l1-1.2l1-7.9l1-3.1l1-9.5l1-3.4l1-11.9l1-10.1l1-7.1l1-11l1-9.2l1-8.8l1-16.4l1-12.1l1-11.7l1-15.7l1-19.5l1-17.2l1-8.5l1-23.5l1-17.9l1-14l1-24.6l1-57.5l1-47.1l1 51.3l1 55.3l1 21.4l1 16.4l1 23.6l1 18.5l1 8.5l1 19.8l1 13.9l1 18.2l1 13.9l1 10.3l1 15l1 2.1l1 19.6l1 7.6l1 10.3l1 11.7l1 10.1l1 1.6l1 4.8l1 4.5l1 7.1l1 1.4l1 6.2l1 10.2l1-5.9l1-.4l1 4.7l1-2l1-1.3l1 8.4l1 3l1-.5l1-3.4l1-4.7l1 5.2l1 4l1-2l1 5l1-5l1 3.7l1-.2l1 .4l1-3.8l1 3.6l1 1.2l1-1.3l1-2l1 2.3l1-.9l1 3.5l1 1.7l1-1.4l1 .3l1-1.1l1 7l1-11.1l1 5.2l1 2.2l1-3.4l1 3.1l1-5.3l1 4l1-.5l1 1.7l1-.7l1 5.3l1-11.8l1 2.8l1 2l1 2l1-1.8l1 0l1-2.2l1 .5l1 1.3l1 1.8l1-1.6l1 8.8l1-4l1-9.6l1 9l1 .5l1-5.5l1-1.1l1 7.8l1-6.2l1 4.6l1-.5l1-5.9l1 5.8l1-5.9l1 7.4l1-3.4l1 1.2l1-.3l1-1.6l1 4.6l1-1.8l1 1.3l1-3.1l1 1.9l1-5.5l1 6.2l1-1.7l1-3.3l1-.7l1 1.1l1-4.7l1 4l1 .4l1-2.5l1-2.5l1 6.7l1-4l1-4.3l1 .3l1-3.4l1-1.3l1-1.5l1 1.6l1 1.9l1-.5l1-3.5l1 1.3l1-2.7l1-8.9l1 2.2l1 1.4l1-.4l1-.1l1-7.1l1-2l1 9.8l1-11.4l1 9.6l1-1.5l1-2.3l1 8.3l1-.8l1 4.2l1-.6l1-2.4l1 3.9l1 4l1-2.8l1 3.4l1-.1l1-1.2l1 3.1l1 2.3l1 2.8l1-1.9l1-.9l1 3.8l1-2.4l1 3l1 .3l1-1l1 3l1 1.2l1-6l1 4.9l1-1.5l1-.1l1 1.2l1 2.9l1-3.1l1-.3l1-2.2l1 2.9l1 .6l1-2.3l1 1.7l1 2.1l1 2.4l1-4.1l1 5.8l1-2.4l1-.2l1-.6l1-1.2l1-1.7l1 1.4l1 .4l1 .3l1 3.6l1 1.2l1-3.6l1 1.2l1-4.2l1-3.2l1 4.8l1 .9l1 2.9l1 2.6l1-5.4l1 2.7l1-.5l1-2.2l1 1.6l1-1.1l1 3l1-6.5l1-3.2l1 6.2l1 2l1 .3l1-4l1 2.8l1-3l1-2.8l1 2.7l1-.8l1 5l1-5.5l1-.5l1 5.7l1-1.7l1-6l1 8.7l1-6l1 1.9l1 .9l1 5.3l1-5l1 2.3l1-2.6l1 1.6l1-4.8l1 3.6l1-1.5l1-1l1 3.2l1 1.9l1-1.4l1-2l1 2.7l1-4.6l1 3.5l1 .6l1-1.6l1-.4l1 1l1-1.7l1 .8l1 2.4l1-6.6l1 7.9l1-1.9l1-.6l1-3.1l1 1.5l1-.5l1 3.2l1-.1l1 1.3l1-2.7l1-5.2l1 2.6l1 1.5l1 1.8l1-4.6l1 3.2l1 .7l1-1.7l1 1.1l1 6.1l1-5.7l1 5l1-4.4l1-2.3l1 3.1l1-2.4l1 .9l1-5.5l1 6.5l1-2.3l1 4.2l1-2.5l1-1.2l1-1.7l1 2.7l1-1l1-1l1 6.6l1-5.1l1 2.6l1 1.5l1-2.7l1 .6l1-.3l1 1.1l1-1l1-.2l1-.9l1-1.5l1 .1l1-.5l1 2.1l1 2.8l1 .5l1-5.3l1-.9l1 2.3l1 2.6l1-3.3l1-4.1l1-5.9l1 10.4l1 1.6l1-2.7l1-2.5l1 5.1l1-1.4l1 4.8l1-5.9l1 1l1-.5l1 1.2l1-4.8l1 7.9l1-1.8l1-2.2l1-.3l1 2.2l1-.4l1-1.9l1 .6l1 1.3l1-1.9l1 .2l1-.2l1 .1l1-2.3l1 .9l1-.7l1 4.9l1-2l1-12.1l1 8.5l1 4.7l1 3.2l1-1.2l1-3.5l1-.4l1 6.1l1-.9l1-3.7l1-2.9l1 4.6l1-.2l1-7.1l1 3.4l1 4.1l1-.3l1-5.3l1 3.1l1 2.2l1-1.3l1-3.5l1 2.2l1 2l1-.4l1-3.6l1 8.2l1-5.2l1-4.3l1 2.9l1-5.7l1 4.8l1 1.6l1 6l1-5.4l1 .4l1 1l1-1.4l1-2l1 4.9l1 .8l1-.4l1-1.2l1-4.9l1 1.2l1 .1l1 .1l1 2l1-1.5l1-1.5l1 5.5l1-.2l1-3.3l1-2.7l1 1.1l1-.3l1-.4l1 5.2l1-2.4l1 .2l1 .3l1-3.4l1 3l1 4.2l1-4.3l1-1.5l1 7.3l1-5.6l1-2.3l1 3.7l1-3.9l1 .8l1 3.4l1-4l1-2.1l1 5.3l1 .3l1-5.4l1 2.5l1 3.6l1-6.6l1 5.9l1-2.3l1-1.2l1 .1l1 .6l1 1.2l1-7l1 1.9l1 4.7l1 1.6l1-3.2l1 1.6l1-2.6l1-.8l1 3.8l1-.6l1-1l1-2l1 3.4l1-.4l1-.4l1 .3l1-.6l1 2.1l1-5.3l1 8.4l1-.9l1-3.6l1-2.9l1 4.6l1-3l1 5.1l1-7.3l1 2.6l1 4.7l1-3.7l1 1.7l1-.1l1-2.8l1 3.2l1-4.2l1 1.4l1 5.9l1-5.6l1 1.3l1-3.5l1 5.9l1-5.5l1 .4l1 .3l1-.8l1-1.2l1 2.8l1-.5l1 .9l1-2.1l1 .2l1 1.4l1 .7l1-2.2l1 2.1l1-.4l1 3.1l1-1l1-.4l1 1.3l1-4l1 4.8l1-2.9l1-1.6l1 2.2l1-3.6l1 6.9l1-3.7l1-4.3l1 .9l1 1.5l1-.1l1 2.4l1 1.1l1 .3l1-1.2l1-3.6l1 5l1 .3l1-7.7l1 3.3l1 .5l1-1l1 4.4l1-1.4l1-1l1-3.1l1 4.2l1-3.5l1 .2l1-.2l1-2.9l1 1.4l1 2.6l1 1.9l1-2.1l1 .7l1 .3l1 0l1 3.1l1-4.8l1 2.4l1-3.7l1 6l1-1.1l1 .7l1-2.2l1-.6l1-2.8l1 3.9l1 2.5l1-9.8l1 10.8l1-6.3l1 3.1l1-3.1l1 1.6l1 2.3l1-2.4l1 4.8l1-4.3l1 1.5l1-3.1l1 .3l1 .2l1 2.2l1 2.8l1-4l1-3.2l1 1.6l1-1.8l1 4.5l1-1.1l1-2.7l1 1.7l1 3.1l1-1.1l1-2.6l1 3.2l1-.9l1-2.3l1 1.8l1 4.1l1-7.3l1 5.2l1-2.8l1 1.8l1-.6l1-.3l1-1.1l1 .4l1 1.6l1-.5l1-4.7l1 4.6l1 2.1l1-1l1-1.7l1-5l1 5.9l1 .1l1 1.9l1-5.9l1 1.8l1-.8l1 .6l1-3.6l1 3.1l1 0l1 .1l1 4.8l1-5.5l1 .5l1 3.8l1-4.2l1 4.3l1-1.9l1-2.7l1-.2l1 2l1-.8l1 .6l1-1.6l1 2.8l1-3.2l1 .5l1 .7l1 .8l1-1.3l1 .2l1-3l1-.9l1 7.3l1-3.7l1 .2l1-1.2l1 5.3l1-4.4l1-4l1 5.5l1-3.6l1 3.4l1-1.5l1 3.4l1-2.1l1-2.1l1 4.3l1 3l1-8l1 3.9l1-1.8l1 .1l1-4.3l1 .5l1 11.2l1-8.6l1-1.8l1 5.6l1-1.6l1-1.3l1-4.4l1 2.2l1-.5l1-1.1l1-2.7l1 1.7l1 4.2l1-2.1l1 .4l1-.9l1-.4l1 2.4l1 3.3l1-5.6l1 1.8l1-4.6l1 4.7l1-4.1l1-.1l1-2l1-1.2l1 .2l1-1.6l1-1.3l1 12.5l1-9.3l1 .8l1-1.9l1-1.6l1-1l1-3.1l1-.7l1 .7l1-.4l1-1.4l1-1.2l1-2.5l1 3.3l1-2.8l1 .5l1-4.8l1-5.6l1-1l1-1.4l1 3.2l1-9l1-3.6l1-6l1-6l1-2.9l1-3.4l1-6.4l1-9.4l1-3.8l1-7.3l1-6.6l1-1.3l1-12l1 .2l1-12.9l1-7.5l1-3.4l1 .9l1-10.1l1-.9l1-8.1l1 7.3l1-8.4l1 11l1 7.6l1 1l1 8.1l1 3.8l1 6.3l1 8.3l1 8.8l1 4.2l1 6.1l1 3.9l1 4.1l1 10.1l1 4.5l1 6l1 6.5l1 3.6l1 3.2l1 2.9l1 3.3l1 1.7l1-2.3l1 6.1l1 4l1 4.2l1-.8l1-1l1 8.4l1-2.1l1 .2l1 3.6l1 1.5l1-1l1-.3l1 .8l1 4.2l1-1.7l1 2.3l1-5.4l1 4l1 .8l1 .3l1-3.2l1 4.1l1 5.5l1-2.8l1-1.7l1-.2l1-1.3l1 4.3l1-2.3l1 1.3l1 3.4l1 .4l1-.6l1-5.4l1 2.9l1 4.6l1-5.7l1 6.2l1-3l1 2.6l1-3.3l1-1.7l1 .5l1 6.4l1-4.4l1-2.1l1 5.2l1-5.7l1 3.5l1 1.4l1 0l1 .4l1-1.2l1-5.8l1 6.8l1-.6l1-.3l1 1.8l1 .8l1-1.3l1 3.2l1 1.8l1-4.7l1-1.5l1-2.3l1 4.8l1-5.9l1 8.7l1-7.2l1 1.8l1 3.1l1-3.8l1-.6l1 4.8l1-4.5l1 3.2l1-.8l1 4.2l1-3.1l1 3.2l1-1.7l1-4.1l1-.9l1-2.3l1 5.4l1-6.5l1 4.4l1-4l1 1.3l1 6.6l1-3.9l1 .8l1 .3l1 1.8l1-4.3l1 3.9l1-.5l1-2.3l1 .2l1 5.5l1-1.2l1-.7l1-3.2l1 1.3l1-7l1 3.5l1 3.2l1-6.5l1 4.6l1 .1l1 4l1-2.1l1-2.8l1 9.1l1-9.4l1 4.9l1-3.1l1 4.3l1-1.5l1 2.3l1-2.7l1-1.7l1 5.5l1-7.7l1 3.6l1 .2l1-1.4l1 2.7l1 3.3l1-.4l1-3l1 .8l1 6.2l1-9.3l1 5.3l1-3.1l1-5.2l1 6.1l1-3.8l1 3.1l1 .9l1-2.4l1 1.4l1 2.7l1-6.8l1-1.3l1 4.5l1-.3l1 5.8l1-2.7l1-1.2l1-1.6l1-4.6l1 1.6l1 2.5l1 1.2l1-1.5l1 1.3l1 1.5l1-3.5l1 .7l1-1.4l1 5.5l1-8.1l1 6.6l1 .4l1-7l1 3.9l1 3.9l1-5l1 .8l1 1.4l1 3.4l1-1.8l1-3.2l1-1.8l1-.3l1 4.6l1-6.3l1 4l1 2.9l1-4.5l1 2.2l1 .6l1 2.1l1-5.2l1 3.5l1-.3l1 .4l1-4.2l1 5.2l1-3.4l1 1.9l1-1.9l1 7l1-4.7l1 5.2l1-6.9l1 .8l1 4.4l1-4.6l1 2l1 1.8l1-3.8l1-.7l1 1l1 3.2l1-1.5l1 2.2l1-3.9l1-.5l1-1.7l1 2.1l1-.7l1 1.1l1-2l1 .5l1 1.1l1 3.1l1-3.2l1-.6l1 4l1 .8l1-4.1l1 .1l1-3.9l1 .6l1 3.8l1 3.6l1 1.1l1-2.5l1-3.3l1 2.5l1-5l1 3.5l1-2.7l1 2.9l1 3.6l1 1.8l1-4.9l1 .5l1-5.1l1 2.5l1 5.4l1-6.6l1 4.9l1-1l1 3l1-4.8l1 .2l1 7.2l1-8.9l1 3.3l1-2.1l1 8l1-7.7l1-.2l1 .1l1 2.8l1-4.6l1-1.2l1 3.5l1-.6l1 2.2l1-2.2l1-.7l1 2.3l1-4.8l1 6.6l1-2.4l1-4.7l1 4.4l1 .1l1-.2l1 1.5l1-2l1 3.5l1-3.5l1 4.2l1-6.3l1-3.1l1 3.5l1 9.1l1-7.4l1 .4l1 1l1-1.8l1 1.7l1-.3l1 4.9l1-2.2l1-2.3l1 1l1-.2l1-4.2l1 5.5l1-4.4l1 3.6l1-1.7l1 2l1 1.2l1-2.1l1-2.6l1 .4l1 2.2l1-2.5l1 .1l1 .7l1-.6l1 2.2l1-2.5l1 1.4l1-2.1l1-2.5l1 6.3l1 .5l1-3.7l1 3.2l1-1.2l1-3.7l1 5.9l1-8l1 4.9l1 1.9l1-4.6l1 6.8l1-5.5l1 4.6l1-3.6l1 2.2l1-1.8l1 6l1-4.9l1 1.6l1-.8l1-1.3l1-1.1l1 1.6l1 1.5l1-.2l1-.9l1-1.7l1 2.1l1-4.3l1 2.5l1-5.1l1 3.4l1 1.3l1-3.1l1 .7l1 5.2l1-1.1l1 1.5l1 .2l1-1.4l1 .4l1 4.5l1-3.3l1-7l1 3.4l1 3l1-.5l1-5.8l1 9.3l1-3.5l1-2.5l1-2.4l1 5.7l1-3.8l1 1.4l1-4.6l1-2.3l1 7.5l1 3l1-9.8l1 4.4l1 2.7l1-1l1-.3l1-.2l1-2.4l1 5.2l1-.4l1-1.5l1-6.6l1 9.9l1-4.3l1 1.4l1 3.5l1-1.5l1-8.5l1 7.9l1-1.2l1-3l1 1.8l1-4.8l1 .5l1 .2l1 7.3l1-6l1 5.4l1-2.6l1 4.1l1-5.4l1 7.4l1-5.3l1-1.8l1 1.2l1-5.2l1 5.5l1-1.7l1 2l1-2l1-5.8l1 0l1 11.1l1-7.7l1 5.3l1-4.9l1 3.8l1-1.5l1 4.3l1-3.7l1 .3l1-3.1l1 3.5l1 .7l1-2l1 2.1l1-4.4l1 2.1l1 1.5l1-1.8l1 3.9l1-1.5l1-3.2l1-.8l1 2.3l1-1.8l1 .9l1-1.9l1 4.8l1-1.5l1 .3l1 1.3l1-7.9l1 5.9l1-.7l1 2.3l1-.5l1 3.6l1-1.6l1-3l1-2.9l1 5.7l1 .6l1-5.7l1 4.8l1 4.1l1-10.3l1 1.9l1 2.3l1-1l1 4.7l1-8.6l1 6.3l1-3.9l1-1.4l1 1.5l1 5.1l1 1.1l1-6.7l1 1.7l1-5.9l1 9.4l1-6.3l1 5.4l1 .9l1-2.5l1-2.9l1 4l1 1.6l1-4.7l1-1.3l1 3.5l1 2.3l1-6l1 .8l1 4.9l1-2.4l1-2.6l1 2.1l1 1.2l1 7.5l1-8l1-.8l1-4.2l1 5.6l1-.1l1-.8l1-.4l1 .2l1-3.2l1 5.4l1-5.5l1 5.2l1-3.2l1 .2l1 1.8l1-1.7l1 .5l1-2.7l1 6.1l1-6.7l1 6.7l1-6.5l1 1.4l1 .7l1 9.6l1-8.1l1-1.6l1-2l1 5.6l1-2.4l1 .9l1-1.5l1-.8l1 2.9l1-.9l1 2.1l1 3.2l1-9.7l1 5.5l1-1.8l1-.7l1-6l1 4.3l1 2.6l1-2l1 2.2l1 .8l1-1.5l1-2.4l1 3.4l1-.2l1-1.5l1-4.2l1 1.6l1 5.1l1-2.7l1-3.9l1 4l1 .6l1 1.4l1-.5l1-.2l1-2.9l1-2.3l1 2.6l1 4.9l1-7.3l1 6l1-6.1l1-3.9l1 7.8l1-2.4l1 1.4l1-2.3l1-2.3l1 7.1l1-5.9l1 1l1 3.5l1 .9l1-7.8l1 13.9l1-11.3l1 2.1l1-.6l1-1.6l1 .3l1 .2l1 2.1l1 1.2l1-2.7l1 2.5l1-1.8l1 2.3l1-6.4l1 3.5l1-.7l1-3.5l1 4l1 .9l1-1.9l1 .7l1-2.3l1-4.2l1 2.7l1 4l1-1.1l1 1l1-4.7l1 .4l1 6.2l1-9.9l1-.5l1 5.1l1-1.4l1-2l1-.2l1-1.8l1 .5l1-.9l1-1.3l1 1.6l1-1.5l1 3.7l1 .6l1-3.1l1-.7l1 2.4l1-2l1 5.2l1-11.4l1 .6l1 3.1l1 4.1l1 .8l1-2.9l1 1.4l1-.5l1 2.2l1 4.1l1-10.5l1 11.6l1-2.6l1-3.1l1 2.4l1-1l1 1.6l1 .4l1 1.1l1-4.1l1 4.4l1-2.8l1 4l1 .3l1-2.8l1 2.2l1 .3l1-.2l1-3l1 4.5l1-.5l1 5.4l1-7.9l1 5.5l1-3.5l1 .6l1 5.2l1-4.4l1 2.5l1-1.5l1-2.4l1 1.9l1-.3l1 .6l1 5.4l1-3.3l1-5.4l1 9.2l1-3.7l1 7.1l1-3.9l1-5.8l1 3l1-1.1l1-.4l1 .2l1 1.1l1 2.7l1-.9l1-1.1l1 2.3l1-8.7l1 5.9l1 .9l1 0l1 2.8l1-3.1l1 3.1l1-3.9l1 2.3l1-1.5l1-.8l1 1.9l1 .2l1-3.6l1 4.6l1-3l1-3.9l1-1.9l1 6.5l1-4.7l1 7l1-4.1l1 .9l1 .7l1-2.9l1 3.4l1-3.1l1 2.6l1 2.7l1 1l1 5.2l1-8.9l1-1.8l1 3.6l1 2.7l1-6.1l1 5.6l1-3.7l1-6.1l1 6.7l1 4.5l1-2.9l1 .9l1-1.7l1-5.2l1-1.7l1 3.3l1 1.7l1-1.6l1 .6l1 3.9l1 1.7l1-7.9l1 1.6l1 2.4l1-.2l1-5.4l1 12.4l1-4.7l1-.9l1-.8l1 .6l1-3.7l1 4.3l1-.6l1-.6l1 .9l1-2.5l1 1.9l1-6.5l1 7.8l1-2.3l1 6.8l1-6.1l1-6.2l1 9.7l1-5.7l1-1.1l1 2.7l1 3.3l1 1.6l1-10.6l1 6.1l1 2.9l1-.9l1-4.2l1 .7l1 0l1 2.6l1-7.8l1 5.7l1-.6l1 2l1-4.9l1-.6l1 .6l1-2.4l1-.9l1-.9l1-.7l1-1.5l1 .6l1-.7l1 .2l1 4.8l1 .3l1-.9l1-.2l1-1.8l1 5l1-1.5l1 1l1 1.1l1-.1l1 3.2l1-4.1l1 .7l1 2.3l1-.7l1 2.1l1 1.1l1 1.3l1-.9l1-3l1 .3l1-.4l1 3.9l1-3.4l1-1.5l1-.4l1 4.5l1-4l1-4.3l1 8.3l1-.9l1 1.1l1 .6l1-1.2l1-.3l1-.8l1-2.1l1-3.3l1 .4l1 5.9l1 1.1l1-1.9l1-2l1 3.5l1-1.7l1 .1l1-.9l1-2l1 .4l1 3.5l1 3.1l1 .4l1-4.9l1 1.6l1-1.3l1 .6l1 .6l1 1.2l1-5.1l1 7.3l1-4.8l1-2.1l1 8.2l1-8l1 2.1l1-1.7l1 4.8l1-9.5l1 7.3l1-4.8l1 7.9l1 1.3l1-3.1l1-4.1l1 4.8l1 2.6l1-4.9l1-1.5l1 4.6l1-7.1l1 2.6l1 .6l1 .4l1 2.5l1-3.2l1-2.4l1-.8l1 3.2l1 1.5l1 1.2l1-.9l1-5l1 4.9l1-3.1l1 4.9l1-4.1l1 .1l1-.7l1 3.8l1-2.8l1 6.7l1-3.5l1-5.9l1 2.8l1 2.7l1-.6l1-.5l1-1l1-4.5l1 .1l1 5.8l1-3.7l1 1.6l1 1.5l1-6.3l1-.1l1 6.1l1-2.9l1-3.4l1 4.1l1 0l1-3.3l1 1l1-1.5l1 8.6l1-3.3l1-2.5l1 4.2l1-5.2l1 .5l1-1.4l1 2.5l1-1.4l1 2.5l1-2.4l1 2.3l1 .4l1-.2l1-.1l1-.8l1-2.4l1-2.9l1 5.8l1-4.5l1 4.3l1-1.1l1 0l1 0l1 1.4l1-4l1 3.1l1 1.9l1-.8l1 .7l1-3.6l1 .4l1 4.8l1-3.5l1-.7l1 1.7l1-4.8l1 1.8l1 1.3l1-1.3l1 3.8l1-2.8l1 1l1-4.4l1 1.9l1-.1l1 1.2l1-.2l1-1.3l1 1.3l1 3.6l1-5.3l1-1.8l1 4.5l1 .6l1-9.2l1 7.6l1-7.6l1 6.1l1 2.8l1 1.2l1-5.1l1 3.9l1-5.2l1-.4l1-.8l1-1.7l1 1.3l1 4.1l1-6.8l1 3.9l1 2.4l1-2.3l1 .5l1-.6l1 .3l1-6.2l1 8.3l1-3l1-2.4l1 .4l1 .3l1 1.8l1-4.7l1-.4l1-.3l1 5.4l1-4.7l1 2.4l1-3.3l1-2.1l1 3.4l1-.7l1 4.5l1-2.7l1 1.4l1 4l1-8.4l1-.7l1-1.4l1 8.1l1-3.7l1 .3l1 1.7l1-2.5l1 1.4l1 5.3l1-6.6l1 1.3l1-1.6l1-.2l1 3.1l1-2.2l1-.8l1-5.4l1 2.4l1 .5l1 1.6l1 1l1-.6l1-.8l1-4.6l1 5.9l1 1.4l1-6.6l1 6.9l1 2.4l1-2l1-3.9l1-1.1l1 2.2l1 7.6l1-6.7l1-5.6l1-1.6l1 7.2l1 5.5l1-9.8l1 2.5l1 1.7l1 .8l1 1.5l1-6l1 4.3l1-1.8l1 3.9l1-1l1-2.7l1-1.1l1 .4l1 1.1l1 .7l1 4.9l1-6.6l1 1.8l1-2.4l1 6.6l1-3.5l1-1.9l1 3.8l1-4.3l1 5l1-1.6l1 5.3l1-2.9l1-3.1l1 4.3l1-1.8l1 1.5l1-8l1 5.4l1 .2l1 4.4l1-5.7l1 3.6l1-1.1l1-2.9l1 2.1l1 2.9l1-1.8l1 .2l1 .4l1 .5l1 .6l1-.9l1-9l1 8.9l1 .8l1 4l1-6.5l1 6.5l1-5.2l1 5.4l1-9l1 4.5l1-5.1l1 2.3l1-1.3l1 6.2l1-3.1l1 2.6l1-2.6l1 6.1l1-5.5l1 6.4l1-.3l1-6.8l1 3.6l1 2.5l1-.1l1-2.9l1 3.8l1-5l1-.3l1-1.3l1 2.3l1 .7l1-.9l1 .5l1 1.1l1-2.1l1-1.5l1-1l1 1l1 .5l1 3.3l1-.4l1-4.2l1 3.2l1-3.9l1 4.2l1-6.3l1 6.3l1-3l1 .8l1-1.1l1-2.5l1 2.7l1 5.1l1-4.1l1-.6l1 1.2l1-1.9l1-4.6l1 4.4l1-5.2l1 .8l1 1.6l1-2.7l1 .7l1 3.1l1-4.5l1 2.6l1-5.3l1 9.3l1-8.2l1 .7l1-.5l1 2.2l1-4.8l1-1.3l1 .7l1-1.5l1-2.2l1-1.6l1 4.3l1-1.7l1 4.1l1-5.3l1 0l1 3.6l1-7.6l1 5.9l1-4.3l1-1l1 3.7l1-.8l1-3.1l1 3.5l1 3.3l1-1.6l1-1.6l1-1.4l1 1.5l1 1.8l1-1.4l1 2.1l1 1.8l1-5.6l1 4.6l1 1.4l1-1.4l1-.4l1 5.9l1-9.7l1 6.9l1-.6l1 1.2l1 .5l1 1.1l1-3l1 .2l1 3l1 1.2l1-.1l1 3.6l1-1.4l1 2.3l1-.8l1-2.8l1 4.2l1 2.8l1-2.9l1-.2l1-2.4l1-.7l1 1.6l1-1.4l1 5.1l1 1.8l1-2.5l1 3.6l1-4.1l1 5.8l1-2.8l1-1.6l1 .3l1 1.2l1 2.6l1-3.9l1-.7l1 3.1l1-.9l1-3.3l1 3.5l1-.4l1-.1l1 1.5l1 .3l1 3.7l1-2.5l1 .6l1-3.1l1 1.2l1-1.6l1 0l1 3.9l1 3.4l1-3.6l1-.7l1 .4l1 .7l1-2.1l1 .1l1 1.7l1 2.5l1-3.8l1-4.2l1 6.1l1-1.4l1-2.4l1-.1l1-4.3l1 4.5l1 1.4l1 5.4l1-4.9l1-2.3l1 1.5l1 1.1l1 1.4l1-.7l1 1.4l1-6.8l1 5.2l1 .3l1-3l1 2.8l1-1.7l1-1.8l1-.1l1 4.5l1 .2l1 6.7l1-6.3l1-.6l1-3.8l1 2.1l1-.1l1 5.6l1-7.1l1-1l1 .7l1 5l1-4l1 3.4l1-3.1l1 3.8l1-6.3l1 2.7l1 2.6l1-2.1l1-1.6l1 5.8l1-7l1 1.3l1 5l1 1.4l1-4.2l1-3.1l1-.1l1 1.1l1 1.9l1 3.5l1-1l1-4.9l1 1.4l1 3.1l1 .1l1 .2l1-2.2l1-.9l1 3.7l1 1.2l1-4.5l1 1.5l1 1.8l1 1.1l1 .6l1-4.3l1 3.1l1-6.1l1-2.5l1 4.4l1 1.9l1-4.5l1 3.3l1 .8l1-.4l1 .7l1 2.1l1-3.4l1-.5l1 2.5l1 1.3l1-3.7l1 4.4l1-1.5l1-2.8l1 .9l1-1.9l1 3.7l1-1.4l1 4.6l1-11.3l1 3.4l1 1.8l1 2.5l1-2.2l1-.8l1 2.8l1-2.1l1 4.9l1-1.6l1 .2l1-6.3l1 2.1l1 2.9l1-1.6l1-1.4l1 3.4l1-1.3l1 6.6l1-4.6l1-3.1l1 3.5l1-2.1l1 .2l1 1.9l1-6.5l1-.1l1 1.2l1 5l1-1.8l1-1.7l1-1.2l1-1.6l1 4.9l1-.8l1 1l1 1.3l1-1.5l1 2.6l1-4.3l1 4.7l1-2.6l1-2.4l1 1.8l1 4.8l1-8.3l1 1.5l1 .5l1 1.4l1-.2l1 4.4l1-5.1l1 2.2l1-2.9l1-1.5l1 2.4l1-.3l1 2.3l1 1.6l1-4.4l1 3.8l1-5.1l1 6.7l1-7.8l1 2.3l1 1.9l1-1.6l1-1.8l1 4.5l1-4.2l1 4.8l1-5.9l1 6.1l1-.5l1-.8l1 1.3l1-3l1 .3l1 3l1-5.4l1 1.9l1 .1l1 0l1-.1l1-5.3l1 5.9l1 .7l1 2.4l1-1.1l1-8.3l1 5.7l1-1.6l1 1.4l1-.6l1 4.1l1-1.7l1 .5l1-2.4l1 .6l1 1.6l1-3.2l1 3.2l1 .9l1-.4l1-1.7l1-2.1l1 6.1l1-2.9l1 1.5l1-3.1l1-1.6l1 1.9l1 3.6l1 .6l1-2.1l1-1.9l1 1l1 1.7l1-5.1l1 .9l1-.4l1 2.6l1 1.2l1-1.1l1-.5l1 2.9l1-4.1l1 .2l1-1.4l1 2.7l1-4.3l1 3.6l1-4.4l1 5.7l1 .5l1-6.7l1 4.6l1 .6l1-1.9l1 2.5l1-.5l1-3l1 1.4l1-.8l1 5.7l1-.6l1-3.6l1-1.9l1 6.1l1-1.8l1 1.4l1 1.4l1-3.4l1-.9l1-2l1 2.2l1-2.8l1 5l1-3.1l1 4.4l1-4.7l1 1.9l1 .6l1 .5l1-4.2l1 5.2l1-1.8l1-5.8l1 1.1l1 3.9l1-.7l1 5l1-7l1 1.6l1 .6l1 .5l1 3.7l1-4.5l1-3.6l1 7.7l1-2.8l1-4.7l1 2l1 .9l1 1.1l1 1.6l1-2.5l1-.7l1-1.1l1 2l1 .6l1 .9l1-6.4l1 3.1l1 3.3l1 3l1-1.9l1-7.8l1 .9l1 6.1l1-1.3l1 0l1 4.7l1-7.4l1 5.5l1-2.6l1-1.8l1-3.6l1 2.2l1 6.6l1-3.5l1 1.8l1-.6l1 2l1-1.4l1-1.2l1-1.3l1-.3l1-1l1 2.5l1-1.2l1 3.2l1-3.5l1-1.4l1-2.4l1 6.5l1 4.2l1-6.2l1-5.3l1 7.7l1-3.9l1 3.3l1-.8l1 .8l1-1.4l1-1l1 3.3l1-3.3l1 3.6l1-4.4l1 1.9l1-2.2l1 4.1l1-3.9l1-.4l1 4.3l1-1.5l1-1l1-2.2l1 2.3l1 1.1l1 .6l1-3.3l1 3l1-5.9l1 4.8l1-2.4l1 4l1-2.8l1 6.7l1-5.3l1 .5l1-6.4l1 2.2l1 5.9l1-4.2l1 4.4l1-4.5l1 3.3l1-3.5l1 8.9l1-5.3l1 .6l1-4l1-1.4l1 4.6l1-.8l1 1.1l1-4.6l1 4.8l1-2.3l1-2.2l1 1.5l1 3.4l1-1.8l1-.1l1-.1l1-1.2l1 4l1-2.9l1-3.6l1 0l1 2.2l1 .4l1 2.7l1-8.2l1 8.3l1 1l1-4l1 4.3l1-4.8l1 1.3l1-.8l1 5.1l1-1.1l1-.1l1-5.5l1 3.1l1-3.1l1 7.6l1-3.4l1 2.1l1-3.8l1 .9l1-.9l1-2.3l1 6.8l1-3.2l1 2.7l1 4.2l1-11l1 1.7l1 3.2l1 .5l1-.5l1-1.7l1 2.2l1-4.6l1 1.8l1-2.2l1 5.3l1-1.5l1 .8l1-2.4l1-5.7l1 4.4l1 2.4l1-.3l1 2.2l1 .5l1-4.2l1 3.4l1-6.3l1 6l1-7l1 6.6l1-7l1 7l1 2.8l1-4.5l1 2.2l1 1.1l1-9.4l1 1.7l1 4.9l1-2.8l1 1.7l1 7.6l1 3.4l1-8.3l1-3.3l1 3.1l1-.5l1-1.3l1 4.7l1-9.1l1 8.9l1-5.1l1 9.2l1-8.4l1-1.2l1-.2l1 2.4l1 .2l1 5.6l1-2.4l1-4.2l1-3l1 3.4l1 1.2l1-5.8l1 4.4l1 3.3l1-4.5l1-2.9l1 6.1l1-3.3l1 .8l1 1l1 2.6l1-1.7l1-3.1l1 .9l1 .7l1 .2l1 3l1-5.6l1 3.6l1-1.4l1-4.9l1 7.2l1-1.5l1-3.7l1-1.3l1 7.1l1-2.9l1 .7l1-.8l1 2.4l1-3.5l1 6l1-1.9l1-5.4l1 6l1-2.2l1 2.6l1-8.2l1 8.2l1-3.6l1 1.9l1-3.8l1-.5l1 5.6l1-1.7l1 .2l1 .3l1-.2l1-5.7l1 3.4l1-.1l1 6.1l1-1.7l1-5.8l1-1.6l1 5.8l1-.4l1 2.1l1-6.6l1 7.4l1-3.8l1 2.8l1-2.6l1-1.8l1-1l1 5.7l1-10.4l1 14.9l1-11.5l1 1.6l1 3.8l1-2.3l1-3.1l1 2.6l1 2.3l1-1.4l1-2.2l1 3.8l1 .2l1-5.2l1 7.6l1-.5l1-5.8l1 .7l1-2.6l1 3.5l1 .3l1 4.8l1-8.3l1 6l1-7.2l1 2l1-4.2l1 9.4l1-.7l1-2.6l1 1.4l1-4.2l1 .4l1 .3l1 3.4l1-1.9l1 1.5l1-3.3l1-.8l1 4.7l1-6.5l1 6.5l1-2.8l1 2.3l1-4.8l1 1.2l1 3.7l1-3.3l1-.8l1 .8l1 1.9l1-.6l1 1.9l1-1.2l1 6.8l1-6.7l1 3.1l1-.3l1-1.4l1-1.1l1-4l1 5.5l1 4.3l1-4.4l1 4l1-3.5l1 .5l1-3.7l1 .9l1 1.6l1 1.7l1-5.7l1-1.1l1 3.5l1-5.4l1 6.9l1 3.3l1-6.1l1 6.5l1-3.5l1-1.4l1-4.6l1 8.4l1 .8l1-3.5l1 .1l1-2.5l1-4l1 3l1-1.8l1 .2l1 1.4l1 .6l1 2.9l1 2.1l1 1.2l1-2.6l1-3l1 .1l1 1.7l1-2.6l1 2.3l1-2l1-1l1 .5l1 5.8l1-3.4l1-1.9l1 1.7l1-2.5l1 .7l1 .3l1-3.5l1 4l1 1.6l1-.5l1-1.1l1 3.2l1-5l1 5.1l1-.4l1-2l1 3.4l1-6.1l1 2.7l1-1l1-1.7l1-2.3l1 5.4l1 0l1 .6l1-3.4l1 1.4l1 0l1 2.5l1-2.3l1-5.6l1 2.6l1 1.7l1 .3l1 2.7l1-3.2l1 5.9l1-8.3l1 8.6l1-7.3l1-4l1 4.5l1 .3l1 .9l1-.5l1 2.4l1 .8l1-4.8l1 6l1-2.6l1-.6l1 2.2l1-2.5l1 4l1-7l1 6.4l1-4.5l1 3.2l1-3.1l1 5.5l1-3.4l1 1l1-4.8l1 3.9l1-.5l1 3.3l1-3.5l1-4.3l1 8.3l1-5.8l1 3.3l1-4.1l1 .2l1 2.6l1-7.5l1 4.1l1 1.5l1 0l1-3.2l1 7.1l1-3.4l1 .1l1-4.6l1 4.7l1 1.9l1 .5l1-.7l1-1.7l1-.5l1 1.1l1 1.2l1-7.5l1 5.2l1 1.6l1-1.7l1 1.3l1-.3l1-2.8l1 6.3l1-2.2l1-4.1l1-.1l1 1.2l1-.3l1-1.1l1 3.1l1-1.4l1-1.6l1 6.4l1-4.9l1-4.5l1 1.9l1 .6l1 .2l1 5l1-.6l1-2.4l1-.2l1 1.6l1-3.1l1 1.6l1 3l1-4.7l1 3.9l1-1.9l1 .7l1-.9l1 2.6l1 0l1-.8l1-5.6l1 4.5l1 2.7l1-5.7l1-1.3l1 3.3l1 2.7l1-5.4l1 4.1l1-1.6l1 .6l1 1.2l1-1.5l1 4.7l1-3.9l1 3.5l1-2.4l1 .2l1-4.1l1 1l1-2.1l1 5.8l1 .2l1-1.5l1 .9l1-3.1l1 .1l1 4.1l1-7.1l1 6.6l1 1.6l1-7.2l1 6.4l1 3.9l1-4.9l1 1.5l1 .3l1-5.1l1 5.9l1 3.6l1-6.1l1-6l1 2.4l1-1l1-1.8l1 1.5l1 .2l1 2.5l1-2.3l1-2.8l1 5l1-5.7l1 4.3l1 2.6l1-5.7l1 .8l1 3l1 3.6l1-3.8l1-.9l1 1.9l1-5.2l1 .5l1 5.7l1 .3l1-.6l1-1.2l1 .8l1-5.7l1 1.7l1 1.8l1 3.5l1-6l1 3.6l1-3l1 3.2l1 .7l1 .4l1-1.8l1 5.6l1-8.3l1 5.4l1-5.7l1 0l1 5.2l1-2.9l1-1l1 7.3l1 1.3l1-8.2l1 .7l1 4l1-4.6l1 7.6l1-9.5l1 2.8l1 3l1-3.1l1-.7l1-2.4l1 3.3l1 2.6l1-3l1-1.9l1 6l1-1.2l1-.8l1-2l1-1.7l1 5.2l1-2.9l1-1.1l1 .5l1 1.4l1 1.2l1-2.3l1-.9l1-2l1 2.2l1 .2l1 1.3l1-.9l1-1.3l1 1l1 1.9l1-1.8l1-.3l1-.2l1-.2l1 1.7l1 .7l1-2.3l1 .2l1 1.5l1 .9l1 1.6l1-7l1 2.4l1-.2l1 2.8l1 .7l1 2.4l1-6.1l1 3.9l1-8.8l1 6.3l1-5.8l1 3.8l1-1.1l1-.8l1 3.6l1-2.8l1-.1l1 .9l1 .7l1 2.6l1-2.5l1-1.3l1-2l1 5.9l1 5.1l1-5.1l1 1.6l1-.1l1-1.7l1 4.4l1-6.8l1 3.1l1-3.2l1 .4l1 .5l1-1.2l1 .5l1 2.8l1-7.1l1 2.3l1 9l1-8.2l1 4.8l1-2.8l1 1.6l1-.2l1 .5l1 0l1 2.4l1-6.2l1-1.6l1-.9l1-1l1 6.5l1-5.7l1 .3l1 9.1l1-5.7l1 .9l1-6.9l1 3.4l1-.7l1 3.9l1-.1l1 1.1l1 2.1l1 3.8l1-8.3l1 3.1l1 .6l1-2.7l1-2.3l1 4.8l1 .1l1-.9l1-3.3l1-3.9l1 3l1 0l1 5.7l1-5.7l1 3.3l1 2.6l1-5.5l1-.2l1 1.8l1 .3l1-2.7l1 7.3l1-9.1l1 5.6l1 1.6l1-1.6l1 .7l1-7.7l1 5.9l1 .6l1-.1l1-4.2l1 2.7l1-1.6l1 5.7l1-5.4l1-3.5l1 4.6l1-.2l1 4.9l1-.7l1-2.9l1-2l1-.4l1-3.8l1 4.9l1 .5l1-1.4l1-2.1l1 2.2l1 1.8l1-1.8l1 3.5l1-3.6l1 3.8l1-5.5l1 .6l1-2.2l1-.1l1-.3l1 1.9l1-1.1l1-2.8l1 7.2l1-3.5l1-4.1l1 2.1l1-2l1 2l1-.1l1-3.8l1-1.9l1-1.8l1-1.4l1-1.9l1 .6l1-7.4l1-3.5l1-8l1-.8l1-1.3l1-4.7l1-9.5l1-9.1l1-2.3l1-11.8l1-7.5l1-7.2l1-6.7l1 6.7l1-6.1l1-6.2l1 7.3l1 1.8l1 11.6l1 1.4l1 5l1 8.5l1 6.8l1-2.5l1 4.8l1-.1l1 6.5l1-.8l1 .1l1-2.5l1 5.5l1-5.2l1 3.1l1-.5l1-6.6l1 2.3l1 1.5l1-8.5l1 9.6l1 2.8l1-2.9l1 6l1 4.4l1 .8l1 2.6l1 .8l1 6.4l1 3.2l1 1.7l1 6.2l1-1.3l1 1l1 7.4l1-.9l1 2.6l1 1.9l1-8.8l1 5.4l1 7.9l1-8.3l1 4.4l1 6.3l1-5.1l1 4.2l1-3.4l1 8.7l1-5.8l1 2.7l1-5.1l1 5.7l1 .2l1-2.7l1 3.3l1-2.1l1 1.8l1-2.1l1 .4l1-1.8l1 10.1l1-7.1l1-1.1l1 6.2l1-4.1l1-.2l1-1.4l1 4.4l1-1.9l1-2.4l1 1.6l1 2.3l1-1.2l1 2.9l1-.3l1 3.1l1-7.2l1 1.6l1-.4l1 .1l1 .8l1-1l1 3.3l1 .8l1-2.8l1 1.5l1 1l1-2.5l1 .9l1-6l1 6.6l1-1.7l1 2.3l1 1.7l1-3.7l1-.5l1 3.1l1-5l1 4l1-2.2l1 1.5l1 1.1l1-1.3l1-1.1l1 4.3l1-8.3l1 4.6l1 .7l1-.6l1-1.4l1 3.3l1-1.9l1-2.5l1 5.8l1-3.5l1-2.8l1 3.5l1-1.6l1 2.4l1-3.5l1 2l1-3.2l1 .7l1 3.8l1-5.7l1 9.4l1-5.8l1 2.4l1-7.3l1 10.7l1-3.7l1-4l1 4.6l1-1.9l1 6.8l1-2.7l1-4.8l1 3.9l1-.6l1-2.1l1 .1l1 .2l1-1.8l1 3.2l1-2l1 1.1l1-.7l1-.9l1 6.8l1-4.1l1 .9l1 11.4l1-13.2l1-1.7l1-2.6l1 .8l1 5.3l1-5.2l1-1.7l1 5.3l1-.2l1 4.5l1-8.1l1 6.4l1-8.6l1 9.3l1-2.6l1-3.2l1 5.6l1-6.2l1 4.6l1-1.4l1 2.8l1-1.2l1-4.1l1 .2l1 0l1 4.2l1-.4l1-.9l1-1.3l1-.9l1-1.6l1 5.3l1-.2l1 2.2l1 .3l1-5.4l1 7.5l1-2.7l1-3.1l1 .2l1 .5l1-2.8l1-.4l1 1.9l1-1.1l1-5.8l1 8.4l1-6.5l1 5.7l1-1.7l1-.8l1 3.6l1-4l1-.4l1 3.2l1-.2l1-2.3l1-.2l1 .1l1 2.7l1 3.1l1-1.8l1-2.4l1-2.1l1 4.2l1 4.9l1 1.1l1-10.5l1 4.6l1-2.3l1 .1l1-.4l1-1.5l1-1.7l1 5l1-3.8l1 1.3l1 6.5l1-4.9l1-1.4l1 .8l1-.7l1 1.7l1 .3l1 2.8l1-2.3l1-2.9l1 2.9l1 .9l1-3.8l1 0l1-4.3l1 9.6l1-3.5l1 3.1l1-7.4l1-2.1l1 6.9l1-3l1 2.6l1-2.4l1 4.1l1-3l1 .4l1 1.7l1-2.4l1 .2l1 4.2l1-3.5l1 .8l1 .8l1-1l1 1l1 3.6l1-2.1l1-6.4l1-2.1l1 3.4l1-3.8l1-.8l1 4.2l1 .2l1 2.9l1 .7l1 4.4l1-7.4l1 .3l1 2.1l1 2.2l1-3.4l1-1.7l1-4.5l1 9l1-2.8l1 4.6l1 .7l1 .2l1-3.7l1 1.1l1-9.8l1 8.6l1-2l1 3.6l1-4.1l1 .8l1-1.5l1 6.8l1-4.4l1-2.9l1 1.6l1-2.3l1 6.4l1 5.5l1-8.2l1 .3l1-4.5l1 7.8l1-4.2l1 5.4l1-6.7l1 2.7l1 1l1-.2l1-8.1l1 8.8l1-1.8l1-.9l1-2.7l1 5.9l1-3.2l1 1.2l1-1.4l1 1l1-1.8l1 7.5l1-1.9l1-2.9l1-1.1l1 1l1-3.9l1 3.7l1-1.7l1-.9l1-.7l1 .1l1 2.9l1-1.2l1-2.1l1 3.1l1-.7l1-.6l1 4l1-4.4l1-2.8l1 3.9l1-3l1 4.7l1-.7l1-2.2l1 2l1-2.3l1-.1l1-3.4l1-.8l1 4.3l1 5.5l1-1.4l1-3.3l1-1.5l1 3l1-3.4l1 1.8l1 1.3l1-2.3l1 .9l1-.1l1 1.8l1 .3l1 .3l1-.8l1-3.6l1 1.4l1 2.4l1-1.2l1 2.1l1-5.4l1 .9l1 .1l1 2.9l1-2.3l1-.7l1 3.1l1-1.9l1-1.7l1 3.8l1-1.3l1 1.5l1 .2l1-3l1 .8l1 .4l1 2l1-1.8l1 8.9l1-10.2l1 1.4l1 3.2l1-6.7l1 .3l1 4.9l1 .2l1 .5l1-.3l1 .5l1-3.9l1 1.3l1 1.4l1-4.4l1-.2l1 1.7l1 3.9l1-.5l1 1.2l1-4.6l1-2.8l1 4.4l1 .3l1-6l1 3.2l1 5.1l1-.2l1-5.2l1 2.2l1 3.1l1-1.8l1 .3l1 1.3l1 1.1l1-6.3l1 5l1 2.1l1-6.2l1 5.1l1-1.2l1-3.7l1 2l1 3.1l1-4.6l1 0l1-10.7l1 7.7l1 3.2l1 .6l1 1.8l1 .7l1 2.7l1-3.2l1 5.1l1-4.9l1 1.5l1-5.4l1 3.1l1 1.3l1 0l1-3.5l1 5.9l1-7.9l1 4l1-3.5l1 5l1-1.8l1 1.2l1-.3l1-.4l1 .9l1-1.8l1-4.2l1 7.2l1-5l1 4.1l1-1l1-.4l1-.5l1 .3l1-.2l1-.5l1-.3l1 1l1 .8l1-2.6l1 1.7l1-4l1 1.3l1-2.2l1 3.6l1 1.6l1 .8l1-5.1l1 5.3l1-4.5l1 1.5l1-.2l1 5.1l1-7.3l1 8.6l1-2.8l1-3l1 1.6l1 2.4l1-5.5l1 .9l1 1.1l1-.7l1 .2l1 4.8l1-3.8l1-1.2l1-.2l1-2.3l1 5.3l1-3.6l1 8.3l1-5.6l1-2.6l1-1.5l1 1.8l1 2.2l1-2.5l1 3l1 .2l1-.4l1-.1l1-1.2l1-1.7l1-1.4l1-.9l1 2.8l1 2.8l1-1.7l1-2.5l1 4.8l1-4.7l1-.5l1 .5l1 .8l1 1.4l1-2.9l1-.9l1 5l1-.4l1 .5l1 .7l1-1.7l1 4.2l1-4.8l1 5.8l1-2.1l1-2.3l1-1.3l1 .3l1-2.8l1 4.5l1-7.1l1 6.5l1 2.2l1-1.4l1-1.2l1 .3l1-.6l1 3.8l1-8.8l1 3.5l1-.9l1 3.1l1-1.5l1 .7l1 4.4l1-4l1 1.4l1-3.1l1-.7l1-.8l1 6l1-6.2l1 1.6l1 6.8l1-4.7l1-.9l1-.6l1-2.3l1 3.7l1 1.6l1-4.7l1 1l1 5.3l1-5l1 2.7l1 3.8l1-3.6l1-2.2l1-2l1 2.8l1 2.6l1-5.9l1 2l1 1.8l1-2.6l1-2.1l1 2l1-.3l1-.6l1 5.1l1-4.8l1-.6l1 3.2l1 .7l1 9l1-9.5l1-4.1l1 1.2l1 4.5l1-3.9l1-3l1 9.2l1-8.2l1-.1l1 3.2l1 .4l1 2.3l1-6.2l1 5.4l1-2.1l1-3.5l1 3.5l1 1.8l1 3.3l1-6l1 3.3l1-5l1 11.2l1-7.7l1 3.6l1-7.2l1 .5l1-1.4l1 8.6l1-5.5l1 1.9l1-2.6l1 3.9l1-5l1-.7l1 .3l1 2.9l1-4.5l1 1.1l1 5.3l1 .7l1-2.8l1-4l1 2.2l1 1.4l1 4.9l1-5.6l1-2l1 .7l1 .8l1 .8l1 .7l1 5.6l1-6.4l1 1.1l1 2.9l1-4.5l1 0l1 .5l1 2.2l1-.5l1 .9l1-2.1l1 1l1-2.8l1 0l1 1.1l1 .4l1-3.1l1 1.2l1 6.2l1-.2l1 1.1l1-1.2l1-.6l1 2.1l1-2.7l1-2.5l1 .1l1 1.6l1-4.2l1 3l1-.5l1 .7l1-1.9l1 7.7l1-4.3l1-6.4l1 7.3l1-4.3l1 1.5l1 .6l1 2.2l1-7.1l1 5.6l1-1.1l1 6.2l1-5.9l1-2.2l1-1l1 3.3l1-1.2l1 1.6l1 .6l1-4l1 3.1l1-2l1 .1l1-.7l1 1.8l1-1.2l1 .1l1 .8l1-2.4l1 6.6l1-1.7l1-2.6l1 1.7l1-3.1l1 2.6l1-4.1l1 3.7l1 .5l1-1.3l1 2.8l1-3.9l1 2.4l1 1l1 0l1-1.4l1 4.2l1-2.2l1-.3l1-3.5l1 2l1-1.5l1 6.4l1-4.2l1-2.8l1-1.9l1 6.5l1-4.2l1 1.9l1 5.8l1-6.1l1 .8l1 5.8l1-6.8l1-2.9l1 .6l1 2.7l1 1.6l1-4.2l1-2.9l1 6.5l1-1.9l1-.8l1-.9l1 5l1-3.2l1-2.9l1 .7l1 1.4l1-2.5l1 2.3l1 4.2l1-.7l1 .3l1 0l1-2.1l1 .5l1-5.3l1 6.3l1-.4l1-1l1 0l1-3.3l1 1.5l1-2.8l1 2.7l1 .6l1-1l1 4.5l1-5l1 2.9l1-.4l1-1l1 1.8l1-.4l1-2l1 4.2l1-3.8l1 1.8l1-4.3l1 .1l1 2.5l1 5l1-9.6l1-.7l1-.1l1-.8l1-.7l1 .2l1-5.3l1 .1l1-2.3l1-1.1l1 1.8l1 4.7l1 1.5l1 4.9l1-1.1l1 .6l1-1.6l1 1.6l1 3.3l1 .1l1 3.6l1-5.6l1 3.3l1-1.7l1-7.9l1 11.1l1-2.2l1-1.5l1-.8l1 4.5l1-3.3l1 1.3l1 1.2l1-3l1 2.8l1-4.1l1-.8l1 6.1l1 .4l1-1.4l1-3.7l1 1l1-1.5l1 0l1-3.1l1 4.3l1 4.1l1-6.8l1 2.6l1-1.8l1-.2l1 4.4l1 2.8l1-2.9l1 .3l1 .2l1-1.4l1-6.9l1 1.1l1 7.1l1-7.9l1 10l1-1.5l1-1.3l1 .1l1 .9l1-3.3l1 6.1l1-5.3l1-1.6l1 7l1-4.4l1 .5l1 2.2l1 2.5l1-5.6l1 .3l1-6.9l1 6.7l1 4.2l1-6.2l1-.4l1-2l1 1.1l1-.1l1 3.4l1 .7l1-5.9l1 6.2l1 2.2l1-1.1l1-4.1l1 4l1-3.4l1-1.5l1-.8l1-.2l1 2.9l1 2.4l1-6.1l1-.5l1 8.1l1-5.4l1 8l1-4.6l1-4.7l1 6l1 .3l1-7l1 3.7l1 4.1l1-7.4l1 5l1-.2l1 4.1l1-7.4l1 1.4l1-2.6l1 2.7l1 1.2l1-.3l1-1.1l1-1.3l1 5.6l1-4.2l1-.9l1 2.4l1-.2l1-.4l1 3.1l1-5.6l1 3.3l1 1.9l1-3.8l1 1.5l1 1.3l1-.3l1-1.3l1-3.2l1 6.7l1-3.5l1-.8l1 0l1-.6l1-3.1l1 9.2l1-7.4l1 6.7l1 2.7l1-4.7l1 3.4l1-7.1l1-.9l1 1.5l1 3.6l1-2.5l1-4.2l1 6.2l1-3.4l1 3.4l1-2.1l1-2l1 .8l1 3.1l1-3.4l1 4.9l1-5.4l1 5.6l1-7l1 .6l1 4.3l1 2.3l1-4.6l1 2.8l1-4.4l1-.2l1 2.6l1 5.4l1-6.2l1-3.4l1-2.2l1 6.1l1 1.7l1-2.4l1 1.3l1-2.4l1 5.2l1-2l1-4.8l1 1.9l1 4.7l1-3.2l1-5.9l1 5l1-.3l1-5.4l1 7.8l1 2.4l1-5l1-.9l1 1.7l1-.6l1 1l1 1.5l1-5.4l1 8.1l1 .8l1-5.2l1 .6l1 .6l1-3l1-1.5l1 9.4l1-5.8l1-2.6l1 4.8l1-3.3l1-1.3l1 1l1-2.2l1 .9l1 4.9l1-2l1-1l1 4.1l1-5.6l1 1.2l1-2.8l1 2.4l1 4.7l1-.3l1 2.5l1-6.1l1-2.9l1 2.3l1 4.9l1-5.3l1 2.7l1 .8l1-3.4l1 4.2l1 .9l1-1.6l1-6.6l1 5.3l1 1.1l1 .5l1 2.4l1-4l1-.6l1-5.4l1-2.8l1 11l1-5.9l1 2.3l1-3.7l1 3.6l1-2.4l1 4.3l1-1.4l1 1.1l1-4.9l1 3.5l1 2.7l1-8.8l1 5l1 1.3l1 2.4l1-.6l1 .1l1-.8l1 1.2l1-2.5l1 .1l1-2.7l1 2.5l1-.1l1 4.6l1-6.9l1 3.6l1-1.4l1 .9l1 2.6l1-2.9l1-2.3l1 2.7l1 2.2l1-1.6l1 1l1-5.4l1 6l1-3.7l1-8.2l1 10.3l1-4.6l1 4.5l1 3.3l1-5.5l1-.9l1 5.2l1 2.1l1-2.7l1-7.2l1 2.8l1 6.9l1-6.9l1 .9l1 1.5l1 .3l1-1.1l1-6.1l1 2.7l1 .9l1 5.5l1 .7l1-6.1l1 3.2l1 3.9l1 .2l1-1.9l1-3.8l1 2.4l1-3.6l1 6.4l1-3l1 2.7l1-10.1l1 5l1 .1l1 .3l1-2.2l1 4.4l1-3.4l1 7.1l1-5.8l1-.3l1-.6l1 3.3l1-.6l1-3.4l1-4.2l1 5.8l1-1.3l1 2.2l1-2.3l1 3.1l1-3.8l1 3.7l1-1.3l1 3.1l1-2.9l1 2l1-2.4l1 .2l1-1.2l1-1.6l1 3.8l1-.5l1 4.1l1-2.9l1 3.7l1 .2l1-4.3l1-3.4l1 2.1l1 3.2l1-2.8l1 3l1-3.8l1 1.2l1 2.2l1-.7l1-.9l1-.2l1 .9l1-1.7l1 2.8l1-4.2l1 8.3l1-6.1l1-2.8l1-2l1 1.8l1 3.4l1-2.3l1 4.2l1-3.9l1-1.8l1 1.9l1-.6l1 .9l1 3.5l1-3.4l1-4.5l1 5.2l1-.7l1-.1l1-1.7l1 2l1 .7l1-5.1l1 7.1l1-3l1 1.7l1 2.7l1-7.2l1 .6l1 .1l1 2.6l1-2.7l1 .4l1 6.7l1-5.1l1 1.7l1 1.5l1 1.2l1-7.5l1 4.7l1 1l1 .9l1-4.6l1 .6l1 1.6l1-.4l1-1l1-.7l1 1.3l1-.5l1 1.4l1-2.3l1-1l1 1.5l1 .6l1 3.3l1-3.8l1-4.4l1 11.2l1-2.6l1-1.6l1-.3l1-1.2l1 4.5l1-7.8l1 5.2l1 0l1 7.6l1-9.8l1 4.2l1-2.8l1-3.8l1-.3l1 6.1l1-6.3l1 2.3l1 5.2l1-6.9l1 4l1 3.6l1-1.1l1-1.9l1-4l1 6.7l1 .2l1-4.9l1-3l1-2.8l1 6.7l1-2.2l1-3.3l1 6.8l1-1.7l1-2.3l1 .6l1 2.5l1-.1l1-3.7l1 4.7l1-2.9l1-2.1l1 8.2l1-5.5l1 3l1-1.3l1-7.7l1 2.7l1 5.3l1-1.4l1-3.2l1 1.1l1 5.6l1-10.4l1 9.4l1-.4l1-4.4l1 .8l1 1.7l1-.8l1 .9l1 2l1-4.7l1 1.6l1 1.2l1-2.3l1-3.2l1 8.1l1-9.2l1 6.1l1-2.1l1-1.6l1 2.4l1 1.5l1-2.1l1-.8l1 3.6l1 2.1l1-3.3l1 1.4l1-.6l1 .5l1-4.2l1 5.6l1-2l1 3.6l1-2.6l1-4.5l1 5.4l1 .5l1 3.2l1-7.6l1-.3l1 4.6l1-.5l1-.7l1-2l1-2l1 .7l1-.4l1 2.7l1-3.1l1 1.5l1-.4l1 1.7l1 1.6l1-6.5l1 4.9l1-2.9l1 1.3l1 .2l1 4.4l1-.2l1-4.5l1 0l1 4.3l1-2.4l1 3.5l1-6.6l1 4.7l1-4.2l1-5.7l1 8.9l1-4.4l1 4.3l1-2.7l1 4.1l1-6.8l1-.6l1 8l1-1.1l1-2.6l1-4.5l1 6.5l1 .5l1-3.7l1-.1l1-1.2l1 3.4l1-1.4l1-3.8l1 2.1l1 4.3l1-5.4l1 3.6l1 2l1-.7l1-6.7l1 6.2l1-4.4l1-2.4l1 .2l1 .8l1 3.6l1 3.8l1-1.8l1-1.8l1-2.6l1 3.1l1 1.9l1 .9l1-5.6l1 6.9l1-4.7l1 .5l1 .3l1-1.2l1-.4l1 2.5l1-3l1 2.8l1 .7l1-3.4l1 6.5l1-3.7l1-1.4l1 1.7l1-1.8l1-.7l1 .2l1 1.4l1 2.2l1-7.4l1 6.9l1-3.5l1-1.1l1 .8l1 4.3l1-.4l1-4.2l1-2.2l1 4.8l1 .1l1-4.3l1 3.6l1-3.7l1 4.9l1-3.1l1 2.6l1-1.7l1 2.6l1-1.6l1 1l1-1.6l1 5l1-4.5l1 1.7l1-3.3l1 1.9l1 5.4l1-8l1-1.8l1 1l1 1.7l1 .7l1-5.8l1 .7l1 7.1l1-5.7l1 5.4l1 1.4l1-9.9l1 8.1l1-1.3l1-1l1 1.8l1-1.1l1 1.5l1 3.3l1-4l1-9.8l1 12.6l1-.7l1 .8l1-2.8l1 1.3l1 2.8l1-5.3l1-1.4l1 5.3l1-4.7l1 3.9l1-4.4l1 .1l1 2l1 0l1-2.8l1 6.1l1-2.1l1-.3l1-4.2l1 .8l1 0l1 1.9l1-.1l1 .1l1-.5l1 2.3l1-.1l1-3.5l1 1.5l1 .7l1 .7l1-.6l1-2.3l1 0l1 1l1 5.6l1-8.6l1 .1l1 1.4l1 1.2l1-1.9l1 .5l1-1.1l1 3.3l1-6.5l1 5l1-1.7l1 1.6l1 .4l1-7.4l1 9.5l1-1.1l1 2.1l1-2.1l1 .2l1-1.1l1 2.5l1-7.6l1 3l1-2.2l1 4.4l1-1.7l1 3.3l1-4l1-1l1-.2l1-1.7l1-3.6l1 4.9l1-1.3l1-.4l1-2.1l1 2.8l1-3.2l1 2.9l1-1.7l1-.7l1-3.8l1 4.3l1 .7l1-3.3l1-1.9l1 2.2l1-.6l1-4.3l1 6.6l1-5l1-.9l1-4.6l1-2l1-5.8l1-.7l1-2l1-1.4l1-6.4l1-4.5l1 1.3l1-6.8l1-2.2l1-6.5l1-6.1l1-2.6l1-10l1 5.7l1-3.4l1 .2l1-4.1l1 6.1l1-.6l1-2.5l1 2.5l1 4l1-1.7l1 5.4l1 2l1 1.5l1 6l1-1.3l1 .9l1-.7l1 6.2l1-3.6l1-5.6l1 2.7l1-3.9l1 1l1-.1l1-3.5l1 5l1-4l1 5.3l1-7.2l1 9.7l1-5.6l1 5.1l1 2.3l1 5l1-.3l1-1.3l1 2.8l1 3.4l1 3.4l1-1.1l1 0l1 .4l1 5.5l1-5.4l1 1.7l1 2.9l1 3.2l1-6.8l1 8.1l1 1.6l1-1l1-4.2l1 4.5l1 3l1 2.5l1-2.5l1 8.6l1-.7l1-2l1 1.9l1 .8l1-1.4l1 3.7l1 1.4l1 3.3l1 1.3l1-5l1 2.8l1-.4l1 4.3l1-2.3l1-2.1l1 6l1-1.3l1 6.4l1-4.5l1 2.1l1-4.8l1 4.2l1-1.2l1 .2l1-.1l1-.8l1 2l1-.3l1 1.8l1-2.7l1-1.3l1 7.7l1-2.1l1-5.6l1 2.7l1 .5l1 3.1l1-5.4l1 7l1-7.1l1 1.9l1-.6l1-1.5l1 .4l1-4.5l1 6.8l1-.8l1-.8l1-4.2l1 6l1 5.7l1-.5l1 2.5l1-7.8l1 2.4l1-2.6l1 .2l1 1.6l1 2.3l1-3.9l1-.3l1 1.6l1-3.7l1 6.1l1 .4l1 .5l1-1l1-3.5l1 .9l1-6.1l1 7.6l1 4.8l1-8.1l1 4.2l1 1.9l1-6.2l1 8.2l1-7.2l1 6.4l1-3.6l1 1.4l1-.3l1-2.7l1-1.1l1-4.3l1 4.8l1 4.6l1-5.3l1-1.3l1 5.2l1-1.4l1-1.9l1 0l1 1.4l1-4.5l1 8.2l1-6.3l1 1.1l1 0l1 .9l1 1.7l1 2.2l1-2.5l1 3.5l1-5.1l1 2.8l1 3.7l1-5.1l1 1.4l1-4.4l1 6.1l1-1.3l1-1.7l1-1.3l1-2.9l1 1l1 4.7l1 .5l1 4.1l1-6.7l1 3.7l1-1.9l1-5.7l1 .8l1 2l1 4.4l1 .7l1-4.4l1 1.8l1-.6l1-7l1 9.3l1 .8l1-9.4l1 3.3l1 2.3l1 0l1 2.9l1 4l1-8.2l1 3.2l1-3.4l1 6l1-3.7l1 .8l1-3l1 6.5l1-4.4l1-.5l1 2l1-3.6l1 2.4l1-7.2l1 1.9l1 3.6l1-.3l1 .3l1-.8l1 3.2l1 1.7l1-4.5l1 4l1-4.8l1-1l1-.4l1 3.7l1 2.6l1-5.2l1-3l1 8l1 .4l1-3.6l1 3.5l1 2.4l1-7.5l1 1.3l1 0l1 3.8l1-5l1 1.4l1 4.1l1-.7l1 .1l1-5.1l1 3.6l1-2.7l1 3.9l1 2.8l1-3.3l1-2.3l1 .8l1 .6l1-1.5l1 1.4l1-3.4l1-.5l1-1.4l1 4.1l1 2.5l1-1l1-6.2l1 6.1l1-.9l1-.5l1 1l1 .9l1 2l1-.3l1 1.7l1-3.4l1-3l1 5l1-6.6l1 5.3l1-4.8l1 1.2l1 4.6l1-4.7l1 4.3l1-1.1l1-2l1 2.3l1-.4l1-1.2l1-2l1 3.8l1-3l1 .7l1 1.3l1-1.4l1 .9l1 .2l1-3.9l1 3.4l1 3.2l1-4.7l1 .1l1-2.1l1-2.8l1 7.7l1-.5l1 2.5l1-7.4l1 1.7l1 .5l1 6.5l1-2.7l1-2.8l1 .4l1 .9l1-3.7l1 3.7l1-3.6l1 3l1 1.5l1-1l1-2.5l1 1l1 2.8l1-3.3l1-2.2l1 2.7l1-.6l1 .8l1 .5l1-.9l1 0l1 3.2l1-.8l1 .9l1-2.2l1-6.5l1 7.1l1-4.5l1 .8l1 5l1-3.3l1-.5l1-1.1l1 3.9l1 .3l1 1.7l1-2.6l1-5l1 3.2l1-1.3l1 3.9l1 0l1-2.6l1-.4l1 2.8l1-2.8l1 5l1-5l1 2.5l1-5.9l1 6l1-2.6l1 2.3l1 2.1l1-3.2l1-6l1 1.2l1 5.4l1 3.2l1-6.3l1 5.5l1-3.2l1 2.9l1 0l1-3.3l1 1.3l1-3.4l1 4.1l1-1.2l1 4.1l1-1.8l1-2.6l1-1.3l1 1.1l1 4.6l1-2.1l1 .7l1-5.7l1 .4l1 3.5l1-3.9l1 2.8l1-4.2l1 3.6l1-.3l1 .3l1-.8l1 2.9l1 1l1-.4l1-2.5l1 4.2l1-5.2l1-.2l1 1.4l1 0l1-.1l1-2.9l1 5.6l1-3.8l1 1l1 2l1-.9l1-2.5l1-.9l1 4.6l1-4.3l1 3.7l1-3.6l1 10l1-10.1l1 7.2l1-2.6l1 1.6l1-.4l1-1.8l1-2.1l1 7l1-7.2l1 1.5l1-3.9l1-1.8l1 6.7l1-3.3l1 2.2l1-1.1l1-.2l1 2.5l1 .6l1-4.1l1-2.5l1 5.6l1 1.7l1-4.1l1-.9l1 4.6l1-3.2l1-.8l1 6.9l1-5.1l1-1.2l1 3.6l1 2.1l1-5.5l1-.2l1 5.5l1-2.5l1-5.7l1 3l1-1.6l1 .5l1 1.8l1-1.5l1 .2l1 6.2l1-9.4l1 8.3l1-2.7l1-5.1l1 .7l1 3.3l1 1.7l1-4.9l1 4l1-8.9l1 4.4l1 4.3l1 .9l1-5.5l1 .8l1 3.2l1-3.2l1-.5l1 .2l1 7.5l1-11.5l1 11.1l1-.5l1-.9l1-3.7l1-1.3l1 3l1-4.2l1 8.2l1-7.1l1 1.6l1 1.9l1 2.7l1-5.5l1-1.6l1 2.2l1 1.2l1-1.6l1-1.1l1 .8l1 2.9l1-1l1-1.3l1-3.1l1 .1l1 2.1l1-2.6l1-1.3l1 4.7l1-3.8l1-.5l1-2.9l1 1.2l1 .2l1-2.7l1-6l1 .9l1 .8l1-2.7l1 .1l1-5.1l1-.9l1 1.4l1-2.9l1 2.4l1-6l1 3.2l1 6.1l1 1.2l1 1.4l1 1.8l1 1.3l1-4.2l1 7.8l1-1.2l1-4.6l1-3.2l1 7.8l1-2.7l1 3.1l1-2.1l1-3.1l1 1.6l1 1.1l1 .9l1 2l1-3.6l1 3.1l1-1.5l1 .6l1-5.2l1 5.1l1-1.9l1 5.9l1 1.6l1-1.1l1 4.7l1-4.1l1 2l1-2.6l1 2.3l1-3.1l1 2.2l1 3.8l1-2.3l1-.6l1 .9l1 1.8l1 2.5l1-7.2l1 4l1-.1l1-.1l1 .7l1 1.5l1 1.8l1-7.3l1 1.5l1 3.4l1-3.9l1 5l1-3.3l1 1.9l1-2.6l1 .7l1 9.4l1-7.8l1 4.6l1-3.8l1 7l1-8.9l1 3.4l1-2.6l1-5.1l1 .1l1 6.1l1 2.1l1-3.7l1-.7l1 1.3l1 5.7l1-9l1 6.5l1 1.3l1-6.5l1 1.1l1 1.4l1-.7l1 4.2l1-2.2l1-1.6l1 2.3l1 2.3l1-4.1l1-1.2l1 4.6l1 2.1l1-.5l1-1.9l1-2.5l1 6.7l1-4.7l1 .2l1-1.7l1 2.8l1-.4l1-5.5l1 5.1l1-4.4l1 2.9l1-.6l1-2.2l1 1.3l1 .3l1-.4l1 .1l1-2.4l1 5l1-2.8l1 2.4l1-.9l1 1.1l1 .4l1-4.8l1 3l1 .8l1-2.2l1 .1l1 2.6l1 2.4l1-1.9l1 .4l1-1l1 4.1l1-4.8l1 2.3l1 4.4l1-5.8l1-1l1-4l1 5.3l1 4.2l1-5.3l1-2.5l1 1.1l1-1.6l1 2.8l1-1.6l1 3.2l1 2.3l1-2.6l1-5.2l1 4.1l1 3.4l1-6.9l1-4.2l1 6.2l1-1.7l1 4.4l1-2.3l1-1.5l1 3.9l1-1.6l1 1.3l1-1.1l1-1.3l1-1.4l1 3.9l1-3.6l1 5.1l1-2l1-.8l1-1.9l1 6.3l1-4.9l1 2.1l1-3.1l1 4.6l1-1.8l1 1.5l1-.5l1-2.4l1-2l1 2.5l1 2.4l1-3.5l1 8.9l1-5.6l1-1.5l1 .9l1 .6l1-1.7l1-.7l1 .5l1 .9l1 4l1-8.2l1 3.1l1-1.5l1 11.6l1-15.5l1 8.5l1-1.6l1-.3l1 1.5l1-1.7l1-1.8l1 5.6l1-7.8l1-1.8l1 2.8l1 3.7l1-3.5l1 2l1 2.2l1-.7l1-.7l1 1.8l1-2.7l1 2.7l1-2.3l1 9.6l1-7.3l1-2.5l1 2.7l1-.6l1-.1l1-1.3l1-3.8l1 1.7l1 3.6l1 .9l1-7.2l1 1.6l1-2.9l1 1.8l1 5l1-3.1l1 2.8l1 8.7l1-14.4l1 4.8l1 .5l1 .3l1 1.5l1 .4l1-1.5l1-8.8l1 10.3l1 2.5l1-2.1l1 1.5l1-3.9l1-1.9l1 1.6l1 .1l1 2.1l1-3.7l1 .5l1 5.3l1-2.1l1-4l1-1.9l1 2.9l1 1.5l1-1.9l1-3l1 .3l1 1.4l1 1.8l1-5l1 7.8l1-4.7l1-.4l1-2.3l1 1.8l1 2l1-.2l1 .3l1 1l1-1.5l1-2.7l1 4.1l1 .5l1-3l1 5l1-9.4l1 2.5l1 2.4l1 0l1-.9l1 3l1 2.3l1-1.5l1-.8l1 3.5l1-8l1 3.4l1 .7l1-1.1l1 .5l1-.2l1-1.1l1-1.4l1-5.5l1 7.7l1 1.9l1 .3l1 .6l1-8.3l1 3.9l1-.6l1 3l1 0l1-1.1l1 3.6l1-3.8l1 1.6l1 1.1l1-6.2l1 3.9l1 4.4l1-1.7l1 .7l1-1.9l1-.1l1-2.5l1-3l1 2l1-1.1l1 4l1 .9l1 3.7l1-7l1 2.5l1-.5l1 4l1-1.2l1 4.7l1-6.8l1-4.9l1 7.2l1 2.5l1-6.1l1 4.8l1-4.2l1 .8l1-.6l1-1.3l1 .4l1-3.3l1 4.9l1-.1l1 1.5l1 3.8l1-4.5l1 4.7l1-3.2l1-3l1 1l1-.6l1 3.3l1-4.6l1 4l1-1.6l1-7.9l1 8l1-2.7l1-.9l1 2.3l1 .9l1 11.6l1-12.2l1 2l1-2.5l1 1.5l1-3.6l1 1.8l1-3.6l1 1l1 2.1l1 3l1-4.3l1 .2l1-3.8l1 3.4l1 1.1l1-.9l1 6.8l1-5.7l1 4.9l1-3.3l1 4.2l1-7.1l1 3l1-6.7l1 9.6l1-1.7l1-2.6l1 6.2l1 1.5l1-2.8l1 .2l1-7.7l1 1.5l1-1.8l1 6.6l1-7.6l1 4.4l1 4.9l1-8.2l1 .5l1 1.1l1 5.5l1-6.1l1 1.6l1-6.1l1 7.1l1-1.4l1 4.2l1-5.2l1 1.5l1-5.1l1 9.6l1-.3l1-3.9l1 1.2l1 .7l1 1.6l1-7l1 1.9l1 8.3l1-2.9l1-1.5l1-1.4l1 2.1l1 .1l1 0l1-5.1l1 2.8l1-5l1 5.8l1-3.5l1 2.1l1-1.9l1 1.4l1 1.7l1 .9l1 0l1 1.1l1-2.2l1-3.7l1 3.5l1-1.4l1-3.2l1 2.8l1 2.7l1 1.6l1-3l1-3.3l1 3.5l1-1.8l1 5.2l1-6.6l1 5.5l1-2.8l1 1.6l1-2.9l1 3.3l1-5.5l1 3.6l1 1l1-2l1-3.4l1 6.2l1-2.1l1 4.7l1-7.9l1 8.1l1-2.9l1-2.4l1 2.5l1-4.6l1 5.2l1 1.3l1-8.4l1 5.2l1 3.6l1-3.3l1 3.2l1-4.1l1-1.1l1 4.8l1-.8l1-2.5l1 3.8l1-6.6l1 5.7l1-3.7l1 1.6l1-.3l1 .2l1 .9l1 2.3l1 0"/>
</g>
<g fill="#000" shape-rendering="crispEdges">
<rect x="367" y="1197" width="6" height="24"/><rect x="368" y="1196" width="4" height="1"/>
<rect x="552" y="1209" width="6" height="12"/><rect x="553" y="1208" width="4" height="1"/>
<rect x="736" y="1197" width="6" height="24"/><rect x="737" y="1196" width="4" height="1"/>
<rect x="921" y="1209" width="6" height="12"/><rect x="922" y="1208" width="4" height="1"/>
<rect x="1106" y="1197" width="6" height="24"/><rect x="1107" y="1196" width="4" height="1"/>
<rect x="1291" y="1209" width="6" height="12"/><rect x="1292" y="1208" width="4" height="1"/>
<rect x="1476" y="1197" width="6" height="24"/><rect x="1477" y="1196" width="4" height="1"/>
<rect x="1660" y="1209" width="6" height="12"/><rect x="1661" y="1208" width="4" height="1"/>
</g>
<g fill="#000">
<polygon points="287.5,106.1 264.6,129.1 310.4,129.1"/>
<polygon points="266.8,191.0 312.2,191.0 289.5,214.3"/>
<polygon points="285.5,262.0 300.0,281.0 285.5,300.0 271.0,281.0"/>
<rect x="479.1" y="96.5" width="34.3" height="32.5" rx="1.5"/>
<ellipse cx="495.0" cy="193.3" rx="16.7" ry="16.7"/>
<polygon points="489.8,433.0 503.2,450.0 489.8,467.0 476.2,450.0"/>
<rect x="540.6" y="566.9" width="26.2" height="26.2" rx="1.5"/>
<rect x="630.0" y="526.9" width="26.2" height="26.2" rx="1.5"/>
<rect x="1041.0" y="566.9" width="26.2" height="26.2" rx="1.5"/>
<rect x="1133.1" y="566.9" width="26.2" height="26.2" rx="1.5"/>
<ellipse cx="674.6" cy="540.1" rx="11.7" ry="13.0"/>
<ellipse cx="774.6" cy="577.4" rx="11.7" ry="13.0"/>
<polygon points="800.0,572.0 844.5,572.0 822.2,595.0"/>
<polygon points="802.5,94.0 780.0,117.0 825.0,117.0"/>
<polygon points="933.5,457.0 911.0,480.0 956.0,480.0"/>
<polygon points="1369.8,448.0 1347.2,471.0 1392.2,471.0"/>
<polygon points="1661.6,485.0 1639.1,508.0 1684.1,508.0"/>
<polygon points="1760.6,558.0 1738.1,581.0 1783.1,581.0"/>
</g>
<g fill="#000">
<text transform="translate(368.9,1300.8) scale(1,1.035)" font-size="67.4" text-anchor="middle">20</text>
<text transform="translate(738.4,1300.8) scale(1,1.035)" font-size="67.4" text-anchor="middle">40</text>
<text transform="translate(1107.9,1300.8) scale(1,1.035)" font-size="67.4" text-anchor="middle">60</text>
<text transform="translate(1477.4,1300.8) scale(1,1.035)" font-size="67.4" text-anchor="middle">80</text>
<text transform="translate(1846.9,1300.8) scale(1,1.035)" font-size="67.4" text-anchor="middle">100</text>
<text transform="translate(341.0,137.5) scale(1,1.035)" font-size="60.4" text-anchor="start">Cu</text>
<text transform="translate(343.0,219.0) scale(1,1.035)" font-size="60.4" text-anchor="start">Fe</text>
<text transform="translate(356.0,302.5) scale(1,1.035)" font-size="60.4" text-anchor="start">C</text>
<text transform="translate(555.0,137.5) scale(1,1.035)" font-size="60.4" text-anchor="start">Fe<tspan font-size="33" dy="23">3</tspan><tspan dy="-23">O</tspan><tspan font-size="33" dy="23">4</tspan></text>
<text transform="translate(558.0,219.0) scale(1,1.035)" font-size="60.4" text-anchor="start">FeO</text>
<text transform="translate(1571.5,393.5) scale(1,1.035)" font-size="60.4" text-anchor="start">5%GCB</text>
<text transform="translate(1578.5,932.5) scale(1,1.035)" font-size="60.4" text-anchor="start">5%HSG</text>
<text transform="translate(75.1,802.5) rotate(-90) scale(1,1.035)" font-size="70.7">Intensity/a.u</text>
<text transform="translate(956,1414) scale(1,1.035)" font-size="70.7">2</text>
<text class="ser" transform="translate(995.5,1414.3) scale(1.085,0.96)" font-size="66">θ</text>
<text class="ser" x="1031" y="1414" font-size="66">/</text>
<text class="ser" x="1048.4" y="1414" font-size="66">°</text>
</g>
</svg>
</body></html>
